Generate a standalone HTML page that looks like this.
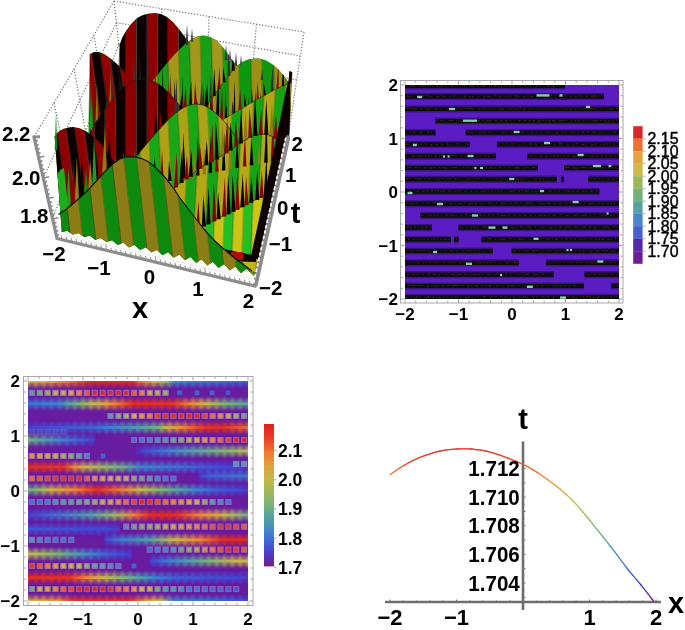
<!DOCTYPE html><html><head><meta charset="utf-8"><style>html,body{margin:0;padding:0;background:#fff;overflow:hidden}svg{display:block}</style></head><body>
<svg width="685" height="630" viewBox="0 0 685 630">
<rect width="685" height="630" fill="#fff"/>
<defs><filter id="gsoft" x="0" y="0" width="100%" height="100%" filterUnits="userSpaceOnUse"><feGaussianBlur stdDeviation="0.45"/></filter></defs>
<g filter="url(#gsoft)">
<defs><pattern id="prb" patternUnits="userSpaceOnUse" width="21.0" height="400" patternTransform="translate(0,0) skewX(0)"><rect width="10.5" height="400" fill="#8e0404"/><rect x="10.5" width="10.5" height="400" fill="#0a0302"/><rect x="10.0" width="0.8" height="400" fill="#555" opacity="0.6"/><rect x="20.5" width="0.8" height="400" fill="#555" opacity="0.6"/></pattern><pattern id="prb2" patternUnits="userSpaceOnUse" width="18" height="400" patternTransform="translate(3,0) skewX(8)"><rect width="9" height="400" fill="#8e0404"/><rect x="9" width="9" height="400" fill="#0a0302"/><rect x="8.5" width="0.8" height="400" fill="#555" opacity="0.6"/><rect x="17.5" width="0.8" height="400" fill="#555" opacity="0.6"/></pattern><pattern id="pgo" patternUnits="userSpaceOnUse" width="25.0" height="400" patternTransform="translate(6,0) skewX(6.5)"><rect width="12.5" height="400" fill="#0b8a0e"/><rect x="12.5" width="12.5" height="400" fill="#8c7c12"/><rect x="12.0" width="0.8" height="400" fill="#2c3a1a" opacity="0.6"/><rect x="24.5" width="0.8" height="400" fill="#2c3a1a" opacity="0.6"/></pattern><pattern id="pgo2" patternUnits="userSpaceOnUse" width="22" height="400" patternTransform="translate(5,0) skewX(4)"><rect width="11" height="400" fill="#0b8a0e"/><rect x="11" width="11" height="400" fill="#8c7c12"/><rect x="10.5" width="0.8" height="400" fill="#2c3a1a" opacity="0.6"/><rect x="21.5" width="0.8" height="400" fill="#2c3a1a" opacity="0.6"/></pattern><pattern id="pfg" patternUnits="userSpaceOnUse" width="22" height="400" patternTransform="translate(1,0) skewX(2)"><rect width="11" height="400" fill="#13a013"/><rect x="11" width="11" height="400" fill="#a2981a"/><rect x="10.5" width="0.8" height="400" fill="#3a3a1a" opacity="0.6"/><rect x="21.5" width="0.8" height="400" fill="#3a3a1a" opacity="0.6"/></pattern><pattern id="pgo3" patternUnits="userSpaceOnUse" width="23" height="400" patternTransform="translate(8,0) skewX(1)"><rect width="12" height="400" fill="#10980f"/><rect x="12" width="11" height="400" fill="#9c9018"/><rect x="11.5" width="0.8" height="400" fill="#3a3a1a" opacity="0.6"/><rect x="22.5" width="0.8" height="400" fill="#3a3a1a" opacity="0.6"/></pattern><pattern id="pgy" patternUnits="userSpaceOnUse" width="20" height="400" patternTransform="translate(2,0) skewX(3)"><rect width="10" height="400" fill="#16a816"/><rect x="10" width="10" height="400" fill="#aca218"/><rect x="9.5" width="0.8" height="400" fill="#4a4a1a" opacity="0.6"/><rect x="19.5" width="0.8" height="400" fill="#4a4a1a" opacity="0.6"/></pattern><pattern id="pgy2" patternUnits="userSpaceOnUse" width="21" height="400" patternTransform="translate(7,0) skewX(-3)"><rect width="10" height="400" fill="#12a412"/><rect x="10" width="11" height="400" fill="#b4a816"/><rect x="9.5" width="0.8" height="400" fill="#4a4a1a" opacity="0.6"/><rect x="20.5" width="0.8" height="400" fill="#4a4a1a" opacity="0.6"/></pattern><pattern id="pgy3" patternUnits="userSpaceOnUse" width="19" height="400" patternTransform="translate(4,0) skewX(-2)"><rect width="9" height="400" fill="#22c020"/><rect x="9" width="10" height="400" fill="#cfc418"/><rect x="8.5" width="0.8" height="400" fill="#4a4a1a" opacity="0.6"/><rect x="18.5" width="0.8" height="400" fill="#4a4a1a" opacity="0.6"/></pattern></defs>
<path d="M114.0,1.0L34.0,137.0M114.0,1.0L304.0,32.0M116.4,22.6L43.3,178.0M116.4,22.6L300.5,56.0M118.8,44.2L52.5,219.0M118.8,44.2L297.0,80.0M94.0,35.0L104.2,100.9M161.5,8.8L163.8,64.2M74.0,69.0L88.5,146.8M209.0,16.5L207.5,73.5M54.0,103.0L72.8,192.6M256.5,24.2L251.2,82.8M114.0,1.0L120.0,55.0M304.0,32.0L288.0,137.0" stroke="#7a7a7a" stroke-width="1.2" stroke-dasharray="1.3 1.7" fill="none"/>
<defs><clipPath id="surf"><path d="M54.5,135.0 L54.5,136.4 L55.5,135.1 L56.5,133.9 L57.5,132.6 L58.5,131.7 L59.5,131.1 L60.5,130.5 L61.5,129.9 L62.5,129.3 L63.5,128.8 L64.5,128.6 L65.5,128.2 L66.5,128.0 L67.5,127.7 L68.5,127.5 L69.5,127.3 L70.5,127.2 L71.5,127.2 L72.5,127.0 L73.5,127.1 L74.5,127.2 L75.5,127.4 L76.5,127.6 L77.5,127.8 L78.5,127.9 L79.5,128.2 L80.5,128.6 L81.5,129.0 L82.5,129.5 L83.5,129.9 L84.5,130.3 L85.5,130.9 L86.5,131.6 L87.5,132.4 L88.5,133.1 L89.5,54.0 L90.5,53.8 L91.5,53.2 L92.5,52.8 L93.5,52.2 L94.5,52.0 L95.5,52.0 L96.5,52.0 L97.5,52.0 L98.5,52.0 L99.5,52.2 L100.5,52.6 L101.5,53.0 L102.5,53.4 L103.5,53.8 L104.5,54.3 L105.5,55.0 L106.5,55.7 L107.5,56.3 L108.5,57.0 L109.5,57.7 L110.5,58.4 L111.5,59.2 L112.5,60.1 L113.5,60.9 L114.5,61.8 L115.5,62.6 L116.5,63.5 L117.5,64.5 L118.5,65.5 L119.5,44.0 L120.5,42.5 L121.5,39.5 L122.5,37.1 L123.5,35.4 L124.5,33.6 L125.5,31.9 L126.5,30.3 L127.5,28.9 L128.5,27.5 L129.5,26.1 L130.5,24.7 L131.5,23.5 L132.5,22.5 L133.5,21.5 L134.5,20.5 L135.5,19.5 L136.5,18.5 L137.5,17.8 L138.5,17.2 L139.5,16.8 L140.5,16.2 L141.5,15.8 L142.5,15.2 L143.5,14.9 L144.5,14.6 L145.5,14.4 L146.5,14.1 L147.5,13.9 L148.5,13.6 L149.5,13.5 L150.5,13.4 L151.5,13.3 L152.5,13.2 L153.5,13.1 L154.5,13.0 L155.5,13.1 L156.5,13.2 L157.5,13.4 L158.5,13.6 L159.5,13.8 L160.5,13.9 L161.5,14.2 L162.5,14.8 L163.5,15.2 L164.5,15.8 L165.5,16.2 L166.5,16.8 L167.5,17.4 L168.5,18.2 L169.5,19.1 L170.5,19.9 L171.5,20.8 L172.5,21.6 L173.5,22.6 L174.5,23.8 L175.5,24.9 L176.5,26.1 L177.5,27.2 L178.5,28.4 L179.5,29.7 L180.5,31.0 L181.5,32.3 L182.5,33.7 L183.5,35.0 L184.5,36.3 L185.5,37.8 L186.5,39.4 L187.5,41.0 L188.5,41.3 L189.5,40.7 L190.5,40.0 L191.5,39.3 L192.5,38.8 L193.5,38.2 L194.5,37.8 L195.5,37.2 L196.5,36.8 L197.5,36.2 L198.5,36.0 L199.5,35.9 L200.5,35.8 L201.5,35.7 L202.5,35.6 L203.5,35.5 L204.5,35.6 L205.5,35.9 L206.5,36.1 L207.5,36.4 L208.5,36.6 L209.5,36.9 L210.5,37.2 L211.5,37.8 L212.5,38.2 L213.5,38.8 L214.5,39.2 L215.5,39.8 L216.5,40.5 L217.5,41.5 L218.5,42.5 L219.5,43.5 L220.5,44.5 L221.5,45.5 L222.5,46.7 L223.5,48.0 L224.5,49.3 L225.5,50.7 L226.5,52.0 L227.5,53.3 L228.5,54.7 L229.5,56.1 L230.5,57.5 L231.5,58.9 L232.5,60.3 L233.5,61.6 L234.5,62.9 L235.5,64.1 L236.5,65.4 L237.5,65.5 L238.5,64.7 L239.5,64.0 L240.5,63.2 L241.5,62.4 L242.5,61.8 L243.5,61.4 L244.5,61.0 L245.5,60.5 L246.5,60.1 L247.5,59.7 L248.5,59.4 L249.5,59.2 L250.5,59.1 L251.5,58.9 L252.5,58.8 L253.5,58.6 L254.5,58.5 L255.5,58.5 L256.5,58.5 L257.5,58.5 L258.5,58.5 L259.5,58.5 L260.5,58.7 L261.5,59.0 L262.5,59.3 L263.5,59.7 L264.5,60.0 L265.5,60.3 L266.5,60.8 L267.5,61.4 L268.5,62.0 L269.5,62.5 L270.5,63.1 L271.5,63.7 L272.5,64.4 L273.5,65.2 L274.5,66.1 L275.5,66.9 L276.5,67.8 L277.5,68.6 L278.5,69.6 L279.5,70.7 L280.5,71.8 L281.5,72.9 L282.5,74.0 L283.5,75.1 L284.5,76.4 L285.5,77.9 L286.5,79.3 L287.5,80.8 L288.5,82.3 L289.3,71.0 L292.5,72.0 L289.0,137.0 L256.5,280.0 L254.0,276.0 L246.5,269.0 L240.9,273.2 L235.3,266.7 L229.7,270.6 L224.1,264.3 L218.5,268.0 L212.9,261.9 L207.3,265.5 L201.7,259.5 L196.1,262.9 L190.5,257.1 L184.9,260.3 L179.3,254.7 L173.7,257.7 L168.1,252.3 L162.5,255.2 L156.9,249.9 L151.3,252.6 L145.7,247.5 L140.1,250.0 L134.5,245.1 L128.9,247.4 L123.3,242.7 L117.7,244.9 L112.1,240.3 L106.5,242.3 L100.9,237.9 L95.3,239.7 L89.7,235.5 L84.1,237.1 L78.5,233.1 L72.9,234.6 L67.3,230.7 L61.7,232.0 L61.7,230.0Z"/></clipPath></defs>
<g clip-path="url(#surf)">
<rect x="50" y="0" width="250" height="290" fill="url(#pgo2)"/>
<path d="M120.0,44.0 L122.0,38.0 L126.0,31.0 L131.0,24.0 L137.0,18.0 L143.0,15.0 L149.0,13.5 L155.0,13.0 L161.0,14.0 L167.0,17.0 L173.0,22.0 L179.0,29.0 L185.0,37.0 L190.0,45.0 L196.0,54.0 L202.0,64.0 L202.0,160.0 L120.0,160.0Z" fill="url(#prb)"/>
<path d="M90.0,54.0 L94.0,52.0 L99.0,52.0 L104.0,54.0 L110.0,58.0 L116.0,63.0 L122.0,69.0 L128.0,76.0 L134.0,84.0 L134.0,160.0 L90.0,160.0Z" fill="url(#prb2)"/>
<path d="M90.4,132.0L92.1,100.1L93.6,132.0ZM103.8,132.0L106.4,100.3L107.0,132.0ZM119.7,132.0L121.8,85.8L122.9,132.0Z" fill="#0b8a0e" opacity="1"/>
<path d="M95.1,132.0L97.0,81.8L98.3,132.0ZM108.7,132.0L110.3,70.2L111.9,132.0ZM125.1,132.0L127.2,108.8L128.3,132.0Z" fill="#8c7c12" opacity="1"/>
<path d="M99.3,132.0L101.5,111.3L102.5,132.0ZM114.0,132.0L115.9,104.5L117.2,132.0ZM130.3,132.0L130.9,96.9L133.5,132.0Z" fill="#1c9a1c" opacity="1"/>
<path d="M150.0,84.0 L156.0,77.0 L162.0,69.0 L168.0,62.0 L174.0,55.0 L180.0,49.0 L186.0,43.0 L192.0,39.0 L198.0,36.0 L204.0,35.5 L210.0,37.0 L216.0,40.0 L222.0,46.0 L228.0,54.0 L233.0,61.0 L237.0,66.0 L237.0,170.0 L150.0,170.0Z" fill="url(#pfg)"/>
<path d="M196.0,122.0 L200.0,116.0 L207.5,105.0 L215.0,94.0 L222.0,84.0 L229.0,75.0 L235.6,67.0 L242.0,62.0 L248.0,59.5 L254.0,58.5 L260.0,58.5 L266.0,60.5 L272.0,64.0 L278.0,69.0 L284.0,75.7 L289.0,83.0 L291.0,71.0 L291.0,180.0 L196.0,180.0Z" fill="url(#pgo3)"/>
<path d="M196.0,122.0 L200.0,116.0 L207.5,105.0 L215.0,94.0 L222.0,84.0 L229.0,75.0 L235.6,67.0" fill="none" stroke="#1a1a10" stroke-width="0.8" opacity="0.6"/>
<path d="M289,71 L292,72 L288,140 L284,140Z" fill="#0a0302"/>
<path d="M158.2,129.3L160.4,87.8L161.8,129.3ZM173.0,131.3L174.7,78.3L176.6,131.3ZM187.2,133.2L189.9,100.6L190.8,133.2ZM201.0,135.0L202.5,96.5L204.6,135.0ZM215.8,137.0L218.3,79.5L219.4,137.0ZM232.1,139.2L234.8,80.4L235.7,139.2ZM247.3,141.8L248.6,96.7L250.9,141.8ZM258.9,144.1L260.5,91.1L262.5,144.1ZM273.0,147.0L275.0,120.4L276.6,147.0Z" fill="#0a0302" opacity="1"/>
<path d="M166.3,130.4L168.9,80.4L169.9,130.4ZM194.0,134.1L195.4,87.2L197.6,134.1ZM224.1,138.1L225.3,89.6L227.7,138.1ZM253.0,143.0L255.8,88.1L256.6,143.0ZM278.7,148.1L280.1,98.0L282.3,148.1Z" fill="#8e0404" opacity="1"/>
<path d="M181.2,132.4L182.2,76.6L184.8,132.4ZM208.2,136.0L210.9,90.6L211.8,136.0ZM239.3,140.2L240.6,90.2L242.9,140.2ZM264.9,145.3L267.2,110.1L268.5,145.3Z" fill="#222" opacity="1"/>
<path d="M111.3,101.7L112.0,67.1L112.7,101.7ZM133.7,82.7L133.7,55.5L135.1,82.7ZM154.6,84.2L155.6,58.8L156.0,84.2Z" fill="#3a3a3a" opacity="1"/>
<path d="M119.7,91.7L119.5,70.5L121.1,91.7ZM139.4,81.3L139.8,49.0L140.8,81.3ZM161.9,89.0L162.8,62.8L163.3,89.0Z" fill="#222" opacity="1"/>
<path d="M127.0,86.0L127.1,70.4L128.4,86.0ZM147.7,81.7L148.2,48.8L149.1,81.7ZM170.1,97.0L170.7,71.9L171.5,97.0Z" fill="#5a1a1a" opacity="1"/>
<path d="M196.5,120.0L197.6,100.2L199.5,120.0ZM205.5,106.8L207.1,83.5L208.5,106.8ZM212.8,96.0L214.3,68.4L215.8,96.0ZM222.6,82.3L223.2,66.9L225.6,82.3ZM231.8,70.8L233.0,43.9L234.8,70.8Z" fill="#0a0302" opacity="1"/>
<path d="M201.9,112.1L203.5,86.6L204.9,112.1ZM217.6,89.1L219.6,67.0L220.6,89.1Z" fill="#8e0404" opacity="1"/>
<path d="M209.1,101.4L210.9,74.1L212.1,101.4ZM227.4,76.1L228.4,41.9L230.4,76.1Z" fill="#333" opacity="1"/>
<path d="M91.0,130.0 L96.0,122.0 L102.0,113.0 L108.0,105.0 L114.0,97.0 L120.0,90.0 L126.0,85.0 L132.0,81.5 L138.0,79.5 L144.0,79.0 L150.0,80.0 L156.0,82.5 L162.0,86.5 L168.0,92.0 L174.0,98.5 L180.0,106.0 L186.0,114.0 L192.0,123.0 L198.0,133.0 L204.0,143.0 L204.0,200.0 L91.0,200.0Z" fill="url(#prb)"/>
<path d="M90.3,175.1L91.7,157.3L93.7,175.1ZM116.5,178.7L117.6,162.8L119.9,178.7ZM139.4,181.9L141.8,155.6L142.8,181.9Z" fill="#0b8a0e" opacity="1"/>
<path d="M96.5,176.0L98.0,158.5L99.9,176.0ZM122.3,179.5L123.2,152.1L125.7,179.5ZM145.2,182.7L146.2,167.1L148.6,182.7Z" fill="#8c7c12" opacity="1"/>
<path d="M103.2,176.9L105.0,166.2L106.6,176.9ZM127.9,180.3L130.3,162.0L131.3,180.3Z" fill="#8e0404" opacity="1"/>
<path d="M109.7,177.8L110.9,160.1L113.1,177.8ZM133.7,181.1L134.8,149.7L137.1,181.1Z" fill="#19a019" opacity="1"/>
<path d="M205.0,130.0 L215.0,124.5 L224.0,119.0 L235.0,112.5 L245.0,106.5 L255.0,100.5 L265.0,95.0 L275.0,89.5 L283.0,86.0 L291.0,83.0 L291.0,200.0 L205.0,200.0Z" fill="url(#pgy2)"/>
<path d="M205.0,130.0 L215.0,124.5 L224.0,119.0 L235.0,112.5 L245.0,106.5 L255.0,100.5 L265.0,95.0 L275.0,89.5 L283.0,86.0 L291.0,83.0" fill="none" stroke="#1a1a10" stroke-width="0.8" opacity="0.6"/>
<path d="M224.8,117.8L226.6,104.4L227.2,117.8ZM244.0,106.4L244.8,94.1L246.4,106.4ZM263.5,95.2L263.7,82.4L265.9,95.2ZM281.7,86.0L283.6,62.6L284.1,86.0Z" fill="#0a0302" opacity="1"/>
<path d="M231.6,113.8L232.4,100.5L234.0,113.8ZM250.7,102.4L251.6,87.5L253.1,102.4ZM270.6,91.3L272.7,65.4L273.0,91.3Z" fill="#2a2a2a" opacity="1"/>
<path d="M238.3,109.8L240.2,88.2L240.7,109.8ZM256.5,99.0L257.5,81.5L258.9,99.0ZM276.4,88.4L278.5,61.3L278.8,88.4Z" fill="#8e0404" opacity="1"/>
<path d="M154.4,134.0L155.6,107.1L157.6,134.0ZM164.3,123.3L166.5,101.7L167.5,123.3ZM179.4,110.2L181.4,94.9L182.6,110.2ZM188.7,105.8L191.2,81.3L191.9,105.8ZM204.4,107.5L206.1,88.0L207.6,107.5ZM215.9,115.8L218.1,82.2L219.1,115.8Z" fill="#0a0302" opacity="1"/>
<path d="M159.1,128.9L159.8,108.7L162.3,128.9ZM168.3,119.2L170.3,83.4L171.5,119.2ZM183.7,107.9L185.6,86.0L186.9,107.9ZM194.0,105.1L195.1,82.2L197.2,105.1ZM210.0,111.0L212.2,92.0L213.2,111.0ZM219.9,119.6L222.2,90.1L223.1,119.6Z" fill="#8e0404" opacity="1"/>
<path d="M174.2,113.9L176.6,78.3L177.4,113.9ZM199.7,105.8L201.9,79.8L202.9,105.8Z" fill="#333" opacity="1"/>
<path d="M134.0,160.0 L140.0,152.0 L145.0,146.0 L150.0,140.0 L156.0,133.0 L162.0,126.5 L168.0,120.0 L175.0,113.5 L182.0,108.5 L189.0,105.0 L196.0,104.0 L203.0,105.0 L209.0,108.0 L215.0,112.5 L221.0,118.0 L227.0,125.0 L233.0,133.0 L239.0,142.0 L239.0,200.0 L134.0,200.0Z" fill="url(#pgy)"/>
<path d="M171.0,191.0 L180.0,183.0 L190.0,176.0 L200.0,168.0 L210.0,162.0 L220.0,157.0 L230.0,150.0 L240.0,143.0 L250.0,137.0 L258.0,134.0 L266.0,134.0 L274.0,137.0 L282.0,142.0 L288.0,148.0 L288.0,148.0 L289.0,160.0 L262.0,240.0 L171.0,240.0Z" fill="url(#pgy2)"/>
<path d="M153.2,184.0L154.5,155.9L156.8,184.0ZM168.1,181.0L169.0,161.0L171.7,181.0ZM182.3,178.2L183.3,132.5L185.9,178.2ZM195.9,175.5L197.9,136.0L199.5,175.5ZM208.5,173.1L210.7,136.4L212.1,173.1ZM221.8,170.6L224.2,132.4L225.4,170.6ZM235.3,168.1L237.1,136.9L238.9,168.1ZM249.7,165.3L251.6,138.0L253.3,165.3ZM264.1,162.7L266.7,116.3L267.7,162.7ZM277.0,160.2L278.1,126.3L280.6,160.2Z" fill="#0a0302" opacity="1"/>
<path d="M160.3,182.6L162.0,149.9L163.9,182.6ZM189.3,176.8L190.8,147.3L192.9,176.8ZM215.1,171.8L216.3,149.4L218.7,171.8ZM242.8,166.6L245.0,134.0L246.4,166.6ZM270.7,161.4L273.1,114.5L274.3,161.4Z" fill="#8e0404" opacity="1"/>
<path d="M174.0,179.8L174.9,156.1L177.6,179.8ZM202.5,174.2L204.0,148.5L206.1,174.2ZM228.5,169.3L230.5,125.3L232.1,169.3ZM257.3,163.9L258.9,141.8L260.9,163.9Z" fill="#8c7c12" opacity="1"/>
<path d="M173.9,187.6L176.8,152.3L178.1,187.6ZM184.6,179.3L186.9,155.2L188.8,179.3ZM198.5,168.7L199.6,143.1L202.7,168.7ZM209.5,162.2L212.5,123.5L213.7,162.2ZM224.4,153.4L227.4,116.5L228.6,153.4ZM234.2,146.6L235.6,119.8L238.4,146.6ZM248.2,137.9L249.4,107.5L252.4,137.9ZM258.7,135.0L261.2,109.8L262.9,135.0ZM273.4,139.0L276.0,115.1L277.6,139.0Z" fill="#8e0404" opacity="1"/>
<path d="M179.5,182.9L182.1,147.5L183.7,182.9ZM188.6,176.4L191.3,151.6L192.8,176.4ZM204.2,165.2L206.9,140.8L208.4,165.2ZM214.7,159.6L215.8,121.6L218.9,159.6ZM228.5,150.6L230.8,122.1L232.7,150.6ZM238.7,143.5L241.3,109.2L242.9,143.5ZM253.2,136.0L255.1,94.6L257.4,136.0ZM264.2,135.1L266.3,99.6L268.4,135.1Z" fill="#0a0302" opacity="1"/>
<path d="M192.7,173.2L194.0,149.3L196.9,173.2ZM220.2,156.4L222.7,124.2L224.4,156.4ZM243.5,140.7L245.4,111.3L247.7,140.7ZM269.2,137.0L272.0,102.1L273.4,137.0Z" fill="#8c7c12" opacity="1"/>
<path d="M91.0,130.0 L96.0,122.0 L102.0,113.0 L108.0,105.0 L114.0,97.0 L120.0,90.0 L126.0,85.0 L132.0,81.5 L138.0,79.5 L144.0,79.0 L150.0,80.0 L156.0,82.5 L162.0,86.5 L168.0,92.0 L174.0,98.5 L180.0,106.0" fill="none" stroke="#1a1a10" stroke-width="0.9" opacity="0.7"/>
<path d="M134.0,160.0 L140.0,152.0 L145.0,146.0 L150.0,140.0 L156.0,133.0 L162.0,126.5 L168.0,120.0 L175.0,113.5 L182.0,108.5 L189.0,105.0 L196.0,104.0 L203.0,105.0 L209.0,108.0 L215.0,112.5 L221.0,118.0 L227.0,125.0 L233.0,133.0 L239.0,142.0" fill="none" stroke="#1a1a10" stroke-width="0.9" opacity="0.7"/>
<path d="M171.0,191.0 L180.0,183.0 L190.0,176.0 L200.0,168.0 L210.0,162.0 L220.0,157.0 L230.0,150.0 L240.0,143.0 L250.0,137.0 L258.0,134.0 L266.0,134.0 L274.0,137.0 L282.0,142.0 L288.0,148.0" fill="none" stroke="#1a1a10" stroke-width="0.9" opacity="0.7"/>
<path d="M54.0,137.0 L58.0,132.0 L63.0,129.0 L68.0,127.5 L73.0,127.0 L79.0,128.0 L85.0,130.5 L91.0,135.0 L97.0,140.0 L103.0,147.0 L109.0,155.0 L115.0,163.0 L115.0,240.0 L54.0,240.0Z" fill="url(#prb2)"/>
<path d="M57.6,216.5L59.9,176.0L62.4,216.5ZM83.7,194.9L86.1,169.2L88.5,194.9Z" fill="#0b8a0e" opacity="1"/>
<path d="M62.5,213.2L64.4,182.6L67.3,213.2ZM74.6,203.2L76.8,157.0L79.4,203.2ZM88.0,190.5L90.1,160.4L92.8,190.5ZM102.0,175.1L105.1,125.0L106.8,175.1Z" fill="#8c7c12" opacity="1"/>
<path d="M66.5,210.2L68.5,167.6L71.3,210.2ZM92.2,186.0L93.9,137.8L97.0,186.0Z" fill="#1ca01c" opacity="1"/>
<path d="M70.5,206.8L73.8,161.0L75.3,206.8ZM97.6,180.0L100.2,140.6L102.4,180.0Z" fill="#8e0404" opacity="1"/>
<path d="M79.7,198.7L81.7,156.1L84.5,198.7ZM106.6,170.4L109.5,131.0L111.4,170.4Z" fill="#0a0302" opacity="1"/>
<path d="M56.5,176 L60,170 L64,168 L68,206 L58,214 Z" fill="#1fae1c"/>
<path d="M196.0,232.0 L200.0,227.6 L215.0,220.0 L230.0,212.5 L245.0,205.0 L258.0,198.5 L266.0,195.0 L272.0,192.0 L272.0,192.0 L262.0,262.0 L196.0,262.0Z" fill="url(#pgy3)"/>
<path d="M195.9,230.8L198.5,200.8L200.1,230.8ZM212.2,221.4L213.8,182.3L216.4,221.4ZM222.0,216.5L224.9,177.3L226.2,216.5ZM235.5,209.7L237.2,171.0L239.7,209.7ZM244.3,205.3L246.2,176.6L248.5,205.3ZM259.4,198.0L261.8,170.5L263.6,198.0Z" fill="#8e0404" opacity="1"/>
<path d="M201.8,226.6L203.4,195.3L206.0,226.6ZM206.3,224.3L208.7,188.0L210.5,224.3ZM216.6,219.2L218.1,192.0L220.8,219.2ZM226.5,214.2L228.2,174.9L230.7,214.2ZM231.4,211.8L232.6,175.2L235.6,211.8ZM240.3,207.3L242.7,173.7L244.5,207.3ZM249.2,202.8L251.5,176.6L253.4,202.8ZM255.1,199.9L257.3,170.1L259.3,199.9ZM263.6,196.1L266.5,156.4L267.8,196.1Z" fill="#0a0302" opacity="1"/>
<path d="M196.0,232.0 L200.0,227.6 L215.0,220.0 L230.0,212.5 L245.0,205.0 L258.0,198.5 L266.0,195.0 L272.0,192.0" fill="none" stroke="#1a1a10" stroke-width="0.9" opacity="0.7"/>
<path d="M219,248 L257,256 L256,262 L232,261 L222,254Z" fill="#0a0302"/>
<rect x="231" y="252" width="12" height="8" fill="#b00808"/>
<path d="M243,262 L256,262 L255,272 L246,270Z" fill="#c2b416"/>
<path d="M284,100 L290,72 L291,140 L263,262 L251,256 L275,145 Z" fill="#0a0302"/>
<path d="M58.5,214.5 L66.7,209.0 L72.0,204.5 L78.4,199.0 L84.0,194.0 L90.0,188.0 L96.0,181.5 L101.7,175.0 L107.6,168.7 L113.4,163.4 L119.2,159.3 L125.0,157.2 L130.0,156.7 L135.0,157.0 L141.0,158.3 L148.0,161.5 L155.0,167.0 L162.0,174.0 L168.0,181.0 L174.0,189.0 L180.0,198.0 L186.0,206.0 L192.0,214.0 L198.0,221.5 L204.0,229.0 L210.0,236.0 L216.0,242.0 L222.0,247.5 L228.0,252.5 L234.0,257.5 L240.0,262.0 L246.0,266.5 L252.0,271.0 L256.0,276.0 L256.0,300.0 L50.0,300.0 L50.0,214.0Z" fill="url(#pgo)"/>
</g>
<path d="M58.5,214.5 L66.7,209.0 L72.0,204.5 L78.4,199.0 L84.0,194.0 L90.0,188.0 L96.0,181.5 L101.7,175.0 L107.6,168.7 L113.4,163.4 L119.2,159.3 L125.0,157.2 L130.0,156.7 L135.0,157.0 L141.0,158.3 L148.0,161.5 L155.0,167.0 L162.0,174.0 L168.0,181.0 L174.0,189.0 L180.0,198.0 L186.0,206.0 L192.0,214.0 L198.0,221.5 L204.0,229.0 L210.0,236.0 L216.0,242.0 L222.0,247.5 L228.0,252.5 L234.0,257.5 L240.0,262.0 L246.0,266.5 L252.0,271.0" fill="none" stroke="#111" stroke-width="1.2"/>
<path d="M54.7,150 L56,112 L57.3,150Z" fill="#0b8a0e"/>
<path d="M89.7,130 L91,83 L92.3,130Z" fill="#1a9a1a"/>
<path d="M185.7,45 L187,24 L188.3,45Z" fill="#333"/>
<path d="M190.7,42 L192,28 L193.3,42Z" fill="#444"/>
<path d="M224.7,60 L226,44 L227.3,60Z" fill="#333"/>
<path d="M228.7,62 L230,48 L231.3,62Z" fill="#555"/>
<path d="M234.7,66 L236,52 L237.3,66Z" fill="#444"/>
<path d="M239.7,66 L241,55 L242.3,66Z" fill="#555"/>
<path d="M260.7,80 L262,70 L263.3,80Z" fill="#333"/>
<path d="M34,137 L57,238.5 L255,286 L288,137" stroke="#8c8c8c" fill="none" stroke-linecap="square" stroke-linejoin="miter" stroke-width="3.2"/>
<path d="M34.0,137.0L39.9,135.7M34.9,141.1L37.9,140.4M35.9,145.2L38.8,144.5M36.8,149.3L39.7,148.6M37.7,153.4L40.6,152.7M38.6,157.5L44.5,156.2M39.6,161.6L42.5,160.9M40.5,165.7L43.4,165.0M41.4,169.8L44.4,169.1M42.4,173.9L45.3,173.2M43.3,178.0L49.1,176.7M44.2,182.1L47.1,181.4M45.1,186.2L48.1,185.5M46.1,190.3L49.0,189.6M47.0,194.4L49.9,193.7M47.9,198.5L53.8,197.2M48.9,202.6L51.8,201.9M49.8,206.7L52.7,206.0M50.7,210.8L53.6,210.1M51.7,214.9L54.6,214.2M52.6,219.0L58.4,217.7M53.5,223.1L56.4,222.4M54.4,227.2L57.4,226.5M55.4,231.3L58.3,230.6M56.3,235.4L59.2,234.7" stroke="#8c8c8c" stroke-width="1.6" fill="none"/>
<path d="M62.0,238.7L61.2,235.7M66.9,239.9L66.1,236.9M71.8,241.1L71.0,238.1M76.8,242.2L76.0,239.2M81.8,243.4L81.0,240.4M86.7,244.6L85.9,241.6M91.7,245.8L90.9,242.8M96.6,247.0L95.8,244.0M101.5,248.2L100.8,245.2M106.5,249.4L105.7,244.4M111.5,250.6L110.7,247.6M116.4,251.8L115.6,248.8M121.3,252.9L120.5,249.9M126.3,254.1L125.5,251.1M131.2,255.3L130.4,252.3M136.2,256.5L135.4,253.5M141.2,257.7L140.3,254.7M146.1,258.9L145.3,255.9M151.1,260.1L150.2,257.1M156.0,261.2L155.2,256.2M160.9,262.4L160.1,259.4M165.9,263.6L165.1,260.6M170.8,264.8L170.0,261.8M175.8,266.0L175.0,263.0M180.8,267.2L179.9,264.2M185.7,268.4L184.9,265.4M190.7,269.6L189.8,266.6M195.6,270.8L194.8,267.8M200.6,271.9L199.8,268.9M205.5,273.1L204.7,268.1M210.4,274.3L209.6,271.3M215.4,275.5L214.6,272.5M220.3,276.7L219.5,273.7M225.3,277.9L224.5,274.9M230.2,279.1L229.4,276.1M235.2,280.2L234.4,277.2M240.2,281.4L239.3,278.4M245.1,282.6L244.3,279.6M250.1,283.8L249.2,280.8" stroke="#9a9a9a" stroke-width="1.1" fill="none"/>
<path d="M62,234.5 L252,279" stroke="#c8c8c8" stroke-width="1" stroke-dasharray="1 2" fill="none"/>
<path d="M255,286 L288,137" stroke="#8c8c8c" stroke-width="5" fill="none"/>
<path d="M253.6,283 L285.8,138" stroke="#fff" stroke-width="1.7" stroke-dasharray="3.6 2" fill="none"/>
<path d="M34,137 h6" stroke="#8c8c8c" stroke-width="2.5"/>
<text x="2" y="141" font-family="Liberation Sans, sans-serif" font-weight="bold" font-size="20.5">2.2</text>
<text x="12" y="185.3" font-family="Liberation Sans, sans-serif" font-weight="bold" font-size="20.5">2.0</text>
<text x="20" y="223" font-family="Liberation Sans, sans-serif" font-weight="bold" font-size="20.5">1.8</text>
<text x="54" y="261" font-family="Liberation Sans, sans-serif" font-weight="bold" font-size="20.5" text-anchor="middle">−2</text>
<text x="99" y="274.5" font-family="Liberation Sans, sans-serif" font-weight="bold" font-size="20.5" text-anchor="middle">−1</text>
<text x="149.5" y="284" font-family="Liberation Sans, sans-serif" font-weight="bold" font-size="20.5" text-anchor="middle">0</text>
<text x="198" y="296" font-family="Liberation Sans, sans-serif" font-weight="bold" font-size="20.5" text-anchor="middle">1</text>
<text x="248.5" y="308" font-family="Liberation Sans, sans-serif" font-weight="bold" font-size="20.5" text-anchor="middle">2</text>
<text x="259" y="294.6" font-family="Liberation Sans, sans-serif" font-weight="bold" font-size="20.5">−2</text>
<text x="268.7" y="251.4" font-family="Liberation Sans, sans-serif" font-weight="bold" font-size="20.5">−1</text>
<text x="277" y="215" font-family="Liberation Sans, sans-serif" font-weight="bold" font-size="20.5">0</text>
<text x="285" y="181.5" font-family="Liberation Sans, sans-serif" font-weight="bold" font-size="20.5">1</text>
<text x="291.5" y="150.5" font-family="Liberation Sans, sans-serif" font-weight="bold" font-size="20.5">2</text>
<text x="140" y="317.5" font-family="Liberation Sans, sans-serif" font-weight="bold" font-size="29" text-anchor="middle">x</text>
<text x="295.5" y="223" font-family="Liberation Sans, sans-serif" font-weight="bold" font-size="29" text-anchor="middle">t</text>
<rect x="400.5" y="80.5" width="222.5" height="222.5" fill="none" stroke="#a8a8a8" stroke-width="1"/>
<path d="M405.0,303V299M405.0,80.5V84.5M400.5,299.0H404.5M623,299.0H619M415.7,303V300.5M415.7,80.5V83.0M400.5,288.3H403.0M623,288.3H620.5M426.4,303V300.5M426.4,80.5V83.0M400.5,277.6H403.0M623,277.6H620.5M437.1,303V300.5M437.1,80.5V83.0M400.5,266.9H403.0M623,266.9H620.5M447.8,303V300.5M447.8,80.5V83.0M400.5,256.2H403.0M623,256.2H620.5M458.5,303V299M458.5,80.5V84.5M400.5,245.5H404.5M623,245.5H619M469.2,303V300.5M469.2,80.5V83.0M400.5,234.8H403.0M623,234.8H620.5M479.9,303V300.5M479.9,80.5V83.0M400.5,224.1H403.0M623,224.1H620.5M490.6,303V300.5M490.6,80.5V83.0M400.5,213.4H403.0M623,213.4H620.5M501.3,303V300.5M501.3,80.5V83.0M400.5,202.7H403.0M623,202.7H620.5M512.0,303V299M512.0,80.5V84.5M400.5,192.0H404.5M623,192.0H619M522.7,303V300.5M522.7,80.5V83.0M400.5,181.3H403.0M623,181.3H620.5M533.4,303V300.5M533.4,80.5V83.0M400.5,170.6H403.0M623,170.6H620.5M544.1,303V300.5M544.1,80.5V83.0M400.5,159.9H403.0M623,159.9H620.5M554.8,303V300.5M554.8,80.5V83.0M400.5,149.2H403.0M623,149.2H620.5M565.5,303V299M565.5,80.5V84.5M400.5,138.5H404.5M623,138.5H619M576.2,303V300.5M576.2,80.5V83.0M400.5,127.8H403.0M623,127.8H620.5M586.9,303V300.5M586.9,80.5V83.0M400.5,117.1H403.0M623,117.1H620.5M597.6,303V300.5M597.6,80.5V83.0M400.5,106.4H403.0M623,106.4H620.5M608.3,303V300.5M608.3,80.5V83.0M400.5,95.7H403.0M623,95.7H620.5M619.0,303V299M619.0,80.5V84.5M400.5,85.0H404.5M623,85.0H619" stroke="#a8a8a8" stroke-width="1" fill="none"/>
<rect x="405" y="85" width="214" height="214" fill="#5b1fc4"/>
<defs><filter id="bl2" x="-5%" y="-50%" width="110%" height="200%"><feGaussianBlur stdDeviation="0.45"/></filter></defs>
<g filter="url(#bl2)">
<rect x="405.0" y="85.0" width="160.0" height="4.6" fill="#2c1070" opacity="0.8"/>
<rect x="405.0" y="85.0" width="160.0" height="3.0" fill="#080708"/>
<rect x="405.0" y="92.8" width="199.0" height="7.2" fill="#2c1070" opacity="0.8"/>
<rect x="405.0" y="94.4" width="199.0" height="4.1" fill="#080708"/>
<rect x="405.0" y="105.3" width="214.0" height="7.2" fill="#2c1070" opacity="0.8"/>
<rect x="405.0" y="106.9" width="214.0" height="4.1" fill="#080708"/>
<rect x="435.5" y="117.4" width="183.5" height="7.2" fill="#2c1070" opacity="0.8"/>
<rect x="435.5" y="119.0" width="183.5" height="4.1" fill="#080708"/>
<rect x="405.0" y="129.0" width="30.5" height="7.2" fill="#2c1070" opacity="0.8"/>
<rect x="405.0" y="130.5" width="30.5" height="4.1" fill="#080708"/>
<rect x="465.7" y="129.0" width="153.3" height="7.2" fill="#2c1070" opacity="0.8"/>
<rect x="465.7" y="130.5" width="153.3" height="4.1" fill="#080708"/>
<rect x="405.0" y="140.8" width="64.6" height="7.2" fill="#2c1070" opacity="0.8"/>
<rect x="405.0" y="142.3" width="64.6" height="4.1" fill="#080708"/>
<rect x="497.0" y="140.8" width="122.0" height="7.2" fill="#2c1070" opacity="0.8"/>
<rect x="497.0" y="142.3" width="122.0" height="4.1" fill="#080708"/>
<rect x="405.0" y="152.6" width="91.0" height="7.2" fill="#2c1070" opacity="0.8"/>
<rect x="405.0" y="154.1" width="91.0" height="4.1" fill="#080708"/>
<rect x="527.5" y="152.6" width="91.5" height="7.2" fill="#2c1070" opacity="0.8"/>
<rect x="527.5" y="154.1" width="91.5" height="4.1" fill="#080708"/>
<rect x="405.0" y="164.4" width="133.0" height="7.2" fill="#2c1070" opacity="0.8"/>
<rect x="405.0" y="165.9" width="133.0" height="4.1" fill="#080708"/>
<rect x="564.0" y="164.4" width="55.0" height="7.2" fill="#2c1070" opacity="0.8"/>
<rect x="564.0" y="165.9" width="55.0" height="4.1" fill="#080708"/>
<rect x="405.0" y="175.6" width="152.0" height="7.2" fill="#2c1070" opacity="0.8"/>
<rect x="405.0" y="177.1" width="152.0" height="4.1" fill="#080708"/>
<rect x="561.0" y="175.6" width="3.0" height="7.2" fill="#2c1070" opacity="0.8"/>
<rect x="561.0" y="177.1" width="3.0" height="4.1" fill="#080708"/>
<rect x="588.0" y="175.6" width="31.0" height="7.2" fill="#2c1070" opacity="0.8"/>
<rect x="588.0" y="177.1" width="31.0" height="4.1" fill="#080708"/>
<rect x="405.0" y="187.9" width="194.4" height="7.2" fill="#2c1070" opacity="0.8"/>
<rect x="405.0" y="189.4" width="194.4" height="4.1" fill="#080708"/>
<rect x="405.0" y="200.1" width="214.0" height="7.2" fill="#2c1070" opacity="0.8"/>
<rect x="405.0" y="201.6" width="214.0" height="4.1" fill="#080708"/>
<rect x="420.4" y="211.9" width="198.6" height="7.2" fill="#2c1070" opacity="0.8"/>
<rect x="420.4" y="213.4" width="198.6" height="4.1" fill="#080708"/>
<rect x="405.0" y="224.0" width="27.0" height="7.2" fill="#2c1070" opacity="0.8"/>
<rect x="405.0" y="225.5" width="27.0" height="4.1" fill="#080708"/>
<rect x="458.5" y="224.0" width="160.5" height="7.2" fill="#2c1070" opacity="0.8"/>
<rect x="458.5" y="225.5" width="160.5" height="4.1" fill="#080708"/>
<rect x="405.0" y="235.9" width="46.0" height="7.2" fill="#2c1070" opacity="0.8"/>
<rect x="405.0" y="237.4" width="46.0" height="4.1" fill="#080708"/>
<rect x="454.0" y="235.9" width="4.5" height="7.2" fill="#2c1070" opacity="0.8"/>
<rect x="454.0" y="237.4" width="4.5" height="4.1" fill="#080708"/>
<rect x="481.5" y="235.9" width="137.5" height="7.2" fill="#2c1070" opacity="0.8"/>
<rect x="481.5" y="237.4" width="137.5" height="4.1" fill="#080708"/>
<rect x="405.0" y="247.4" width="88.0" height="7.2" fill="#2c1070" opacity="0.8"/>
<rect x="405.0" y="248.9" width="88.0" height="4.1" fill="#080708"/>
<rect x="511.7" y="247.4" width="107.3" height="7.2" fill="#2c1070" opacity="0.8"/>
<rect x="511.7" y="248.9" width="107.3" height="4.1" fill="#080708"/>
<rect x="405.0" y="259.2" width="114.0" height="7.2" fill="#2c1070" opacity="0.8"/>
<rect x="405.0" y="260.8" width="114.0" height="4.1" fill="#080708"/>
<rect x="546.0" y="259.2" width="73.0" height="7.2" fill="#2c1070" opacity="0.8"/>
<rect x="546.0" y="260.8" width="73.0" height="4.1" fill="#080708"/>
<rect x="405.0" y="271.0" width="148.7" height="7.2" fill="#2c1070" opacity="0.8"/>
<rect x="405.0" y="272.6" width="148.7" height="4.1" fill="#080708"/>
<rect x="584.6" y="271.0" width="34.4" height="7.2" fill="#2c1070" opacity="0.8"/>
<rect x="584.6" y="272.6" width="34.4" height="4.1" fill="#080708"/>
<rect x="405.0" y="282.4" width="179.0" height="7.2" fill="#2c1070" opacity="0.8"/>
<rect x="405.0" y="283.9" width="179.0" height="4.1" fill="#080708"/>
<rect x="611.0" y="282.4" width="8.0" height="7.2" fill="#2c1070" opacity="0.8"/>
<rect x="611.0" y="283.9" width="8.0" height="4.1" fill="#080708"/>
<rect x="405.0" y="293.8" width="214.0" height="5.2" fill="#2c1070" opacity="0.8"/>
<rect x="405.0" y="295.3" width="214.0" height="3.7" fill="#080708"/>
<path d="M406.4,85.3h2.1v1.4h-2.1ZM410.2,85.1h2.0v1.4h-2.0ZM413.0,85.1h2.0v1.4h-2.0ZM418.1,84.8h1.2v1.4h-1.2ZM420.5,85.2h2.6v1.4h-2.6ZM422.7,85.4h3.0v1.4h-3.0ZM427.3,84.7h2.2v1.4h-2.2ZM429.3,84.6h2.1v1.4h-2.1ZM432.1,84.6h1.5v1.4h-1.5ZM436.0,85.3h1.9v1.4h-1.9ZM440.0,85.0h2.3v1.4h-2.3ZM444.7,84.8h1.9v1.4h-1.9ZM450.7,85.3h3.0v1.4h-3.0ZM455.5,84.8h1.6v1.4h-1.6ZM458.7,85.2h1.1v1.4h-1.1ZM462.3,84.9h2.7v1.4h-2.7ZM468.1,84.6h2.7v1.4h-2.7ZM470.9,85.0h2.8v1.4h-2.8ZM476.9,84.7h1.8v1.4h-1.8ZM481.4,84.8h2.6v1.4h-2.6ZM483.7,85.4h1.7v1.4h-1.7ZM488.7,84.8h1.2v1.4h-1.2ZM491.2,85.2h1.1v1.4h-1.1ZM493.9,85.0h2.1v1.4h-2.1ZM496.6,84.7h2.5v1.4h-2.5ZM501.2,84.9h1.2v1.4h-1.2ZM504.1,85.4h1.5v1.4h-1.5ZM509.3,85.3h1.6v1.4h-1.6ZM512.1,85.3h1.8v1.4h-1.8ZM516.7,85.4h1.2v1.4h-1.2ZM519.5,85.2h1.5v1.4h-1.5ZM522.8,84.7h1.6v1.4h-1.6ZM525.2,84.8h2.2v1.4h-2.2ZM529.6,85.0h1.7v1.4h-1.7ZM535.4,85.1h2.0v1.4h-2.0ZM540.9,84.7h1.4v1.4h-1.4ZM546.5,84.8h2.6v1.4h-2.6ZM549.3,85.4h2.5v1.4h-2.5ZM552.1,85.3h2.9v1.4h-2.9ZM556.5,84.7h1.8v1.4h-1.8ZM558.7,84.8h2.9v1.4h-2.9ZM405.8,95.5h2.6v1.4h-2.6ZM408.9,95.6h1.4v1.4h-1.4ZM411.2,95.4h1.5v1.4h-1.5ZM416.6,95.2h2.2v1.4h-2.2ZM422.3,95.0h1.4v1.4h-1.4ZM425.4,95.0h1.9v1.4h-1.9ZM428.1,95.5h1.7v1.4h-1.7ZM430.6,95.7h1.7v1.4h-1.7ZM436.5,95.6h2.3v1.4h-2.3ZM440.9,95.0h1.3v1.4h-1.3ZM442.9,95.6h2.8v1.4h-2.8ZM448.8,95.5h1.0v1.4h-1.0ZM452.7,95.3h2.5v1.4h-2.5ZM458.7,95.4h1.2v1.4h-1.2ZM463.7,95.6h2.8v1.4h-2.8ZM468.5,95.7h2.6v1.4h-2.6ZM471.9,95.7h2.4v1.4h-2.4ZM477.4,95.6h1.8v1.4h-1.8ZM482.8,95.5h2.1v1.4h-2.1ZM486.4,95.5h2.2v1.4h-2.2ZM488.7,95.8h2.3v1.4h-2.3ZM494.2,95.3h2.5v1.4h-2.5ZM499.1,95.4h2.2v1.4h-2.2ZM504.5,95.6h1.2v1.4h-1.2ZM506.6,95.4h2.2v1.4h-2.2ZM509.5,95.4h2.4v1.4h-2.4ZM514.0,95.2h2.8v1.4h-2.8ZM516.0,95.5h1.6v1.4h-1.6ZM518.8,95.7h1.3v1.4h-1.3ZM523.5,95.7h1.9v1.4h-1.9ZM526.8,95.2h2.3v1.4h-2.3ZM530.5,95.7h2.6v1.4h-2.6ZM536.0,95.5h1.8v1.4h-1.8ZM539.3,95.4h1.3v1.4h-1.3ZM544.6,95.6h2.7v1.4h-2.7ZM550.4,95.1h1.6v1.4h-1.6ZM554.3,95.2h1.6v1.4h-1.6ZM557.9,95.4h2.3v1.4h-2.3ZM561.2,95.8h2.7v1.4h-2.7ZM565.0,95.0h1.1v1.4h-1.1ZM570.5,95.6h1.1v1.4h-1.1ZM574.8,95.6h1.6v1.4h-1.6ZM576.8,95.4h1.3v1.4h-1.3ZM578.9,95.2h2.7v1.4h-2.7ZM581.5,95.5h1.1v1.4h-1.1ZM585.3,95.5h2.3v1.4h-2.3ZM590.5,95.5h2.9v1.4h-2.9ZM593.3,95.1h2.0v1.4h-2.0ZM595.3,95.6h1.9v1.4h-1.9ZM598.1,95.3h1.5v1.4h-1.5ZM406.6,108.1h2.2v1.4h-2.2ZM410.1,108.2h2.6v1.4h-2.6ZM412.5,108.1h2.9v1.4h-2.9ZM415.0,108.0h1.9v1.4h-1.9ZM420.6,108.0h1.8v1.4h-1.8ZM426.2,108.3h2.6v1.4h-2.6ZM430.0,107.7h2.3v1.4h-2.3ZM434.9,108.0h2.6v1.4h-2.6ZM439.8,108.2h1.4v1.4h-1.4ZM445.7,107.9h3.0v1.4h-3.0ZM450.9,108.2h1.6v1.4h-1.6ZM456.3,107.6h1.7v1.4h-1.7ZM460.0,108.1h2.1v1.4h-2.1ZM464.0,108.1h1.1v1.4h-1.1ZM466.3,107.6h2.6v1.4h-2.6ZM469.6,107.6h2.6v1.4h-2.6ZM472.2,108.1h2.0v1.4h-2.0ZM477.5,108.3h2.4v1.4h-2.4ZM481.5,107.6h2.9v1.4h-2.9ZM484.4,107.7h2.1v1.4h-2.1ZM489.3,107.9h2.3v1.4h-2.3ZM494.7,107.7h2.1v1.4h-2.1ZM498.2,108.2h2.7v1.4h-2.7ZM501.1,108.3h2.7v1.4h-2.7ZM505.1,107.7h2.1v1.4h-2.1ZM509.3,108.0h2.0v1.4h-2.0ZM511.4,107.9h2.9v1.4h-2.9ZM515.0,108.0h2.6v1.4h-2.6ZM519.0,107.6h2.4v1.4h-2.4ZM523.1,108.3h1.8v1.4h-1.8ZM528.8,107.9h1.5v1.4h-1.5ZM531.3,108.2h1.9v1.4h-1.9ZM536.9,107.8h2.0v1.4h-2.0ZM539.7,108.2h2.2v1.4h-2.2ZM542.2,107.5h2.6v1.4h-2.6ZM545.0,108.0h1.5v1.4h-1.5ZM548.3,108.0h1.7v1.4h-1.7ZM550.7,107.6h2.5v1.4h-2.5ZM554.7,107.7h1.5v1.4h-1.5ZM558.9,107.8h1.9v1.4h-1.9ZM562.5,107.6h2.1v1.4h-2.1ZM565.3,108.0h2.3v1.4h-2.3ZM569.4,108.0h2.7v1.4h-2.7ZM574.9,108.1h1.5v1.4h-1.5ZM580.1,107.8h2.8v1.4h-2.8ZM583.4,107.7h2.8v1.4h-2.8ZM589.4,107.6h2.8v1.4h-2.8ZM592.3,107.7h2.5v1.4h-2.5ZM594.7,107.8h2.7v1.4h-2.7ZM599.9,107.8h1.3v1.4h-1.3ZM604.6,107.7h1.0v1.4h-1.0ZM609.3,108.3h2.8v1.4h-2.8ZM611.8,108.1h2.0v1.4h-2.0ZM615.8,107.7h2.4v1.4h-2.4ZM435.8,120.0h1.1v1.4h-1.1ZM439.9,119.7h2.1v1.4h-2.1ZM442.6,120.3h1.4v1.4h-1.4ZM448.6,119.7h2.9v1.4h-2.9ZM450.8,120.0h2.9v1.4h-2.9ZM455.9,120.0h1.7v1.4h-1.7ZM459.9,120.1h1.9v1.4h-1.9ZM462.0,120.3h2.4v1.4h-2.4ZM464.7,120.2h1.9v1.4h-1.9ZM468.3,119.7h1.4v1.4h-1.4ZM472.4,120.3h1.0v1.4h-1.0ZM477.6,120.3h2.4v1.4h-2.4ZM482.1,120.1h1.8v1.4h-1.8ZM486.1,120.2h3.0v1.4h-3.0ZM489.2,120.2h2.8v1.4h-2.8ZM494.3,119.9h2.6v1.4h-2.6ZM499.9,120.2h2.8v1.4h-2.8ZM504.9,119.9h2.5v1.4h-2.5ZM509.8,119.9h1.1v1.4h-1.1ZM513.7,119.9h1.0v1.4h-1.0ZM518.3,119.8h2.2v1.4h-2.2ZM524.0,119.9h2.3v1.4h-2.3ZM528.7,120.0h2.1v1.4h-2.1ZM532.2,120.1h3.0v1.4h-3.0ZM537.0,120.4h2.5v1.4h-2.5ZM539.1,120.2h2.2v1.4h-2.2ZM542.2,119.6h1.8v1.4h-1.8ZM544.9,119.7h1.8v1.4h-1.8ZM547.9,120.0h2.8v1.4h-2.8ZM552.0,120.1h2.9v1.4h-2.9ZM558.0,120.2h2.3v1.4h-2.3ZM560.3,120.2h2.2v1.4h-2.2ZM562.4,119.7h2.9v1.4h-2.9ZM566.3,120.0h1.3v1.4h-1.3ZM570.8,120.4h1.1v1.4h-1.1ZM574.5,120.1h2.1v1.4h-2.1ZM577.9,120.1h1.6v1.4h-1.6ZM582.2,120.2h1.6v1.4h-1.6ZM585.3,119.8h1.0v1.4h-1.0ZM587.5,120.2h1.3v1.4h-1.3ZM591.1,120.2h2.8v1.4h-2.8ZM593.3,120.4h3.0v1.4h-3.0ZM595.6,119.9h2.8v1.4h-2.8ZM599.5,119.8h2.9v1.4h-2.9ZM603.6,120.2h2.9v1.4h-2.9ZM607.4,120.3h3.0v1.4h-3.0ZM611.9,120.1h1.2v1.4h-1.2ZM615.7,119.6h1.4v1.4h-1.4ZM405.4,131.7h1.9v1.4h-1.9ZM409.2,131.7h1.5v1.4h-1.5ZM412.9,131.6h2.6v1.4h-2.6ZM418.9,131.8h2.9v1.4h-2.9ZM421.8,131.9h1.2v1.4h-1.2ZM427.0,131.5h2.2v1.4h-2.2ZM430.0,131.7h2.4v1.4h-2.4ZM467.6,131.4h2.5v1.4h-2.5ZM470.6,131.9h3.0v1.4h-3.0ZM476.1,131.2h1.1v1.4h-1.1ZM479.2,131.7h1.9v1.4h-1.9ZM481.6,131.3h2.1v1.4h-2.1ZM483.9,131.6h2.4v1.4h-2.4ZM488.5,131.6h1.7v1.4h-1.7ZM491.3,131.8h1.7v1.4h-1.7ZM496.7,131.3h1.1v1.4h-1.1ZM501.9,131.8h2.2v1.4h-2.2ZM504.8,131.4h1.8v1.4h-1.8ZM510.0,131.7h1.7v1.4h-1.7ZM516.0,131.6h1.7v1.4h-1.7ZM520.9,131.5h2.8v1.4h-2.8ZM524.4,131.9h1.2v1.4h-1.2ZM526.7,131.7h1.2v1.4h-1.2ZM530.7,131.4h2.4v1.4h-2.4ZM535.8,131.4h1.2v1.4h-1.2ZM540.4,131.4h1.2v1.4h-1.2ZM545.3,131.4h2.4v1.4h-2.4ZM547.9,131.8h1.7v1.4h-1.7ZM551.4,131.8h1.2v1.4h-1.2ZM555.6,132.0h2.8v1.4h-2.8ZM561.3,131.8h1.9v1.4h-1.9ZM564.5,131.5h1.6v1.4h-1.6ZM570.2,131.4h2.8v1.4h-2.8ZM573.7,131.5h1.7v1.4h-1.7ZM577.3,131.4h1.8v1.4h-1.8ZM581.5,131.6h2.6v1.4h-2.6ZM586.9,131.3h2.1v1.4h-2.1ZM591.9,131.4h2.8v1.4h-2.8ZM594.0,131.6h2.0v1.4h-2.0ZM598.3,131.7h2.9v1.4h-2.9ZM603.5,131.6h1.1v1.4h-1.1ZM608.6,131.3h1.2v1.4h-1.2ZM613.6,131.3h2.8v1.4h-2.8ZM405.4,143.5h2.5v1.4h-2.5ZM408.4,143.6h1.4v1.4h-1.4ZM412.5,143.3h2.5v1.4h-2.5ZM415.9,143.5h2.9v1.4h-2.9ZM419.8,143.6h2.1v1.4h-2.1ZM424.7,143.3h2.8v1.4h-2.8ZM430.0,143.7h2.3v1.4h-2.3ZM435.2,143.7h2.7v1.4h-2.7ZM441.0,143.4h2.3v1.4h-2.3ZM445.9,143.3h2.6v1.4h-2.6ZM449.5,143.6h1.3v1.4h-1.3ZM455.5,143.1h1.8v1.4h-1.8ZM458.3,143.2h1.8v1.4h-1.8ZM464.2,143.2h1.1v1.4h-1.1ZM466.7,143.6h2.3v1.4h-2.3ZM497.2,143.5h1.9v1.4h-1.9ZM502.8,143.1h1.1v1.4h-1.1ZM505.6,143.2h1.4v1.4h-1.4ZM510.4,143.2h2.2v1.4h-2.2ZM513.2,143.1h1.6v1.4h-1.6ZM518.2,143.4h1.6v1.4h-1.6ZM523.5,143.2h2.0v1.4h-2.0ZM529.0,143.3h2.8v1.4h-2.8ZM533.2,143.4h2.9v1.4h-2.9ZM536.1,143.8h1.1v1.4h-1.1ZM541.3,143.4h1.8v1.4h-1.8ZM545.4,143.8h1.5v1.4h-1.5ZM550.0,143.0h1.5v1.4h-1.5ZM553.9,143.6h1.7v1.4h-1.7ZM558.7,143.1h2.2v1.4h-2.2ZM561.4,143.2h1.6v1.4h-1.6ZM566.8,143.5h2.0v1.4h-2.0ZM572.8,143.4h1.5v1.4h-1.5ZM575.4,143.0h2.5v1.4h-2.5ZM580.7,143.7h2.7v1.4h-2.7ZM583.0,143.6h1.5v1.4h-1.5ZM585.4,143.4h2.0v1.4h-2.0ZM591.2,143.7h2.2v1.4h-2.2ZM594.5,143.3h2.6v1.4h-2.6ZM600.1,143.7h1.2v1.4h-1.2ZM603.0,143.4h2.1v1.4h-2.1ZM605.6,143.2h2.7v1.4h-2.7ZM608.8,143.2h1.2v1.4h-1.2ZM612.7,143.3h2.4v1.4h-2.4ZM405.3,155.2h1.8v1.4h-1.8ZM411.2,155.3h2.7v1.4h-2.7ZM413.2,155.4h1.8v1.4h-1.8ZM416.2,155.2h2.1v1.4h-2.1ZM418.2,155.4h3.0v1.4h-3.0ZM421.1,155.0h2.2v1.4h-2.2ZM424.6,155.0h2.1v1.4h-2.1ZM427.9,155.3h1.8v1.4h-1.8ZM430.9,155.4h1.4v1.4h-1.4ZM434.2,155.3h2.9v1.4h-2.9ZM439.1,155.5h1.7v1.4h-1.7ZM441.5,154.9h1.3v1.4h-1.3ZM446.2,154.9h2.4v1.4h-2.4ZM449.8,155.3h2.7v1.4h-2.7ZM452.2,154.9h1.5v1.4h-1.5ZM454.7,154.9h1.8v1.4h-1.8ZM460.4,155.2h1.9v1.4h-1.9ZM465.0,155.5h2.5v1.4h-2.5ZM468.5,155.1h1.7v1.4h-1.7ZM470.6,155.4h1.8v1.4h-1.8ZM476.5,155.3h2.6v1.4h-2.6ZM480.9,155.1h1.0v1.4h-1.0ZM484.3,154.9h2.3v1.4h-2.3ZM487.8,155.4h2.0v1.4h-2.0ZM493.1,154.9h2.2v1.4h-2.2ZM530.2,155.1h2.1v1.4h-2.1ZM534.2,155.4h1.3v1.4h-1.3ZM540.2,155.4h2.0v1.4h-2.0ZM545.5,155.6h1.4v1.4h-1.4ZM550.0,154.9h1.4v1.4h-1.4ZM553.0,155.4h2.2v1.4h-2.2ZM556.3,155.1h2.9v1.4h-2.9ZM560.2,155.6h1.2v1.4h-1.2ZM562.7,155.2h2.8v1.4h-2.8ZM566.9,155.0h2.1v1.4h-2.1ZM572.6,155.5h3.0v1.4h-3.0ZM577.0,155.5h1.2v1.4h-1.2ZM580.1,155.0h2.8v1.4h-2.8ZM584.4,154.9h2.7v1.4h-2.7ZM588.6,154.8h1.2v1.4h-1.2ZM591.3,155.6h3.0v1.4h-3.0ZM596.0,155.3h1.6v1.4h-1.6ZM600.9,155.3h1.8v1.4h-1.8ZM606.1,155.0h1.0v1.4h-1.0ZM610.0,155.1h1.3v1.4h-1.3ZM614.3,155.2h1.3v1.4h-1.3ZM406.7,167.1h1.7v1.4h-1.7ZM408.9,166.7h2.3v1.4h-2.3ZM414.7,167.0h2.2v1.4h-2.2ZM418.3,167.2h2.2v1.4h-2.2ZM423.4,167.0h2.5v1.4h-2.5ZM429.3,167.3h2.7v1.4h-2.7ZM433.0,167.1h1.9v1.4h-1.9ZM438.6,167.0h2.1v1.4h-2.1ZM442.3,166.9h2.8v1.4h-2.8ZM444.6,167.3h2.5v1.4h-2.5ZM449.5,167.2h2.2v1.4h-2.2ZM452.7,166.7h2.2v1.4h-2.2ZM455.2,167.0h1.9v1.4h-1.9ZM458.8,167.2h1.1v1.4h-1.1ZM462.9,166.8h1.5v1.4h-1.5ZM466.5,166.7h1.5v1.4h-1.5ZM472.1,167.1h2.9v1.4h-2.9ZM477.6,167.2h1.8v1.4h-1.8ZM480.5,167.1h2.5v1.4h-2.5ZM486.1,167.2h1.2v1.4h-1.2ZM488.6,167.4h2.1v1.4h-2.1ZM490.6,166.8h1.5v1.4h-1.5ZM493.9,167.3h1.1v1.4h-1.1ZM499.1,166.9h1.8v1.4h-1.8ZM503.5,166.6h1.1v1.4h-1.1ZM509.1,167.0h1.6v1.4h-1.6ZM514.8,167.0h3.0v1.4h-3.0ZM517.6,167.3h1.6v1.4h-1.6ZM523.2,167.3h1.4v1.4h-1.4ZM526.6,166.7h1.9v1.4h-1.9ZM532.2,166.8h3.0v1.4h-3.0ZM564.6,166.6h2.8v1.4h-2.8ZM567.0,166.9h2.5v1.4h-2.5ZM572.6,167.2h2.7v1.4h-2.7ZM575.1,167.4h2.4v1.4h-2.4ZM578.9,166.8h1.2v1.4h-1.2ZM582.1,166.8h2.4v1.4h-2.4ZM584.9,167.1h1.5v1.4h-1.5ZM590.0,167.1h1.7v1.4h-1.7ZM595.6,166.8h2.2v1.4h-2.2ZM598.8,167.1h2.9v1.4h-2.9ZM601.9,166.7h2.3v1.4h-2.3ZM607.8,167.0h1.9v1.4h-1.9ZM611.9,167.1h1.1v1.4h-1.1ZM615.1,167.2h1.5v1.4h-1.5ZM405.9,178.0h2.5v1.4h-2.5ZM409.0,177.9h2.1v1.4h-2.1ZM414.6,177.8h3.0v1.4h-3.0ZM418.4,178.1h2.5v1.4h-2.5ZM424.1,177.9h2.0v1.4h-2.0ZM428.3,178.1h2.3v1.4h-2.3ZM433.0,178.2h2.6v1.4h-2.6ZM437.0,178.3h2.7v1.4h-2.7ZM441.1,177.9h2.9v1.4h-2.9ZM446.2,178.3h1.3v1.4h-1.3ZM449.1,178.4h1.9v1.4h-1.9ZM454.3,178.0h2.6v1.4h-2.6ZM458.2,178.3h1.4v1.4h-1.4ZM462.2,178.3h1.1v1.4h-1.1ZM467.1,178.5h2.1v1.4h-2.1ZM469.8,177.8h1.3v1.4h-1.3ZM473.8,178.2h1.9v1.4h-1.9ZM476.9,177.9h2.6v1.4h-2.6ZM482.5,178.2h2.1v1.4h-2.1ZM487.7,177.9h1.5v1.4h-1.5ZM490.9,178.1h1.1v1.4h-1.1ZM495.4,178.0h2.1v1.4h-2.1ZM499.7,178.5h1.2v1.4h-1.2ZM502.4,177.9h1.5v1.4h-1.5ZM507.2,178.4h2.7v1.4h-2.7ZM509.4,178.1h1.8v1.4h-1.8ZM512.3,177.8h2.9v1.4h-2.9ZM516.3,178.6h2.5v1.4h-2.5ZM518.8,178.4h1.9v1.4h-1.9ZM521.0,178.5h1.5v1.4h-1.5ZM523.6,178.0h1.8v1.4h-1.8ZM527.3,177.8h1.2v1.4h-1.2ZM533.2,178.4h2.5v1.4h-2.5ZM536.2,178.2h1.5v1.4h-1.5ZM539.1,178.5h1.9v1.4h-1.9ZM542.6,178.6h1.7v1.4h-1.7ZM547.0,178.1h1.1v1.4h-1.1ZM551.6,178.1h1.1v1.4h-1.1ZM589.8,178.2h2.8v1.4h-2.8ZM593.3,178.1h2.7v1.4h-2.7ZM598.5,178.1h1.4v1.4h-1.4ZM601.2,177.9h2.1v1.4h-2.1ZM604.0,178.2h1.4v1.4h-1.4ZM607.3,178.6h1.9v1.4h-1.9ZM612.0,178.0h2.7v1.4h-2.7ZM615.5,178.4h1.1v1.4h-1.1ZM405.8,190.2h1.0v1.4h-1.0ZM408.9,190.8h1.8v1.4h-1.8ZM413.7,190.4h1.5v1.4h-1.5ZM416.3,190.4h2.9v1.4h-2.9ZM421.4,190.8h2.4v1.4h-2.4ZM423.5,190.4h1.6v1.4h-1.6ZM425.8,190.4h2.8v1.4h-2.8ZM430.9,190.1h2.0v1.4h-2.0ZM434.5,190.1h1.5v1.4h-1.5ZM437.1,190.1h2.2v1.4h-2.2ZM440.3,190.5h1.8v1.4h-1.8ZM442.9,190.3h2.4v1.4h-2.4ZM447.8,190.2h2.3v1.4h-2.3ZM450.6,190.7h1.6v1.4h-1.6ZM454.2,190.8h1.8v1.4h-1.8ZM457.1,190.4h1.6v1.4h-1.6ZM460.0,190.1h1.1v1.4h-1.1ZM464.5,190.7h2.1v1.4h-2.1ZM470.4,190.6h1.6v1.4h-1.6ZM476.1,190.7h1.4v1.4h-1.4ZM480.8,190.8h2.9v1.4h-2.9ZM483.7,190.2h2.3v1.4h-2.3ZM487.4,190.1h1.8v1.4h-1.8ZM490.9,190.5h1.7v1.4h-1.7ZM494.1,190.4h1.3v1.4h-1.3ZM498.0,190.6h1.3v1.4h-1.3ZM500.9,190.4h1.2v1.4h-1.2ZM504.6,190.6h1.3v1.4h-1.3ZM509.4,190.7h2.1v1.4h-2.1ZM511.5,190.4h1.8v1.4h-1.8ZM513.8,190.1h1.8v1.4h-1.8ZM517.7,190.5h2.2v1.4h-2.2ZM521.0,190.1h1.5v1.4h-1.5ZM524.4,190.6h2.8v1.4h-2.8ZM527.5,190.2h2.3v1.4h-2.3ZM531.4,190.9h2.2v1.4h-2.2ZM534.8,190.9h2.2v1.4h-2.2ZM539.9,190.6h2.3v1.4h-2.3ZM543.5,190.3h1.8v1.4h-1.8ZM548.9,190.4h2.8v1.4h-2.8ZM554.5,190.2h1.1v1.4h-1.1ZM558.5,190.4h1.6v1.4h-1.6ZM564.4,190.3h1.3v1.4h-1.3ZM567.3,190.3h2.4v1.4h-2.4ZM569.3,190.4h2.1v1.4h-2.1ZM572.3,190.6h2.0v1.4h-2.0ZM576.5,190.5h2.2v1.4h-2.2ZM581.8,190.4h2.9v1.4h-2.9ZM585.2,190.4h2.8v1.4h-2.8ZM590.1,190.6h2.4v1.4h-2.4ZM595.9,190.2h2.6v1.4h-2.6ZM406.5,202.6h2.1v1.4h-2.1ZM409.6,202.7h2.5v1.4h-2.5ZM412.6,202.6h1.5v1.4h-1.5ZM415.3,202.4h2.0v1.4h-2.0ZM417.5,202.4h1.1v1.4h-1.1ZM422.3,202.7h1.2v1.4h-1.2ZM427.4,202.4h2.0v1.4h-2.0ZM432.9,202.3h2.7v1.4h-2.7ZM435.9,202.9h2.0v1.4h-2.0ZM439.5,202.5h2.4v1.4h-2.4ZM444.3,202.6h1.7v1.4h-1.7ZM449.4,203.0h2.7v1.4h-2.7ZM453.7,202.9h1.8v1.4h-1.8ZM458.1,202.9h2.7v1.4h-2.7ZM460.6,202.8h1.8v1.4h-1.8ZM463.6,202.3h1.4v1.4h-1.4ZM467.9,203.1h2.9v1.4h-2.9ZM470.4,202.6h2.4v1.4h-2.4ZM475.0,203.0h1.8v1.4h-1.8ZM480.9,202.9h1.1v1.4h-1.1ZM483.4,202.5h1.1v1.4h-1.1ZM488.3,202.4h3.0v1.4h-3.0ZM491.6,202.7h1.1v1.4h-1.1ZM495.6,202.5h1.7v1.4h-1.7ZM500.8,202.5h2.7v1.4h-2.7ZM504.3,202.9h2.2v1.4h-2.2ZM510.3,202.9h1.8v1.4h-1.8ZM514.5,202.4h2.6v1.4h-2.6ZM517.2,203.0h1.2v1.4h-1.2ZM520.2,202.4h2.0v1.4h-2.0ZM523.5,202.8h1.0v1.4h-1.0ZM526.0,202.5h2.3v1.4h-2.3ZM528.9,202.6h2.0v1.4h-2.0ZM532.0,202.4h1.1v1.4h-1.1ZM537.6,202.4h1.6v1.4h-1.6ZM540.3,203.1h2.0v1.4h-2.0ZM543.1,202.7h2.7v1.4h-2.7ZM546.7,202.6h2.6v1.4h-2.6ZM549.0,202.8h2.1v1.4h-2.1ZM553.5,203.1h1.6v1.4h-1.6ZM558.9,202.7h3.0v1.4h-3.0ZM564.3,202.4h2.4v1.4h-2.4ZM566.4,202.4h1.3v1.4h-1.3ZM568.7,202.9h1.7v1.4h-1.7ZM571.9,202.3h2.0v1.4h-2.0ZM574.8,202.3h2.9v1.4h-2.9ZM578.9,202.9h2.6v1.4h-2.6ZM583.8,202.9h1.8v1.4h-1.8ZM589.1,203.1h2.5v1.4h-2.5ZM591.5,202.6h2.9v1.4h-2.9ZM596.3,203.0h1.5v1.4h-1.5ZM598.4,202.5h2.2v1.4h-2.2ZM602.0,202.8h1.7v1.4h-1.7ZM607.2,202.8h1.7v1.4h-1.7ZM610.6,203.0h1.6v1.4h-1.6ZM613.9,202.6h1.2v1.4h-1.2ZM421.0,214.5h2.5v1.4h-2.5ZM425.8,214.2h1.4v1.4h-1.4ZM428.3,214.4h1.7v1.4h-1.7ZM430.4,214.4h2.0v1.4h-2.0ZM433.7,214.9h2.1v1.4h-2.1ZM436.5,214.4h2.8v1.4h-2.8ZM441.5,214.9h1.2v1.4h-1.2ZM445.2,214.3h2.9v1.4h-2.9ZM448.8,214.2h2.4v1.4h-2.4ZM451.9,214.9h2.4v1.4h-2.4ZM455.2,214.4h1.4v1.4h-1.4ZM461.2,214.6h1.3v1.4h-1.3ZM464.7,214.3h2.3v1.4h-2.3ZM469.2,214.8h2.8v1.4h-2.8ZM473.7,214.6h2.0v1.4h-2.0ZM476.1,214.7h2.7v1.4h-2.7ZM479.9,214.4h2.3v1.4h-2.3ZM483.5,214.6h1.5v1.4h-1.5ZM487.8,214.1h2.0v1.4h-2.0ZM492.3,214.6h1.9v1.4h-1.9ZM496.7,214.2h2.9v1.4h-2.9ZM500.5,214.7h3.0v1.4h-3.0ZM503.8,214.9h2.5v1.4h-2.5ZM507.4,214.2h2.7v1.4h-2.7ZM513.4,214.3h2.0v1.4h-2.0ZM518.7,214.9h2.3v1.4h-2.3ZM524.0,214.5h2.6v1.4h-2.6ZM530.0,214.8h1.1v1.4h-1.1ZM534.9,214.7h1.5v1.4h-1.5ZM538.7,214.8h2.1v1.4h-2.1ZM541.5,214.6h1.6v1.4h-1.6ZM543.7,214.7h2.1v1.4h-2.1ZM547.7,214.7h1.5v1.4h-1.5ZM553.1,214.5h2.5v1.4h-2.5ZM558.8,214.2h2.6v1.4h-2.6ZM562.2,214.1h1.2v1.4h-1.2ZM565.6,214.8h2.7v1.4h-2.7ZM568.1,214.4h1.4v1.4h-1.4ZM573.5,214.8h2.2v1.4h-2.2ZM575.8,214.3h3.0v1.4h-3.0ZM580.3,214.7h2.8v1.4h-2.8ZM583.1,214.4h2.3v1.4h-2.3ZM585.1,214.4h1.7v1.4h-1.7ZM589.6,214.6h1.6v1.4h-1.6ZM594.4,214.2h1.4v1.4h-1.4ZM599.2,214.2h1.9v1.4h-1.9ZM601.7,214.6h2.9v1.4h-2.9ZM605.1,214.9h1.4v1.4h-1.4ZM609.9,214.4h2.5v1.4h-2.5ZM613.1,214.2h1.8v1.4h-1.8ZM406.3,226.5h2.6v1.4h-2.6ZM410.1,227.0h2.0v1.4h-2.0ZM413.5,226.4h2.4v1.4h-2.4ZM417.8,226.9h1.6v1.4h-1.6ZM420.9,226.7h2.7v1.4h-2.7ZM424.8,226.5h2.9v1.4h-2.9ZM429.7,226.6h2.2v1.4h-2.2ZM459.8,226.6h1.6v1.4h-1.6ZM465.6,226.8h1.6v1.4h-1.6ZM470.3,226.5h1.5v1.4h-1.5ZM472.8,226.4h2.8v1.4h-2.8ZM476.5,226.9h1.7v1.4h-1.7ZM481.9,226.6h2.2v1.4h-2.2ZM484.3,226.3h2.8v1.4h-2.8ZM487.7,226.8h1.7v1.4h-1.7ZM492.4,226.9h1.7v1.4h-1.7ZM498.2,226.7h1.0v1.4h-1.0ZM502.1,226.6h1.7v1.4h-1.7ZM505.3,226.7h2.3v1.4h-2.3ZM511.2,227.0h3.0v1.4h-3.0ZM514.8,226.7h2.7v1.4h-2.7ZM519.6,226.3h3.0v1.4h-3.0ZM523.5,226.7h1.8v1.4h-1.8ZM526.3,226.4h3.0v1.4h-3.0ZM529.8,226.5h1.3v1.4h-1.3ZM534.8,226.3h1.2v1.4h-1.2ZM539.4,226.8h2.2v1.4h-2.2ZM542.4,226.8h2.6v1.4h-2.6ZM547.5,226.6h1.2v1.4h-1.2ZM549.6,227.0h2.7v1.4h-2.7ZM555.1,226.5h1.0v1.4h-1.0ZM559.3,226.3h2.1v1.4h-2.1ZM564.4,226.6h1.6v1.4h-1.6ZM566.9,226.3h2.1v1.4h-2.1ZM569.3,226.4h2.0v1.4h-2.0ZM574.4,226.5h1.5v1.4h-1.5ZM576.6,226.6h1.4v1.4h-1.4ZM580.9,226.9h1.9v1.4h-1.9ZM583.3,226.3h2.7v1.4h-2.7ZM589.1,226.5h2.0v1.4h-2.0ZM593.6,227.0h2.7v1.4h-2.7ZM597.3,226.3h1.0v1.4h-1.0ZM602.5,226.8h2.5v1.4h-2.5ZM605.2,226.2h2.1v1.4h-2.1ZM607.6,227.0h1.6v1.4h-1.6ZM612.2,226.2h2.7v1.4h-2.7ZM615.8,226.4h1.2v1.4h-1.2ZM407.8,238.5h1.7v1.4h-1.7ZM412.4,238.9h2.8v1.4h-2.8ZM416.6,238.8h2.0v1.4h-2.0ZM420.2,238.7h1.6v1.4h-1.6ZM423.3,238.4h1.7v1.4h-1.7ZM427.2,238.4h1.7v1.4h-1.7ZM431.0,238.8h1.1v1.4h-1.1ZM433.2,238.5h2.1v1.4h-2.1ZM436.8,238.2h1.4v1.4h-1.4ZM440.3,238.5h1.6v1.4h-1.6ZM443.2,238.5h2.5v1.4h-2.5ZM445.3,238.9h1.8v1.4h-1.8ZM447.3,238.9h2.2v1.4h-2.2ZM455.8,238.3h1.7v1.4h-1.7ZM483.3,238.5h1.6v1.4h-1.6ZM487.3,238.1h2.5v1.4h-2.5ZM489.7,238.3h1.5v1.4h-1.5ZM494.9,238.8h1.9v1.4h-1.9ZM498.5,238.6h1.6v1.4h-1.6ZM500.8,238.8h3.0v1.4h-3.0ZM504.2,238.8h1.6v1.4h-1.6ZM509.3,238.1h2.3v1.4h-2.3ZM514.4,238.6h1.1v1.4h-1.1ZM518.6,238.6h2.9v1.4h-2.9ZM520.7,238.7h2.9v1.4h-2.9ZM525.0,238.7h1.0v1.4h-1.0ZM528.6,238.9h2.4v1.4h-2.4ZM534.3,238.7h1.1v1.4h-1.1ZM538.1,238.4h2.5v1.4h-2.5ZM541.9,238.2h1.9v1.4h-1.9ZM545.1,238.2h2.5v1.4h-2.5ZM547.6,238.6h2.7v1.4h-2.7ZM551.8,238.2h1.2v1.4h-1.2ZM555.0,238.5h2.9v1.4h-2.9ZM560.7,238.4h1.4v1.4h-1.4ZM564.9,238.2h2.7v1.4h-2.7ZM570.4,238.1h1.9v1.4h-1.9ZM574.1,238.6h1.8v1.4h-1.8ZM579.8,238.7h2.0v1.4h-2.0ZM583.4,238.2h2.6v1.4h-2.6ZM588.3,238.6h1.3v1.4h-1.3ZM591.1,238.2h1.7v1.4h-1.7ZM594.5,238.5h2.2v1.4h-2.2ZM598.1,238.8h2.1v1.4h-2.1ZM601.5,238.5h2.2v1.4h-2.2ZM607.5,238.7h1.7v1.4h-1.7ZM610.4,238.7h1.5v1.4h-1.5ZM614.7,238.2h1.5v1.4h-1.5ZM406.1,249.9h2.4v1.4h-2.4ZM410.6,250.4h2.1v1.4h-2.1ZM416.2,250.0h1.9v1.4h-1.9ZM419.2,249.7h2.5v1.4h-2.5ZM422.4,249.6h2.7v1.4h-2.7ZM427.2,250.0h2.1v1.4h-2.1ZM430.5,250.4h1.3v1.4h-1.3ZM435.6,249.7h2.6v1.4h-2.6ZM440.7,249.8h1.4v1.4h-1.4ZM444.9,249.7h2.2v1.4h-2.2ZM449.9,250.3h2.2v1.4h-2.2ZM455.6,249.9h2.4v1.4h-2.4ZM461.4,249.8h2.4v1.4h-2.4ZM466.8,249.8h2.5v1.4h-2.5ZM469.8,250.0h1.0v1.4h-1.0ZM472.9,249.8h1.6v1.4h-1.6ZM475.4,249.8h2.0v1.4h-2.0ZM478.5,250.0h1.6v1.4h-1.6ZM484.0,250.3h1.3v1.4h-1.3ZM489.4,250.0h2.2v1.4h-2.2ZM513.3,250.3h2.3v1.4h-2.3ZM518.4,249.6h1.5v1.4h-1.5ZM524.2,250.2h1.7v1.4h-1.7ZM527.1,249.9h1.9v1.4h-1.9ZM532.0,250.0h2.9v1.4h-2.9ZM536.3,249.8h1.7v1.4h-1.7ZM542.1,250.4h1.2v1.4h-1.2ZM546.7,250.3h1.1v1.4h-1.1ZM549.1,249.7h2.1v1.4h-2.1ZM555.1,250.3h1.6v1.4h-1.6ZM557.3,249.7h2.3v1.4h-2.3ZM559.4,250.4h2.1v1.4h-2.1ZM564.2,250.2h2.7v1.4h-2.7ZM568.2,250.0h1.2v1.4h-1.2ZM571.0,249.9h2.1v1.4h-2.1ZM575.0,250.2h1.4v1.4h-1.4ZM578.7,249.7h2.0v1.4h-2.0ZM582.6,250.4h2.1v1.4h-2.1ZM586.8,249.8h1.3v1.4h-1.3ZM590.2,250.4h2.4v1.4h-2.4ZM596.1,250.3h2.9v1.4h-2.9ZM601.5,249.6h2.9v1.4h-2.9ZM605.5,250.1h2.2v1.4h-2.2ZM609.9,250.3h2.2v1.4h-2.2ZM612.3,250.4h2.0v1.4h-2.0ZM614.4,250.3h1.2v1.4h-1.2ZM405.1,262.1h1.1v1.4h-1.1ZM409.8,261.9h2.0v1.4h-2.0ZM414.9,261.4h2.6v1.4h-2.6ZM417.1,262.2h2.6v1.4h-2.6ZM422.5,261.7h1.8v1.4h-1.8ZM425.8,262.0h1.0v1.4h-1.0ZM428.9,261.8h2.2v1.4h-2.2ZM432.2,261.8h2.3v1.4h-2.3ZM435.2,261.5h2.8v1.4h-2.8ZM437.8,261.8h1.5v1.4h-1.5ZM442.9,261.6h1.7v1.4h-1.7ZM447.5,261.8h1.5v1.4h-1.5ZM450.5,261.5h2.8v1.4h-2.8ZM453.5,261.7h1.6v1.4h-1.6ZM458.4,262.0h2.3v1.4h-2.3ZM462.5,262.0h1.2v1.4h-1.2ZM465.5,261.7h1.4v1.4h-1.4ZM471.5,261.7h1.7v1.4h-1.7ZM477.1,261.7h3.0v1.4h-3.0ZM479.7,262.0h2.6v1.4h-2.6ZM483.0,261.7h2.6v1.4h-2.6ZM486.2,262.0h2.2v1.4h-2.2ZM490.1,261.4h2.6v1.4h-2.6ZM494.1,261.5h1.8v1.4h-1.8ZM499.7,261.6h1.3v1.4h-1.3ZM505.2,262.1h2.9v1.4h-2.9ZM508.6,261.5h2.9v1.4h-2.9ZM513.5,261.6h2.9v1.4h-2.9ZM516.0,262.1h2.4v1.4h-2.4ZM548.8,261.7h1.9v1.4h-1.9ZM551.3,262.2h1.5v1.4h-1.5ZM553.6,261.7h1.4v1.4h-1.4ZM555.8,261.5h1.6v1.4h-1.6ZM558.3,261.8h2.1v1.4h-2.1ZM562.6,261.8h2.5v1.4h-2.5ZM568.4,261.6h1.2v1.4h-1.2ZM570.7,262.0h1.6v1.4h-1.6ZM576.4,261.5h2.0v1.4h-2.0ZM579.7,261.6h2.1v1.4h-2.1ZM584.9,261.8h2.9v1.4h-2.9ZM589.3,261.8h2.7v1.4h-2.7ZM592.0,262.2h2.9v1.4h-2.9ZM594.1,261.7h2.5v1.4h-2.5ZM596.3,261.5h1.3v1.4h-1.3ZM601.3,261.4h1.4v1.4h-1.4ZM604.2,261.8h2.6v1.4h-2.6ZM608.8,261.5h1.9v1.4h-1.9ZM610.8,261.4h1.6v1.4h-1.6ZM613.9,261.7h2.2v1.4h-2.2ZM406.9,273.5h1.6v1.4h-1.6ZM412.4,273.5h2.2v1.4h-2.2ZM416.6,273.5h1.9v1.4h-1.9ZM422.2,273.9h1.5v1.4h-1.5ZM427.6,273.3h2.8v1.4h-2.8ZM431.7,273.4h3.0v1.4h-3.0ZM434.4,273.4h2.4v1.4h-2.4ZM438.7,274.0h1.3v1.4h-1.3ZM441.8,273.7h1.2v1.4h-1.2ZM445.2,273.6h2.1v1.4h-2.1ZM450.9,273.5h2.0v1.4h-2.0ZM452.9,273.4h2.0v1.4h-2.0ZM457.2,273.6h2.3v1.4h-2.3ZM459.6,273.6h2.0v1.4h-2.0ZM464.1,273.4h2.9v1.4h-2.9ZM467.9,273.8h1.2v1.4h-1.2ZM470.8,273.8h2.7v1.4h-2.7ZM473.9,273.6h2.8v1.4h-2.8ZM477.6,274.0h2.1v1.4h-2.1ZM481.5,273.4h2.0v1.4h-2.0ZM486.9,273.5h2.0v1.4h-2.0ZM489.7,273.9h1.4v1.4h-1.4ZM494.9,273.9h3.0v1.4h-3.0ZM499.6,273.8h2.6v1.4h-2.6ZM504.9,273.3h2.6v1.4h-2.6ZM510.1,273.4h1.6v1.4h-1.6ZM515.8,273.6h1.0v1.4h-1.0ZM519.2,273.7h2.6v1.4h-2.6ZM524.8,273.7h2.9v1.4h-2.9ZM527.1,273.3h2.3v1.4h-2.3ZM533.0,273.4h2.7v1.4h-2.7ZM535.8,273.8h2.4v1.4h-2.4ZM541.7,273.3h2.2v1.4h-2.2ZM546.6,273.9h1.1v1.4h-1.1ZM551.7,273.9h2.6v1.4h-2.6ZM587.4,273.6h2.3v1.4h-2.3ZM591.0,273.2h1.7v1.4h-1.7ZM593.6,273.4h2.6v1.4h-2.6ZM598.2,273.8h2.6v1.4h-2.6ZM602.3,273.4h1.6v1.4h-1.6ZM605.0,273.7h2.3v1.4h-2.3ZM610.8,273.9h1.7v1.4h-1.7ZM616.5,274.0h1.6v1.4h-1.6ZM407.9,284.9h2.5v1.4h-2.5ZM411.0,285.0h2.0v1.4h-2.0ZM413.1,285.0h2.7v1.4h-2.7ZM417.0,284.8h2.5v1.4h-2.5ZM419.8,284.8h2.2v1.4h-2.2ZM423.1,284.6h1.1v1.4h-1.1ZM426.6,285.4h2.1v1.4h-2.1ZM431.1,284.9h1.8v1.4h-1.8ZM434.1,285.4h1.9v1.4h-1.9ZM436.6,285.1h1.9v1.4h-1.9ZM441.6,285.1h2.1v1.4h-2.1ZM447.4,284.8h2.8v1.4h-2.8ZM451.5,285.0h3.0v1.4h-3.0ZM454.3,284.6h2.5v1.4h-2.5ZM456.9,284.8h2.1v1.4h-2.1ZM461.8,284.9h2.5v1.4h-2.5ZM466.8,285.2h2.3v1.4h-2.3ZM470.7,284.7h1.9v1.4h-1.9ZM474.6,285.3h2.9v1.4h-2.9ZM476.8,284.8h1.1v1.4h-1.1ZM481.6,284.7h1.9v1.4h-1.9ZM485.3,285.2h2.1v1.4h-2.1ZM488.9,285.1h2.3v1.4h-2.3ZM493.3,285.2h1.1v1.4h-1.1ZM495.8,285.0h1.1v1.4h-1.1ZM497.9,284.9h1.1v1.4h-1.1ZM501.8,285.4h1.2v1.4h-1.2ZM507.2,285.1h2.0v1.4h-2.0ZM510.5,284.7h3.0v1.4h-3.0ZM513.7,285.3h1.4v1.4h-1.4ZM517.7,284.9h1.8v1.4h-1.8ZM523.3,285.2h1.5v1.4h-1.5ZM528.1,284.9h1.9v1.4h-1.9ZM531.8,284.9h1.9v1.4h-1.9ZM536.3,284.8h1.8v1.4h-1.8ZM541.4,285.0h1.9v1.4h-1.9ZM546.9,284.9h1.9v1.4h-1.9ZM552.5,285.2h3.0v1.4h-3.0ZM556.1,285.2h2.3v1.4h-2.3ZM559.3,285.4h2.4v1.4h-2.4ZM563.9,284.9h2.3v1.4h-2.3ZM568.6,285.2h1.5v1.4h-1.5ZM572.7,284.9h3.0v1.4h-3.0ZM577.6,284.9h1.0v1.4h-1.0ZM611.8,284.8h2.2v1.4h-2.2ZM615.4,284.8h3.0v1.4h-3.0ZM405.2,296.7h2.2v1.4h-2.2ZM410.5,296.5h1.8v1.4h-1.8ZM415.4,296.6h2.5v1.4h-2.5ZM419.7,296.6h1.5v1.4h-1.5ZM423.9,296.8h2.1v1.4h-2.1ZM426.5,296.3h2.6v1.4h-2.6ZM431.4,296.2h2.9v1.4h-2.9ZM435.7,296.4h2.1v1.4h-2.1ZM438.3,296.7h2.3v1.4h-2.3ZM443.0,296.6h1.6v1.4h-1.6ZM446.7,296.5h1.3v1.4h-1.3ZM450.5,296.8h2.1v1.4h-2.1ZM454.8,296.3h2.9v1.4h-2.9ZM459.8,296.2h1.2v1.4h-1.2ZM464.6,296.7h2.4v1.4h-2.4ZM468.1,296.3h1.5v1.4h-1.5ZM472.3,296.3h1.0v1.4h-1.0ZM476.9,296.2h1.3v1.4h-1.3ZM482.4,296.2h2.9v1.4h-2.9ZM485.1,296.1h1.2v1.4h-1.2ZM490.3,296.2h2.5v1.4h-2.5ZM494.2,296.0h2.4v1.4h-2.4ZM499.5,296.2h2.7v1.4h-2.7ZM504.3,296.3h2.4v1.4h-2.4ZM509.8,296.4h1.4v1.4h-1.4ZM513.1,296.6h1.9v1.4h-1.9ZM517.4,296.8h2.2v1.4h-2.2ZM520.2,296.5h1.4v1.4h-1.4ZM522.8,296.3h2.9v1.4h-2.9ZM526.6,296.7h1.9v1.4h-1.9ZM532.3,296.1h2.4v1.4h-2.4ZM535.7,296.2h2.4v1.4h-2.4ZM541.2,296.2h2.7v1.4h-2.7ZM544.7,296.6h1.5v1.4h-1.5ZM546.9,296.1h2.4v1.4h-2.4ZM552.2,296.5h2.1v1.4h-2.1ZM554.6,296.3h1.1v1.4h-1.1ZM560.6,296.7h2.2v1.4h-2.2ZM562.8,296.0h1.2v1.4h-1.2ZM567.6,296.2h1.4v1.4h-1.4ZM572.3,296.3h2.4v1.4h-2.4ZM576.1,296.4h1.6v1.4h-1.6ZM579.6,296.2h1.7v1.4h-1.7ZM582.7,296.0h1.5v1.4h-1.5ZM586.0,296.2h2.2v1.4h-2.2ZM588.4,296.4h2.7v1.4h-2.7ZM592.5,296.7h1.6v1.4h-1.6ZM597.5,296.5h2.2v1.4h-2.2ZM602.2,296.3h2.0v1.4h-2.0ZM605.8,296.4h2.0v1.4h-2.0ZM609.9,296.6h2.1v1.4h-2.1ZM615.5,296.0h1.4v1.4h-1.4Z" fill="#6a5020" opacity="0.4"/>
<rect x="417.2" y="95.8" width="5" height="2.4" fill="#86d0a8"/>
<rect x="536.5" y="94.2" width="13" height="2.4" fill="#86d0a8"/>
<rect x="559.5" y="94.2" width="3" height="2.4" fill="#86d0a8"/>
<rect x="449.0" y="107.8" width="6" height="2.4" fill="#86d0a8"/>
<rect x="586.0" y="105.8" width="4" height="2.4" fill="#86d0a8"/>
<rect x="463.0" y="119.5" width="14" height="2.4" fill="#86d0a8"/>
<rect x="513.6" y="130.8" width="6" height="2.4" fill="#86d0a8"/>
<rect x="544.0" y="141.8" width="6" height="2.4" fill="#86d0a8"/>
<rect x="412.8" y="143.8" width="4" height="2.4" fill="#86d0a8"/>
<rect x="577.7" y="153.8" width="6" height="2.4" fill="#86d0a8"/>
<rect x="443.0" y="155.3" width="2" height="2.4" fill="#86d0a8"/>
<rect x="447.6" y="155.3" width="2" height="2.4" fill="#86d0a8"/>
<rect x="467.6" y="154.8" width="6" height="2.4" fill="#86d0a8"/>
<rect x="474.5" y="166.8" width="2" height="2.4" fill="#86d0a8"/>
<rect x="480.0" y="166.8" width="3" height="2.4" fill="#86d0a8"/>
<rect x="509.2" y="177.8" width="5" height="2.4" fill="#86d0a8"/>
<rect x="593.0" y="164.8" width="8" height="2.4" fill="#86d0a8"/>
<rect x="608.5" y="164.8" width="3" height="2.4" fill="#86d0a8"/>
<rect x="407.5" y="191.8" width="5" height="2.4" fill="#86d0a8"/>
<rect x="540.0" y="189.8" width="4" height="2.4" fill="#86d0a8"/>
<rect x="437.0" y="202.8" width="6" height="2.4" fill="#86d0a8"/>
<rect x="572.7" y="200.8" width="6" height="2.4" fill="#86d0a8"/>
<rect x="472.0" y="214.3" width="6" height="2.4" fill="#86d0a8"/>
<rect x="606.6" y="212.3" width="2" height="2.4" fill="#86d0a8"/>
<rect x="488.5" y="226.4" width="7" height="2.4" fill="#86d0a8"/>
<rect x="502.5" y="226.4" width="5" height="2.4" fill="#86d0a8"/>
<rect x="533.5" y="237.6" width="5" height="2.4" fill="#86d0a8"/>
<rect x="433.0" y="250.8" width="4" height="2.4" fill="#86d0a8"/>
<rect x="566.5" y="248.8" width="2" height="2.4" fill="#86d0a8"/>
<rect x="570.0" y="248.8" width="2" height="2.4" fill="#86d0a8"/>
<rect x="466.0" y="262.6" width="6" height="2.4" fill="#86d0a8"/>
<rect x="597.4" y="260.3" width="6" height="2.4" fill="#86d0a8"/>
<rect x="500.0" y="273.8" width="2" height="2.4" fill="#86d0a8"/>
<rect x="526.8" y="285.6" width="6" height="2.4" fill="#86d0a8"/>
<rect x="560.0" y="296.4" width="6" height="2.4" fill="#86d0a8"/>
</g>
<text x="398" y="91.2" font-family="Liberation Sans, sans-serif" font-weight="bold" font-size="17" text-anchor="end">2</text>
<text x="398" y="144.7" font-family="Liberation Sans, sans-serif" font-weight="bold" font-size="17" text-anchor="end">1</text>
<text x="398" y="198.2" font-family="Liberation Sans, sans-serif" font-weight="bold" font-size="17" text-anchor="end">0</text>
<text x="398" y="251.7" font-family="Liberation Sans, sans-serif" font-weight="bold" font-size="17" text-anchor="end">−1</text>
<text x="398" y="305.2" font-family="Liberation Sans, sans-serif" font-weight="bold" font-size="17" text-anchor="end">−2</text>
<text x="405.0" y="320.3" font-family="Liberation Sans, sans-serif" font-weight="bold" font-size="17" text-anchor="middle">−2</text>
<text x="458.5" y="320.3" font-family="Liberation Sans, sans-serif" font-weight="bold" font-size="17" text-anchor="middle">−1</text>
<text x="512.0" y="320.3" font-family="Liberation Sans, sans-serif" font-weight="bold" font-size="17" text-anchor="middle">0</text>
<text x="565.5" y="320.3" font-family="Liberation Sans, sans-serif" font-weight="bold" font-size="17" text-anchor="middle">1</text>
<text x="619.0" y="320.3" font-family="Liberation Sans, sans-serif" font-weight="bold" font-size="17" text-anchor="middle">2</text>
<rect x="633.2" y="126.2" width="9.4" height="12.6" fill="#d9272a"/>
<rect x="633.2" y="138.7" width="9.4" height="12.6" fill="#e8722e"/>
<rect x="633.2" y="151.2" width="9.4" height="12.6" fill="#e4a33a"/>
<rect x="633.2" y="163.7" width="9.4" height="12.6" fill="#cdb84a"/>
<rect x="633.2" y="176.2" width="9.4" height="12.6" fill="#9ab85a"/>
<rect x="633.2" y="188.7" width="9.4" height="12.6" fill="#74b07a"/>
<rect x="633.2" y="201.2" width="9.4" height="12.6" fill="#5a9fa6"/>
<rect x="633.2" y="213.7" width="9.4" height="12.6" fill="#4a84cc"/>
<rect x="633.2" y="226.2" width="9.4" height="12.6" fill="#4460d0"/>
<rect x="633.2" y="238.7" width="9.4" height="12.6" fill="#5528b0"/>
<rect x="633.2" y="251.2" width="9.4" height="12.6" fill="#6e1f98"/>
<line x1="642.6" y1="138.7" x2="645.6" y2="138.7" stroke="#999" stroke-width="0.8"/>
<line x1="642.6" y1="151.2" x2="645.6" y2="151.2" stroke="#999" stroke-width="0.8"/>
<line x1="642.6" y1="163.7" x2="645.6" y2="163.7" stroke="#999" stroke-width="0.8"/>
<line x1="642.6" y1="176.2" x2="645.6" y2="176.2" stroke="#999" stroke-width="0.8"/>
<line x1="642.6" y1="188.7" x2="645.6" y2="188.7" stroke="#999" stroke-width="0.8"/>
<line x1="642.6" y1="201.2" x2="645.6" y2="201.2" stroke="#999" stroke-width="0.8"/>
<line x1="642.6" y1="213.7" x2="645.6" y2="213.7" stroke="#999" stroke-width="0.8"/>
<line x1="642.6" y1="226.2" x2="645.6" y2="226.2" stroke="#999" stroke-width="0.8"/>
<line x1="642.6" y1="238.7" x2="645.6" y2="238.7" stroke="#999" stroke-width="0.8"/>
<line x1="642.6" y1="251.2" x2="645.6" y2="251.2" stroke="#999" stroke-width="0.8"/>
<text x="647.5" y="144.2" font-family="Liberation Sans, sans-serif" font-size="16.5" textLength="31" lengthAdjust="spacingAndGlyphs" stroke="#000" stroke-width="0.45">2.15</text>
<text x="647.5" y="156.7" font-family="Liberation Sans, sans-serif" font-size="16.5" textLength="31" lengthAdjust="spacingAndGlyphs" stroke="#000" stroke-width="0.45">2.10</text>
<text x="647.5" y="169.2" font-family="Liberation Sans, sans-serif" font-size="16.5" textLength="31" lengthAdjust="spacingAndGlyphs" stroke="#000" stroke-width="0.45">2.05</text>
<text x="647.5" y="181.7" font-family="Liberation Sans, sans-serif" font-size="16.5" textLength="31" lengthAdjust="spacingAndGlyphs" stroke="#000" stroke-width="0.45">2.00</text>
<text x="647.5" y="194.2" font-family="Liberation Sans, sans-serif" font-size="16.5" textLength="31" lengthAdjust="spacingAndGlyphs" stroke="#000" stroke-width="0.45">1.95</text>
<text x="647.5" y="206.7" font-family="Liberation Sans, sans-serif" font-size="16.5" textLength="31" lengthAdjust="spacingAndGlyphs" stroke="#000" stroke-width="0.45">1.90</text>
<text x="647.5" y="219.2" font-family="Liberation Sans, sans-serif" font-size="16.5" textLength="31" lengthAdjust="spacingAndGlyphs" stroke="#000" stroke-width="0.45">1.85</text>
<text x="647.5" y="231.7" font-family="Liberation Sans, sans-serif" font-size="16.5" textLength="31" lengthAdjust="spacingAndGlyphs" stroke="#000" stroke-width="0.45">1.80</text>
<text x="647.5" y="244.2" font-family="Liberation Sans, sans-serif" font-size="16.5" textLength="31" lengthAdjust="spacingAndGlyphs" stroke="#000" stroke-width="0.45">1.75</text>
<text x="647.5" y="256.7" font-family="Liberation Sans, sans-serif" font-size="16.5" textLength="31" lengthAdjust="spacingAndGlyphs" stroke="#000" stroke-width="0.45">1.70</text>
<rect x="23.5" y="376.5" width="229.5" height="229" fill="none" stroke="#a8a8a8" stroke-width="1"/>
<path d="M28.0,605.5V601.5M28.0,376.5V380.5M23.5,601.0H27.5M253,601.0H249M39.0,605.5V603.0M39.0,376.5V379.0M23.5,590.0H26.0M253,590.0H250.5M50.0,605.5V603.0M50.0,376.5V379.0M23.5,579.0H26.0M253,579.0H250.5M61.0,605.5V603.0M61.0,376.5V379.0M23.5,568.0H26.0M253,568.0H250.5M72.0,605.5V603.0M72.0,376.5V379.0M23.5,557.0H26.0M253,557.0H250.5M83.0,605.5V601.5M83.0,376.5V380.5M23.5,546.0H27.5M253,546.0H249M94.0,605.5V603.0M94.0,376.5V379.0M23.5,535.0H26.0M253,535.0H250.5M105.0,605.5V603.0M105.0,376.5V379.0M23.5,524.0H26.0M253,524.0H250.5M116.0,605.5V603.0M116.0,376.5V379.0M23.5,513.0H26.0M253,513.0H250.5M127.0,605.5V603.0M127.0,376.5V379.0M23.5,502.0H26.0M253,502.0H250.5M138.0,605.5V601.5M138.0,376.5V380.5M23.5,491.0H27.5M253,491.0H249M149.0,605.5V603.0M149.0,376.5V379.0M23.5,480.0H26.0M253,480.0H250.5M160.0,605.5V603.0M160.0,376.5V379.0M23.5,469.0H26.0M253,469.0H250.5M171.0,605.5V603.0M171.0,376.5V379.0M23.5,458.0H26.0M253,458.0H250.5M182.0,605.5V603.0M182.0,376.5V379.0M23.5,447.0H26.0M253,447.0H250.5M193.0,605.5V601.5M193.0,376.5V380.5M23.5,436.0H27.5M253,436.0H249M204.0,605.5V603.0M204.0,376.5V379.0M23.5,425.0H26.0M253,425.0H250.5M215.0,605.5V603.0M215.0,376.5V379.0M23.5,414.0H26.0M253,414.0H250.5M226.0,605.5V603.0M226.0,376.5V379.0M23.5,403.0H26.0M253,403.0H250.5M237.0,605.5V603.0M237.0,376.5V379.0M23.5,392.0H26.0M253,392.0H250.5M248.0,605.5V601.5M248.0,376.5V380.5M23.5,381.0H27.5M253,381.0H249" stroke="#a8a8a8" stroke-width="1" fill="none"/>
<defs><clipPath id="c3"><rect x="28" y="381" width="220" height="220"/></clipPath><filter id="bl3" x="-10%" y="-200%" width="120%" height="500%"><feGaussianBlur stdDeviation="1.6"/></filter><filter id="bl3b" x="-10%" y="-200%" width="120%" height="500%"><feGaussianBlur stdDeviation="0.7"/></filter><filter id="bl3c" x="-10%" y="-200%" width="120%" height="500%"><feGaussianBlur stdDeviation="1.0"/></filter></defs>
<g clip-path="url(#c3)">
<rect x="28" y="381" width="220" height="220" fill="#671a9f"/>
<defs><linearGradient id="g1" gradientUnits="userSpaceOnUse" x1="28" y1="0" x2="248" y2="0"><stop offset="0.000" stop-color="#c7b648"/><stop offset="0.077" stop-color="#e0a43d"/><stop offset="0.191" stop-color="#ee6e31"/><stop offset="0.286" stop-color="#e02c24"/><stop offset="0.477" stop-color="#e02c24"/><stop offset="0.509" stop-color="#ee6e31"/><stop offset="0.577" stop-color="#d0b444"/><stop offset="0.627" stop-color="#98ba60"/><stop offset="0.668" stop-color="#3e83ce"/><stop offset="1.000" stop-color="#405dd5"/></linearGradient><linearGradient id="g2" gradientUnits="userSpaceOnUse" x1="30" y1="0" x2="166" y2="0"><stop offset="0.000" stop-color="#4f9fac"/><stop offset="0.088" stop-color="#78b474"/><stop offset="0.184" stop-color="#bcb94d"/><stop offset="0.301" stop-color="#d9b241"/><stop offset="0.368" stop-color="#f08435"/><stop offset="0.478" stop-color="#e02c24"/><stop offset="0.706" stop-color="#e02c24"/><stop offset="0.779" stop-color="#ee6e31"/><stop offset="0.882" stop-color="#d0b444"/><stop offset="1.000" stop-color="#98ba60"/></linearGradient><linearGradient id="g3" gradientUnits="userSpaceOnUse" x1="28" y1="0" x2="248" y2="0"><stop offset="0.000" stop-color="#3d72d4"/><stop offset="0.136" stop-color="#3b7fd3"/><stop offset="0.177" stop-color="#4f9fac"/><stop offset="0.236" stop-color="#78b474"/><stop offset="0.291" stop-color="#bcb94d"/><stop offset="0.350" stop-color="#e0a43d"/><stop offset="0.414" stop-color="#ee6e31"/><stop offset="0.482" stop-color="#e02c24"/><stop offset="0.655" stop-color="#e33326"/><stop offset="0.736" stop-color="#f08435"/><stop offset="0.805" stop-color="#d0b444"/><stop offset="0.895" stop-color="#78b474"/><stop offset="1.000" stop-color="#58a49f"/></linearGradient><linearGradient id="g4" gradientUnits="userSpaceOnUse" x1="108" y1="0" x2="250" y2="0"><stop offset="0.000" stop-color="#4f9fac"/><stop offset="0.070" stop-color="#78b474"/><stop offset="0.127" stop-color="#a5bc58"/><stop offset="0.183" stop-color="#d9b241"/><stop offset="0.296" stop-color="#f08435"/><stop offset="0.366" stop-color="#e33326"/><stop offset="0.648" stop-color="#e02c24"/><stop offset="0.754" stop-color="#f08435"/><stop offset="0.859" stop-color="#c7b648"/><stop offset="0.930" stop-color="#78b474"/><stop offset="1.000" stop-color="#4f9fac"/></linearGradient><linearGradient id="g5" gradientUnits="userSpaceOnUse" x1="28" y1="0" x2="250" y2="0"><stop offset="0.000" stop-color="#493ece"/><stop offset="0.311" stop-color="#3f66d5"/><stop offset="0.369" stop-color="#3b7fd3"/><stop offset="0.505" stop-color="#4f9fac"/><stop offset="0.595" stop-color="#78b474"/><stop offset="0.617" stop-color="#c7b648"/><stop offset="0.685" stop-color="#ec8e37"/><stop offset="0.797" stop-color="#e33326"/><stop offset="0.874" stop-color="#e02c24"/><stop offset="1.000" stop-color="#ee6e31"/></linearGradient><linearGradient id="g6" gradientUnits="userSpaceOnUse" x1="30" y1="0" x2="66" y2="0"><stop offset="0.000" stop-color="#3d72d4"/><stop offset="1.000" stop-color="#3d72d4"/></linearGradient><linearGradient id="g7" gradientUnits="userSpaceOnUse" x1="25" y1="0" x2="95" y2="0"><stop offset="0.000" stop-color="#78b474"/><stop offset="0.214" stop-color="#58a49f"/><stop offset="0.500" stop-color="#3e83ce"/><stop offset="0.800" stop-color="#405dd5"/><stop offset="1.000" stop-color="#493ece"/></linearGradient><linearGradient id="g8" gradientUnits="userSpaceOnUse" x1="133" y1="0" x2="250" y2="0"><stop offset="0.000" stop-color="#3d72d4"/><stop offset="0.145" stop-color="#3e83ce"/><stop offset="0.282" stop-color="#4f9fac"/><stop offset="0.402" stop-color="#78b474"/><stop offset="0.530" stop-color="#c7b648"/><stop offset="0.701" stop-color="#f08435"/><stop offset="0.872" stop-color="#e02c24"/><stop offset="1.000" stop-color="#e02c24"/></linearGradient><linearGradient id="g9" gradientUnits="userSpaceOnUse" x1="140" y1="0" x2="250" y2="0"><stop offset="0.000" stop-color="#493ece"/><stop offset="0.236" stop-color="#3c7bd4"/><stop offset="0.455" stop-color="#4f9fac"/><stop offset="0.727" stop-color="#78b474"/><stop offset="1.000" stop-color="#b7bb4f"/></linearGradient><linearGradient id="g10" gradientUnits="userSpaceOnUse" x1="30" y1="0" x2="89" y2="0"><stop offset="0.000" stop-color="#ec8e37"/><stop offset="0.254" stop-color="#d0b444"/><stop offset="0.508" stop-color="#bcb94d"/><stop offset="0.746" stop-color="#78b474"/><stop offset="0.847" stop-color="#58a49f"/><stop offset="1.000" stop-color="#3e83ce"/></linearGradient><linearGradient id="g11" gradientUnits="userSpaceOnUse" x1="25" y1="0" x2="248" y2="0"><stop offset="0.000" stop-color="#e02c24"/><stop offset="0.175" stop-color="#e33326"/><stop offset="0.220" stop-color="#f08435"/><stop offset="0.274" stop-color="#c7b648"/><stop offset="0.368" stop-color="#8bb867"/><stop offset="0.444" stop-color="#68ac8a"/><stop offset="0.516" stop-color="#3e83ce"/><stop offset="0.664" stop-color="#3d72d4"/><stop offset="0.883" stop-color="#4348d6"/><stop offset="1.000" stop-color="#493ece"/></linearGradient><linearGradient id="g12" gradientUnits="userSpaceOnUse" x1="234" y1="0" x2="250" y2="0"><stop offset="0.000" stop-color="#4f9fac"/><stop offset="1.000" stop-color="#58a49f"/></linearGradient><linearGradient id="g13" gradientUnits="userSpaceOnUse" x1="30" y1="0" x2="173" y2="0"><stop offset="0.000" stop-color="#ee6e31"/><stop offset="0.196" stop-color="#e33326"/><stop offset="0.357" stop-color="#e33326"/><stop offset="0.427" stop-color="#f08435"/><stop offset="0.538" stop-color="#d0b444"/><stop offset="0.657" stop-color="#c7b648"/><stop offset="0.734" stop-color="#78b474"/><stop offset="0.839" stop-color="#4f9fac"/><stop offset="0.909" stop-color="#3e83ce"/><stop offset="1.000" stop-color="#3d72d4"/></linearGradient><linearGradient id="g14" gradientUnits="userSpaceOnUse" x1="200" y1="0" x2="250" y2="0"><stop offset="0.000" stop-color="#493ece"/><stop offset="0.180" stop-color="#405dd5"/><stop offset="1.000" stop-color="#3c7bd4"/></linearGradient><linearGradient id="g15" gradientUnits="userSpaceOnUse" x1="25" y1="0" x2="248" y2="0"><stop offset="0.000" stop-color="#68ac8a"/><stop offset="0.045" stop-color="#78b474"/><stop offset="0.112" stop-color="#c7b648"/><stop offset="0.224" stop-color="#f08435"/><stop offset="0.327" stop-color="#e02c24"/><stop offset="0.413" stop-color="#ee6e31"/><stop offset="0.516" stop-color="#c7b648"/><stop offset="0.619" stop-color="#78b474"/><stop offset="0.691" stop-color="#4f9fac"/><stop offset="0.785" stop-color="#3c7bd4"/><stop offset="0.852" stop-color="#405dd5"/><stop offset="1.000" stop-color="#493ece"/></linearGradient><linearGradient id="g16" gradientUnits="userSpaceOnUse" x1="30" y1="0" x2="229" y2="0"><stop offset="0.000" stop-color="#3d72d4"/><stop offset="0.075" stop-color="#3c7bd4"/><stop offset="0.151" stop-color="#4f9fac"/><stop offset="0.221" stop-color="#58a49f"/><stop offset="0.302" stop-color="#78b474"/><stop offset="0.387" stop-color="#c7b648"/><stop offset="0.462" stop-color="#f08435"/><stop offset="0.553" stop-color="#e02c24"/><stop offset="0.603" stop-color="#e33326"/><stop offset="0.704" stop-color="#f08435"/><stop offset="0.844" stop-color="#c7b648"/><stop offset="0.915" stop-color="#58a49f"/><stop offset="1.000" stop-color="#3c7bd4"/></linearGradient><linearGradient id="g17" gradientUnits="userSpaceOnUse" x1="28" y1="0" x2="250" y2="0"><stop offset="0.000" stop-color="#493ece"/><stop offset="0.104" stop-color="#3f66d5"/><stop offset="0.284" stop-color="#4f9fac"/><stop offset="0.392" stop-color="#98ba60"/><stop offset="0.473" stop-color="#f08435"/><stop offset="0.550" stop-color="#e02c24"/><stop offset="0.667" stop-color="#e02c24"/><stop offset="0.775" stop-color="#f08435"/><stop offset="0.887" stop-color="#c7b648"/><stop offset="1.000" stop-color="#68ac8a"/></linearGradient><linearGradient id="g18" gradientUnits="userSpaceOnUse" x1="123" y1="0" x2="250" y2="0"><stop offset="0.000" stop-color="#458fbf"/><stop offset="0.134" stop-color="#78b474"/><stop offset="0.370" stop-color="#c7b648"/><stop offset="0.606" stop-color="#f08435"/><stop offset="0.803" stop-color="#e02c24"/><stop offset="1.000" stop-color="#ee6e31"/></linearGradient><linearGradient id="g19" gradientUnits="userSpaceOnUse" x1="28" y1="0" x2="120" y2="0"><stop offset="0.000" stop-color="#4155d5"/><stop offset="0.859" stop-color="#4348d6"/><stop offset="1.000" stop-color="#5138c2"/></linearGradient><linearGradient id="g20" gradientUnits="userSpaceOnUse" x1="30" y1="0" x2="74" y2="0"><stop offset="0.000" stop-color="#4f9fac"/><stop offset="0.341" stop-color="#3c7bd4"/><stop offset="1.000" stop-color="#3d72d4"/></linearGradient><linearGradient id="g21" gradientUnits="userSpaceOnUse" x1="105" y1="0" x2="250" y2="0"><stop offset="0.000" stop-color="#493ece"/><stop offset="0.083" stop-color="#3d72d4"/><stop offset="0.310" stop-color="#4f9fac"/><stop offset="0.469" stop-color="#c7b648"/><stop offset="0.655" stop-color="#f08435"/><stop offset="0.807" stop-color="#e02c24"/><stop offset="1.000" stop-color="#e02c24"/></linearGradient><linearGradient id="g22" gradientUnits="userSpaceOnUse" x1="150" y1="0" x2="250" y2="0"><stop offset="0.000" stop-color="#3d72d4"/><stop offset="0.130" stop-color="#3e83ce"/><stop offset="0.250" stop-color="#4f9fac"/><stop offset="0.420" stop-color="#98ba60"/><stop offset="0.620" stop-color="#f08435"/><stop offset="0.790" stop-color="#e02c24"/><stop offset="1.000" stop-color="#ee6e31"/></linearGradient><linearGradient id="g23" gradientUnits="userSpaceOnUse" x1="25" y1="0" x2="130" y2="0"><stop offset="0.000" stop-color="#c7b648"/><stop offset="0.190" stop-color="#98ba60"/><stop offset="0.314" stop-color="#78b474"/><stop offset="0.476" stop-color="#4f9fac"/><stop offset="0.667" stop-color="#3c7bd4"/><stop offset="0.781" stop-color="#405dd5"/><stop offset="1.000" stop-color="#493ece"/></linearGradient><linearGradient id="g24" gradientUnits="userSpaceOnUse" x1="150" y1="0" x2="250" y2="0"><stop offset="0.000" stop-color="#493ece"/><stop offset="0.150" stop-color="#3d72d4"/><stop offset="0.390" stop-color="#4f9fac"/><stop offset="0.590" stop-color="#78b474"/><stop offset="0.850" stop-color="#c7b648"/><stop offset="1.000" stop-color="#d0b444"/></linearGradient><linearGradient id="g25" gradientUnits="userSpaceOnUse" x1="30" y1="0" x2="120" y2="0"><stop offset="0.000" stop-color="#e33326"/><stop offset="0.167" stop-color="#ee6e31"/><stop offset="0.233" stop-color="#ec8e37"/><stop offset="0.333" stop-color="#d0b444"/><stop offset="0.567" stop-color="#bcb94d"/><stop offset="0.678" stop-color="#68ac8a"/><stop offset="0.833" stop-color="#4f9fac"/><stop offset="1.000" stop-color="#3c7bd4"/></linearGradient><linearGradient id="g26" gradientUnits="userSpaceOnUse" x1="25" y1="0" x2="250" y2="0"><stop offset="0.000" stop-color="#e02c24"/><stop offset="0.200" stop-color="#e33326"/><stop offset="0.271" stop-color="#f08435"/><stop offset="0.351" stop-color="#c7b648"/><stop offset="0.440" stop-color="#78b474"/><stop offset="0.511" stop-color="#4f9fac"/><stop offset="0.587" stop-color="#3c7bd4"/><stop offset="0.667" stop-color="#405dd5"/><stop offset="1.000" stop-color="#493ece"/></linearGradient><linearGradient id="g27" gradientUnits="userSpaceOnUse" x1="30" y1="0" x2="240" y2="0"><stop offset="0.000" stop-color="#58a49f"/><stop offset="0.038" stop-color="#c7b648"/><stop offset="0.100" stop-color="#e0a43d"/><stop offset="0.148" stop-color="#ee6e31"/><stop offset="0.195" stop-color="#eb492a"/><stop offset="0.233" stop-color="#e02c24"/><stop offset="0.381" stop-color="#e02c24"/><stop offset="0.414" stop-color="#ee6e31"/><stop offset="0.490" stop-color="#f08435"/><stop offset="0.524" stop-color="#c7b648"/><stop offset="0.571" stop-color="#c7b648"/><stop offset="0.600" stop-color="#78b474"/><stop offset="0.648" stop-color="#4f9fac"/><stop offset="0.710" stop-color="#4f9fac"/><stop offset="0.743" stop-color="#3c7bd4"/><stop offset="0.852" stop-color="#3d72d4"/><stop offset="1.000" stop-color="#4155d5"/></linearGradient><linearGradient id="g28" gradientUnits="userSpaceOnUse" x1="28" y1="0" x2="248" y2="0"><stop offset="0.000" stop-color="#d9b241"/><stop offset="0.136" stop-color="#ec8e37"/><stop offset="0.209" stop-color="#e33326"/><stop offset="0.464" stop-color="#e33326"/><stop offset="0.509" stop-color="#ee6e31"/><stop offset="0.555" stop-color="#e0a43d"/><stop offset="0.600" stop-color="#c7b648"/><stop offset="0.659" stop-color="#3e83ce"/><stop offset="0.882" stop-color="#3f66d5"/><stop offset="1.000" stop-color="#4348d6"/></linearGradient></defs>
<rect x="28" y="376.5" width="220" height="10" fill="url(#g1)" opacity="0.45" filter="url(#bl3)"/>
<path d="M28.0,374.5L31.0,381.5L28.0,388.5L25.0,381.5ZM35.9,374.5L38.9,381.5L35.9,388.5L32.9,381.5ZM43.7,374.5L46.7,381.5L43.7,388.5L40.7,381.5ZM51.6,374.5L54.6,381.5L51.6,388.5L48.6,381.5ZM59.4,374.5L62.4,381.5L59.4,388.5L56.4,381.5ZM67.3,374.5L70.3,381.5L67.3,388.5L64.3,381.5ZM75.1,374.5L78.1,381.5L75.1,388.5L72.1,381.5ZM83.0,374.5L86.0,381.5L83.0,388.5L80.0,381.5ZM90.9,374.5L93.9,381.5L90.9,388.5L87.9,381.5ZM98.7,374.5L101.7,381.5L98.7,388.5L95.7,381.5ZM106.6,374.5L109.6,381.5L106.6,388.5L103.6,381.5ZM114.4,374.5L117.4,381.5L114.4,388.5L111.4,381.5ZM122.3,374.5L125.3,381.5L122.3,388.5L119.3,381.5ZM130.1,374.5L133.1,381.5L130.1,388.5L127.1,381.5ZM138.0,374.5L141.0,381.5L138.0,388.5L135.0,381.5ZM145.9,374.5L148.9,381.5L145.9,388.5L142.9,381.5ZM153.7,374.5L156.7,381.5L153.7,388.5L150.7,381.5ZM161.6,374.5L164.6,381.5L161.6,388.5L158.6,381.5ZM169.4,374.5L172.4,381.5L169.4,388.5L166.4,381.5ZM177.3,374.5L180.3,381.5L177.3,388.5L174.3,381.5ZM185.1,374.5L188.1,381.5L185.1,388.5L182.1,381.5ZM193.0,374.5L196.0,381.5L193.0,388.5L190.0,381.5ZM200.9,374.5L203.9,381.5L200.9,388.5L197.9,381.5ZM208.7,374.5L211.7,381.5L208.7,388.5L205.7,381.5ZM216.6,374.5L219.6,381.5L216.6,388.5L213.6,381.5ZM224.4,374.5L227.4,381.5L224.4,388.5L221.4,381.5ZM232.3,374.5L235.3,381.5L232.3,388.5L229.3,381.5ZM240.1,374.5L243.1,381.5L240.1,388.5L237.1,381.5ZM248.0,374.5L251.0,381.5L248.0,388.5L245.0,381.5Z" fill="url(#g1)" opacity="0.6" filter="url(#bl3c)"/>
<rect x="28" y="380.1" width="220" height="2.8" fill="url(#g1)" filter="url(#bl3b)"/>
<g opacity="1"><path d="M28.8,389.7h6.2v6.2h-6.2ZM36.7,389.7h6.2v6.2h-6.2ZM44.5,389.7h6.2v6.2h-6.2ZM52.4,389.7h6.2v6.2h-6.2ZM60.3,389.7h6.2v6.2h-6.2ZM68.1,389.7h6.2v6.2h-6.2ZM76.0,389.7h6.2v6.2h-6.2ZM83.8,389.7h6.2v6.2h-6.2ZM91.7,389.7h6.2v6.2h-6.2ZM99.5,389.7h6.2v6.2h-6.2ZM107.4,389.7h6.2v6.2h-6.2ZM115.3,389.7h6.2v6.2h-6.2ZM123.1,389.7h6.2v6.2h-6.2ZM131.0,389.7h6.2v6.2h-6.2ZM138.8,389.7h6.2v6.2h-6.2ZM146.7,389.7h6.2v6.2h-6.2ZM154.5,389.7h6.2v6.2h-6.2ZM162.4,389.7h6.2v6.2h-6.2Z" fill="url(#g2)" opacity="0.35" filter="url(#bl3b)"/><path d="M28.8,389.7h6.2v6.2h-6.2ZM36.7,389.7h6.2v6.2h-6.2ZM44.5,389.7h6.2v6.2h-6.2ZM52.4,389.7h6.2v6.2h-6.2ZM60.3,389.7h6.2v6.2h-6.2ZM68.1,389.7h6.2v6.2h-6.2ZM76.0,389.7h6.2v6.2h-6.2ZM83.8,389.7h6.2v6.2h-6.2ZM91.7,389.7h6.2v6.2h-6.2ZM99.5,389.7h6.2v6.2h-6.2ZM107.4,389.7h6.2v6.2h-6.2ZM115.3,389.7h6.2v6.2h-6.2ZM123.1,389.7h6.2v6.2h-6.2ZM131.0,389.7h6.2v6.2h-6.2ZM138.8,389.7h6.2v6.2h-6.2ZM146.7,389.7h6.2v6.2h-6.2ZM154.5,389.7h6.2v6.2h-6.2ZM162.4,389.7h6.2v6.2h-6.2Z" fill="#d0a8d8" opacity="0.38" filter="url(#bl3b)"/><path d="M30.0,390.9h3.8v3.8h-3.8ZM37.9,390.9h3.8v3.8h-3.8ZM45.7,390.9h3.8v3.8h-3.8ZM53.6,390.9h3.8v3.8h-3.8ZM61.5,390.9h3.8v3.8h-3.8ZM69.3,390.9h3.8v3.8h-3.8ZM77.2,390.9h3.8v3.8h-3.8ZM85.0,390.9h3.8v3.8h-3.8ZM92.9,390.9h3.8v3.8h-3.8ZM100.7,390.9h3.8v3.8h-3.8ZM108.6,390.9h3.8v3.8h-3.8ZM116.5,390.9h3.8v3.8h-3.8ZM124.3,390.9h3.8v3.8h-3.8ZM132.2,390.9h3.8v3.8h-3.8ZM140.0,390.9h3.8v3.8h-3.8ZM147.9,390.9h3.8v3.8h-3.8ZM155.7,390.9h3.8v3.8h-3.8ZM163.6,390.9h3.8v3.8h-3.8Z" fill="url(#g2)" opacity="0.95" filter="url(#bl3b)"/></g>
<rect x="177.3" y="390.4" width="4.6" height="4.8" fill="#3d72d4" opacity="0.85" filter="url(#bl3b)"/>
<rect x="194.7" y="390.4" width="4.6" height="4.8" fill="#3d72d4" opacity="0.85" filter="url(#bl3b)"/>
<rect x="209.7" y="390.4" width="4.6" height="4.8" fill="#3d72d4" opacity="0.85" filter="url(#bl3b)"/>
<rect x="225.7" y="390.4" width="4.6" height="4.8" fill="#3f66d5" opacity="0.85" filter="url(#bl3b)"/>
<rect x="28" y="398.8" width="220" height="10" fill="url(#g3)" opacity="0.45" filter="url(#bl3)"/>
<path d="M28.0,396.8L31.0,403.8L28.0,410.8L25.0,403.8ZM35.9,396.8L38.9,403.8L35.9,410.8L32.9,403.8ZM43.7,396.8L46.7,403.8L43.7,410.8L40.7,403.8ZM51.6,396.8L54.6,403.8L51.6,410.8L48.6,403.8ZM59.4,396.8L62.4,403.8L59.4,410.8L56.4,403.8ZM67.3,396.8L70.3,403.8L67.3,410.8L64.3,403.8ZM75.1,396.8L78.1,403.8L75.1,410.8L72.1,403.8ZM83.0,396.8L86.0,403.8L83.0,410.8L80.0,403.8ZM90.9,396.8L93.9,403.8L90.9,410.8L87.9,403.8ZM98.7,396.8L101.7,403.8L98.7,410.8L95.7,403.8ZM106.6,396.8L109.6,403.8L106.6,410.8L103.6,403.8ZM114.4,396.8L117.4,403.8L114.4,410.8L111.4,403.8ZM122.3,396.8L125.3,403.8L122.3,410.8L119.3,403.8ZM130.1,396.8L133.1,403.8L130.1,410.8L127.1,403.8ZM138.0,396.8L141.0,403.8L138.0,410.8L135.0,403.8ZM145.9,396.8L148.9,403.8L145.9,410.8L142.9,403.8ZM153.7,396.8L156.7,403.8L153.7,410.8L150.7,403.8ZM161.6,396.8L164.6,403.8L161.6,410.8L158.6,403.8ZM169.4,396.8L172.4,403.8L169.4,410.8L166.4,403.8ZM177.3,396.8L180.3,403.8L177.3,410.8L174.3,403.8ZM185.1,396.8L188.1,403.8L185.1,410.8L182.1,403.8ZM193.0,396.8L196.0,403.8L193.0,410.8L190.0,403.8ZM200.9,396.8L203.9,403.8L200.9,410.8L197.9,403.8ZM208.7,396.8L211.7,403.8L208.7,410.8L205.7,403.8ZM216.6,396.8L219.6,403.8L216.6,410.8L213.6,403.8ZM224.4,396.8L227.4,403.8L224.4,410.8L221.4,403.8ZM232.3,396.8L235.3,403.8L232.3,410.8L229.3,403.8ZM240.1,396.8L243.1,403.8L240.1,410.8L237.1,403.8ZM248.0,396.8L251.0,403.8L248.0,410.8L245.0,403.8Z" fill="url(#g3)" opacity="0.6" filter="url(#bl3c)"/>
<rect x="28" y="402.40000000000003" width="220" height="2.8" fill="url(#g3)" filter="url(#bl3b)"/>
<g opacity="1"><path d="M107.4,412.9h6.2v6.2h-6.2ZM115.3,412.9h6.2v6.2h-6.2ZM123.1,412.9h6.2v6.2h-6.2ZM131.0,412.9h6.2v6.2h-6.2ZM138.8,412.9h6.2v6.2h-6.2ZM146.7,412.9h6.2v6.2h-6.2ZM154.5,412.9h6.2v6.2h-6.2ZM162.4,412.9h6.2v6.2h-6.2ZM170.3,412.9h6.2v6.2h-6.2ZM178.1,412.9h6.2v6.2h-6.2ZM186.0,412.9h6.2v6.2h-6.2ZM193.8,412.9h6.2v6.2h-6.2ZM201.7,412.9h6.2v6.2h-6.2ZM209.5,412.9h6.2v6.2h-6.2ZM217.4,412.9h6.2v6.2h-6.2ZM225.3,412.9h6.2v6.2h-6.2ZM233.1,412.9h6.2v6.2h-6.2ZM241.0,412.9h6.2v6.2h-6.2ZM248.8,412.9h6.2v6.2h-6.2Z" fill="url(#g4)" opacity="0.35" filter="url(#bl3b)"/><path d="M107.4,412.9h6.2v6.2h-6.2ZM115.3,412.9h6.2v6.2h-6.2ZM123.1,412.9h6.2v6.2h-6.2ZM131.0,412.9h6.2v6.2h-6.2ZM138.8,412.9h6.2v6.2h-6.2ZM146.7,412.9h6.2v6.2h-6.2ZM154.5,412.9h6.2v6.2h-6.2ZM162.4,412.9h6.2v6.2h-6.2ZM170.3,412.9h6.2v6.2h-6.2ZM178.1,412.9h6.2v6.2h-6.2ZM186.0,412.9h6.2v6.2h-6.2ZM193.8,412.9h6.2v6.2h-6.2ZM201.7,412.9h6.2v6.2h-6.2ZM209.5,412.9h6.2v6.2h-6.2ZM217.4,412.9h6.2v6.2h-6.2ZM225.3,412.9h6.2v6.2h-6.2ZM233.1,412.9h6.2v6.2h-6.2ZM241.0,412.9h6.2v6.2h-6.2ZM248.8,412.9h6.2v6.2h-6.2Z" fill="#d0a8d8" opacity="0.38" filter="url(#bl3b)"/><path d="M108.6,414.1h3.8v3.8h-3.8ZM116.5,414.1h3.8v3.8h-3.8ZM124.3,414.1h3.8v3.8h-3.8ZM132.2,414.1h3.8v3.8h-3.8ZM140.0,414.1h3.8v3.8h-3.8ZM147.9,414.1h3.8v3.8h-3.8ZM155.7,414.1h3.8v3.8h-3.8ZM163.6,414.1h3.8v3.8h-3.8ZM171.5,414.1h3.8v3.8h-3.8ZM179.3,414.1h3.8v3.8h-3.8ZM187.2,414.1h3.8v3.8h-3.8ZM195.0,414.1h3.8v3.8h-3.8ZM202.9,414.1h3.8v3.8h-3.8ZM210.7,414.1h3.8v3.8h-3.8ZM218.6,414.1h3.8v3.8h-3.8ZM226.5,414.1h3.8v3.8h-3.8ZM234.3,414.1h3.8v3.8h-3.8ZM242.2,414.1h3.8v3.8h-3.8ZM250.0,414.1h3.8v3.8h-3.8Z" fill="url(#g4)" opacity="0.95" filter="url(#bl3b)"/></g>
<rect x="28" y="422.5" width="222" height="10" fill="url(#g5)" opacity="0.45" filter="url(#bl3)"/>
<path d="M28.0,420.5L31.0,427.5L28.0,434.5L25.0,427.5ZM35.9,420.5L38.9,427.5L35.9,434.5L32.9,427.5ZM43.7,420.5L46.7,427.5L43.7,434.5L40.7,427.5ZM51.6,420.5L54.6,427.5L51.6,434.5L48.6,427.5ZM59.4,420.5L62.4,427.5L59.4,434.5L56.4,427.5ZM67.3,420.5L70.3,427.5L67.3,434.5L64.3,427.5ZM75.1,420.5L78.1,427.5L75.1,434.5L72.1,427.5ZM83.0,420.5L86.0,427.5L83.0,434.5L80.0,427.5ZM90.9,420.5L93.9,427.5L90.9,434.5L87.9,427.5ZM98.7,420.5L101.7,427.5L98.7,434.5L95.7,427.5ZM106.6,420.5L109.6,427.5L106.6,434.5L103.6,427.5ZM114.4,420.5L117.4,427.5L114.4,434.5L111.4,427.5ZM122.3,420.5L125.3,427.5L122.3,434.5L119.3,427.5ZM130.1,420.5L133.1,427.5L130.1,434.5L127.1,427.5ZM138.0,420.5L141.0,427.5L138.0,434.5L135.0,427.5ZM145.9,420.5L148.9,427.5L145.9,434.5L142.9,427.5ZM153.7,420.5L156.7,427.5L153.7,434.5L150.7,427.5ZM161.6,420.5L164.6,427.5L161.6,434.5L158.6,427.5ZM169.4,420.5L172.4,427.5L169.4,434.5L166.4,427.5ZM177.3,420.5L180.3,427.5L177.3,434.5L174.3,427.5ZM185.1,420.5L188.1,427.5L185.1,434.5L182.1,427.5ZM193.0,420.5L196.0,427.5L193.0,434.5L190.0,427.5ZM200.9,420.5L203.9,427.5L200.9,434.5L197.9,427.5ZM208.7,420.5L211.7,427.5L208.7,434.5L205.7,427.5ZM216.6,420.5L219.6,427.5L216.6,434.5L213.6,427.5ZM224.4,420.5L227.4,427.5L224.4,434.5L221.4,427.5ZM232.3,420.5L235.3,427.5L232.3,434.5L229.3,427.5ZM240.1,420.5L243.1,427.5L240.1,434.5L237.1,427.5ZM248.0,420.5L251.0,427.5L248.0,434.5L245.0,427.5Z" fill="url(#g5)" opacity="0.6" filter="url(#bl3c)"/>
<rect x="28" y="426.1" width="222" height="2.8" fill="url(#g5)" filter="url(#bl3b)"/>
<g opacity="0.5"><path d="M28.8,428.9h6.2v6.2h-6.2ZM36.7,428.9h6.2v6.2h-6.2ZM44.5,428.9h6.2v6.2h-6.2ZM52.4,428.9h6.2v6.2h-6.2ZM60.3,428.9h6.2v6.2h-6.2Z" fill="url(#g6)" opacity="0.35" filter="url(#bl3b)"/><path d="M28.8,428.9h6.2v6.2h-6.2ZM36.7,428.9h6.2v6.2h-6.2ZM44.5,428.9h6.2v6.2h-6.2ZM52.4,428.9h6.2v6.2h-6.2ZM60.3,428.9h6.2v6.2h-6.2Z" fill="#d0a8d8" opacity="0.38" filter="url(#bl3b)"/><path d="M30.0,430.1h3.8v3.8h-3.8ZM37.9,430.1h3.8v3.8h-3.8ZM45.7,430.1h3.8v3.8h-3.8ZM53.6,430.1h3.8v3.8h-3.8ZM61.5,430.1h3.8v3.8h-3.8Z" fill="url(#g6)" opacity="0.95" filter="url(#bl3b)"/></g>
<rect x="25" y="435.0" width="70" height="10" fill="url(#g7)" opacity="0.45" filter="url(#bl3)"/>
<path d="M28.0,433.0L31.0,440.0L28.0,447.0L25.0,440.0ZM35.9,433.0L38.9,440.0L35.9,447.0L32.9,440.0ZM43.7,433.0L46.7,440.0L43.7,447.0L40.7,440.0ZM51.6,433.0L54.6,440.0L51.6,447.0L48.6,440.0ZM59.4,433.0L62.4,440.0L59.4,447.0L56.4,440.0ZM67.3,433.0L70.3,440.0L67.3,447.0L64.3,440.0ZM75.1,433.0L78.1,440.0L75.1,447.0L72.1,440.0ZM83.0,433.0L86.0,440.0L83.0,447.0L80.0,440.0ZM90.9,433.0L93.9,440.0L90.9,447.0L87.9,440.0Z" fill="url(#g7)" opacity="0.6" filter="url(#bl3c)"/>
<rect x="25" y="438.6" width="70" height="2.8" fill="url(#g7)" filter="url(#bl3b)"/>
<g opacity="1"><path d="M131.0,436.9h6.2v6.2h-6.2ZM138.8,436.9h6.2v6.2h-6.2ZM146.7,436.9h6.2v6.2h-6.2ZM154.5,436.9h6.2v6.2h-6.2ZM162.4,436.9h6.2v6.2h-6.2ZM170.3,436.9h6.2v6.2h-6.2ZM178.1,436.9h6.2v6.2h-6.2ZM186.0,436.9h6.2v6.2h-6.2ZM193.8,436.9h6.2v6.2h-6.2ZM201.7,436.9h6.2v6.2h-6.2ZM209.5,436.9h6.2v6.2h-6.2ZM217.4,436.9h6.2v6.2h-6.2ZM225.3,436.9h6.2v6.2h-6.2ZM233.1,436.9h6.2v6.2h-6.2ZM241.0,436.9h6.2v6.2h-6.2ZM248.8,436.9h6.2v6.2h-6.2Z" fill="url(#g8)" opacity="0.35" filter="url(#bl3b)"/><path d="M131.0,436.9h6.2v6.2h-6.2ZM138.8,436.9h6.2v6.2h-6.2ZM146.7,436.9h6.2v6.2h-6.2ZM154.5,436.9h6.2v6.2h-6.2ZM162.4,436.9h6.2v6.2h-6.2ZM170.3,436.9h6.2v6.2h-6.2ZM178.1,436.9h6.2v6.2h-6.2ZM186.0,436.9h6.2v6.2h-6.2ZM193.8,436.9h6.2v6.2h-6.2ZM201.7,436.9h6.2v6.2h-6.2ZM209.5,436.9h6.2v6.2h-6.2ZM217.4,436.9h6.2v6.2h-6.2ZM225.3,436.9h6.2v6.2h-6.2ZM233.1,436.9h6.2v6.2h-6.2ZM241.0,436.9h6.2v6.2h-6.2ZM248.8,436.9h6.2v6.2h-6.2Z" fill="#d0a8d8" opacity="0.38" filter="url(#bl3b)"/><path d="M132.2,438.1h3.8v3.8h-3.8ZM140.0,438.1h3.8v3.8h-3.8ZM147.9,438.1h3.8v3.8h-3.8ZM155.7,438.1h3.8v3.8h-3.8ZM163.6,438.1h3.8v3.8h-3.8ZM171.5,438.1h3.8v3.8h-3.8ZM179.3,438.1h3.8v3.8h-3.8ZM187.2,438.1h3.8v3.8h-3.8ZM195.0,438.1h3.8v3.8h-3.8ZM202.9,438.1h3.8v3.8h-3.8ZM210.7,438.1h3.8v3.8h-3.8ZM218.6,438.1h3.8v3.8h-3.8ZM226.5,438.1h3.8v3.8h-3.8ZM234.3,438.1h3.8v3.8h-3.8ZM242.2,438.1h3.8v3.8h-3.8ZM250.0,438.1h3.8v3.8h-3.8Z" fill="url(#g8)" opacity="0.95" filter="url(#bl3b)"/></g>
<rect x="140" y="446.0" width="110" height="10" fill="url(#g9)" opacity="0.45" filter="url(#bl3)"/>
<path d="M138.0,444.0L141.0,451.0L138.0,458.0L135.0,451.0ZM145.9,444.0L148.9,451.0L145.9,458.0L142.9,451.0ZM153.7,444.0L156.7,451.0L153.7,458.0L150.7,451.0ZM161.6,444.0L164.6,451.0L161.6,458.0L158.6,451.0ZM169.4,444.0L172.4,451.0L169.4,458.0L166.4,451.0ZM177.3,444.0L180.3,451.0L177.3,458.0L174.3,451.0ZM185.1,444.0L188.1,451.0L185.1,458.0L182.1,451.0ZM193.0,444.0L196.0,451.0L193.0,458.0L190.0,451.0ZM200.9,444.0L203.9,451.0L200.9,458.0L197.9,451.0ZM208.7,444.0L211.7,451.0L208.7,458.0L205.7,451.0ZM216.6,444.0L219.6,451.0L216.6,458.0L213.6,451.0ZM224.4,444.0L227.4,451.0L224.4,458.0L221.4,451.0ZM232.3,444.0L235.3,451.0L232.3,458.0L229.3,451.0ZM240.1,444.0L243.1,451.0L240.1,458.0L237.1,451.0ZM248.0,444.0L251.0,451.0L248.0,458.0L245.0,451.0Z" fill="url(#g9)" opacity="0.6" filter="url(#bl3c)"/>
<rect x="140" y="449.6" width="110" height="2.8" fill="url(#g9)" filter="url(#bl3b)"/>
<g opacity="1"><path d="M28.8,452.9h6.2v6.2h-6.2ZM36.7,452.9h6.2v6.2h-6.2ZM44.5,452.9h6.2v6.2h-6.2ZM52.4,452.9h6.2v6.2h-6.2ZM60.3,452.9h6.2v6.2h-6.2ZM68.1,452.9h6.2v6.2h-6.2ZM76.0,452.9h6.2v6.2h-6.2ZM83.8,452.9h6.2v6.2h-6.2Z" fill="url(#g10)" opacity="0.35" filter="url(#bl3b)"/><path d="M28.8,452.9h6.2v6.2h-6.2ZM36.7,452.9h6.2v6.2h-6.2ZM44.5,452.9h6.2v6.2h-6.2ZM52.4,452.9h6.2v6.2h-6.2ZM60.3,452.9h6.2v6.2h-6.2ZM68.1,452.9h6.2v6.2h-6.2ZM76.0,452.9h6.2v6.2h-6.2ZM83.8,452.9h6.2v6.2h-6.2Z" fill="#d0a8d8" opacity="0.38" filter="url(#bl3b)"/><path d="M30.0,454.1h3.8v3.8h-3.8ZM37.9,454.1h3.8v3.8h-3.8ZM45.7,454.1h3.8v3.8h-3.8ZM53.6,454.1h3.8v3.8h-3.8ZM61.5,454.1h3.8v3.8h-3.8ZM69.3,454.1h3.8v3.8h-3.8ZM77.2,454.1h3.8v3.8h-3.8ZM85.0,454.1h3.8v3.8h-3.8Z" fill="url(#g10)" opacity="0.95" filter="url(#bl3b)"/></g>
<rect x="100.7" y="453.6" width="4.6" height="4.8" fill="#3d72d4" opacity="0.85" filter="url(#bl3b)"/>
<rect x="25" y="462.0" width="223" height="10" fill="url(#g11)" opacity="0.45" filter="url(#bl3)"/>
<path d="M28.0,460.0L31.0,467.0L28.0,474.0L25.0,467.0ZM35.9,460.0L38.9,467.0L35.9,474.0L32.9,467.0ZM43.7,460.0L46.7,467.0L43.7,474.0L40.7,467.0ZM51.6,460.0L54.6,467.0L51.6,474.0L48.6,467.0ZM59.4,460.0L62.4,467.0L59.4,474.0L56.4,467.0ZM67.3,460.0L70.3,467.0L67.3,474.0L64.3,467.0ZM75.1,460.0L78.1,467.0L75.1,474.0L72.1,467.0ZM83.0,460.0L86.0,467.0L83.0,474.0L80.0,467.0ZM90.9,460.0L93.9,467.0L90.9,474.0L87.9,467.0ZM98.7,460.0L101.7,467.0L98.7,474.0L95.7,467.0ZM106.6,460.0L109.6,467.0L106.6,474.0L103.6,467.0ZM114.4,460.0L117.4,467.0L114.4,474.0L111.4,467.0ZM122.3,460.0L125.3,467.0L122.3,474.0L119.3,467.0ZM130.1,460.0L133.1,467.0L130.1,474.0L127.1,467.0ZM138.0,460.0L141.0,467.0L138.0,474.0L135.0,467.0ZM145.9,460.0L148.9,467.0L145.9,474.0L142.9,467.0ZM153.7,460.0L156.7,467.0L153.7,474.0L150.7,467.0ZM161.6,460.0L164.6,467.0L161.6,474.0L158.6,467.0ZM169.4,460.0L172.4,467.0L169.4,474.0L166.4,467.0ZM177.3,460.0L180.3,467.0L177.3,474.0L174.3,467.0ZM185.1,460.0L188.1,467.0L185.1,474.0L182.1,467.0ZM193.0,460.0L196.0,467.0L193.0,474.0L190.0,467.0ZM200.9,460.0L203.9,467.0L200.9,474.0L197.9,467.0ZM208.7,460.0L211.7,467.0L208.7,474.0L205.7,467.0ZM216.6,460.0L219.6,467.0L216.6,474.0L213.6,467.0ZM224.4,460.0L227.4,467.0L224.4,474.0L221.4,467.0ZM232.3,460.0L235.3,467.0L232.3,474.0L229.3,467.0ZM240.1,460.0L243.1,467.0L240.1,474.0L237.1,467.0ZM248.0,460.0L251.0,467.0L248.0,474.0L245.0,467.0Z" fill="url(#g11)" opacity="0.6" filter="url(#bl3c)"/>
<rect x="25" y="465.6" width="223" height="2.8" fill="url(#g11)" filter="url(#bl3b)"/>
<g opacity="1"><path d="M233.1,460.7h6.2v6.2h-6.2ZM241.0,460.7h6.2v6.2h-6.2ZM248.8,460.7h6.2v6.2h-6.2Z" fill="url(#g12)" opacity="0.35" filter="url(#bl3b)"/><path d="M233.1,460.7h6.2v6.2h-6.2ZM241.0,460.7h6.2v6.2h-6.2ZM248.8,460.7h6.2v6.2h-6.2Z" fill="#d0a8d8" opacity="0.38" filter="url(#bl3b)"/><path d="M234.3,461.9h3.8v3.8h-3.8ZM242.2,461.9h3.8v3.8h-3.8ZM250.0,461.9h3.8v3.8h-3.8Z" fill="url(#g12)" opacity="0.95" filter="url(#bl3b)"/></g>
<g opacity="1"><path d="M28.8,475.4h6.2v6.2h-6.2ZM36.7,475.4h6.2v6.2h-6.2ZM44.5,475.4h6.2v6.2h-6.2ZM52.4,475.4h6.2v6.2h-6.2ZM60.3,475.4h6.2v6.2h-6.2ZM68.1,475.4h6.2v6.2h-6.2ZM76.0,475.4h6.2v6.2h-6.2ZM83.8,475.4h6.2v6.2h-6.2ZM91.7,475.4h6.2v6.2h-6.2ZM99.5,475.4h6.2v6.2h-6.2ZM107.4,475.4h6.2v6.2h-6.2ZM115.3,475.4h6.2v6.2h-6.2ZM123.1,475.4h6.2v6.2h-6.2ZM131.0,475.4h6.2v6.2h-6.2ZM138.8,475.4h6.2v6.2h-6.2ZM146.7,475.4h6.2v6.2h-6.2ZM154.5,475.4h6.2v6.2h-6.2ZM162.4,475.4h6.2v6.2h-6.2ZM170.3,475.4h6.2v6.2h-6.2Z" fill="url(#g13)" opacity="0.35" filter="url(#bl3b)"/><path d="M28.8,475.4h6.2v6.2h-6.2ZM36.7,475.4h6.2v6.2h-6.2ZM44.5,475.4h6.2v6.2h-6.2ZM52.4,475.4h6.2v6.2h-6.2ZM60.3,475.4h6.2v6.2h-6.2ZM68.1,475.4h6.2v6.2h-6.2ZM76.0,475.4h6.2v6.2h-6.2ZM83.8,475.4h6.2v6.2h-6.2ZM91.7,475.4h6.2v6.2h-6.2ZM99.5,475.4h6.2v6.2h-6.2ZM107.4,475.4h6.2v6.2h-6.2ZM115.3,475.4h6.2v6.2h-6.2ZM123.1,475.4h6.2v6.2h-6.2ZM131.0,475.4h6.2v6.2h-6.2ZM138.8,475.4h6.2v6.2h-6.2ZM146.7,475.4h6.2v6.2h-6.2ZM154.5,475.4h6.2v6.2h-6.2ZM162.4,475.4h6.2v6.2h-6.2ZM170.3,475.4h6.2v6.2h-6.2Z" fill="#d0a8d8" opacity="0.38" filter="url(#bl3b)"/><path d="M30.0,476.6h3.8v3.8h-3.8ZM37.9,476.6h3.8v3.8h-3.8ZM45.7,476.6h3.8v3.8h-3.8ZM53.6,476.6h3.8v3.8h-3.8ZM61.5,476.6h3.8v3.8h-3.8ZM69.3,476.6h3.8v3.8h-3.8ZM77.2,476.6h3.8v3.8h-3.8ZM85.0,476.6h3.8v3.8h-3.8ZM92.9,476.6h3.8v3.8h-3.8ZM100.7,476.6h3.8v3.8h-3.8ZM108.6,476.6h3.8v3.8h-3.8ZM116.5,476.6h3.8v3.8h-3.8ZM124.3,476.6h3.8v3.8h-3.8ZM132.2,476.6h3.8v3.8h-3.8ZM140.0,476.6h3.8v3.8h-3.8ZM147.9,476.6h3.8v3.8h-3.8ZM155.7,476.6h3.8v3.8h-3.8ZM163.6,476.6h3.8v3.8h-3.8ZM171.5,476.6h3.8v3.8h-3.8Z" fill="url(#g13)" opacity="0.95" filter="url(#bl3b)"/></g>
<rect x="200" y="471.0" width="50" height="10" fill="url(#g14)" opacity="0.45" filter="url(#bl3)"/>
<path d="M200.9,469.0L203.9,476.0L200.9,483.0L197.9,476.0ZM208.7,469.0L211.7,476.0L208.7,483.0L205.7,476.0ZM216.6,469.0L219.6,476.0L216.6,483.0L213.6,476.0ZM224.4,469.0L227.4,476.0L224.4,483.0L221.4,476.0ZM232.3,469.0L235.3,476.0L232.3,483.0L229.3,476.0ZM240.1,469.0L243.1,476.0L240.1,483.0L237.1,476.0ZM248.0,469.0L251.0,476.0L248.0,483.0L245.0,476.0Z" fill="url(#g14)" opacity="0.6" filter="url(#bl3c)"/>
<rect x="200" y="474.6" width="50" height="2.8" fill="url(#g14)" filter="url(#bl3b)"/>
<rect x="25" y="484.8" width="223" height="10" fill="url(#g15)" opacity="0.45" filter="url(#bl3)"/>
<path d="M28.0,482.8L31.0,489.8L28.0,496.8L25.0,489.8ZM35.9,482.8L38.9,489.8L35.9,496.8L32.9,489.8ZM43.7,482.8L46.7,489.8L43.7,496.8L40.7,489.8ZM51.6,482.8L54.6,489.8L51.6,496.8L48.6,489.8ZM59.4,482.8L62.4,489.8L59.4,496.8L56.4,489.8ZM67.3,482.8L70.3,489.8L67.3,496.8L64.3,489.8ZM75.1,482.8L78.1,489.8L75.1,496.8L72.1,489.8ZM83.0,482.8L86.0,489.8L83.0,496.8L80.0,489.8ZM90.9,482.8L93.9,489.8L90.9,496.8L87.9,489.8ZM98.7,482.8L101.7,489.8L98.7,496.8L95.7,489.8ZM106.6,482.8L109.6,489.8L106.6,496.8L103.6,489.8ZM114.4,482.8L117.4,489.8L114.4,496.8L111.4,489.8ZM122.3,482.8L125.3,489.8L122.3,496.8L119.3,489.8ZM130.1,482.8L133.1,489.8L130.1,496.8L127.1,489.8ZM138.0,482.8L141.0,489.8L138.0,496.8L135.0,489.8ZM145.9,482.8L148.9,489.8L145.9,496.8L142.9,489.8ZM153.7,482.8L156.7,489.8L153.7,496.8L150.7,489.8ZM161.6,482.8L164.6,489.8L161.6,496.8L158.6,489.8ZM169.4,482.8L172.4,489.8L169.4,496.8L166.4,489.8ZM177.3,482.8L180.3,489.8L177.3,496.8L174.3,489.8ZM185.1,482.8L188.1,489.8L185.1,496.8L182.1,489.8ZM193.0,482.8L196.0,489.8L193.0,496.8L190.0,489.8ZM200.9,482.8L203.9,489.8L200.9,496.8L197.9,489.8ZM208.7,482.8L211.7,489.8L208.7,496.8L205.7,489.8ZM216.6,482.8L219.6,489.8L216.6,496.8L213.6,489.8ZM224.4,482.8L227.4,489.8L224.4,496.8L221.4,489.8ZM232.3,482.8L235.3,489.8L232.3,496.8L229.3,489.8ZM240.1,482.8L243.1,489.8L240.1,496.8L237.1,489.8ZM248.0,482.8L251.0,489.8L248.0,496.8L245.0,489.8Z" fill="url(#g15)" opacity="0.6" filter="url(#bl3c)"/>
<rect x="25" y="488.40000000000003" width="223" height="2.8" fill="url(#g15)" filter="url(#bl3b)"/>
<g opacity="1"><path d="M28.8,498.9h6.2v6.2h-6.2ZM36.7,498.9h6.2v6.2h-6.2ZM44.5,498.9h6.2v6.2h-6.2ZM52.4,498.9h6.2v6.2h-6.2ZM60.3,498.9h6.2v6.2h-6.2ZM68.1,498.9h6.2v6.2h-6.2ZM76.0,498.9h6.2v6.2h-6.2ZM83.8,498.9h6.2v6.2h-6.2ZM91.7,498.9h6.2v6.2h-6.2ZM99.5,498.9h6.2v6.2h-6.2ZM107.4,498.9h6.2v6.2h-6.2ZM115.3,498.9h6.2v6.2h-6.2ZM123.1,498.9h6.2v6.2h-6.2ZM131.0,498.9h6.2v6.2h-6.2ZM138.8,498.9h6.2v6.2h-6.2ZM146.7,498.9h6.2v6.2h-6.2ZM154.5,498.9h6.2v6.2h-6.2ZM162.4,498.9h6.2v6.2h-6.2ZM170.3,498.9h6.2v6.2h-6.2ZM178.1,498.9h6.2v6.2h-6.2ZM186.0,498.9h6.2v6.2h-6.2ZM193.8,498.9h6.2v6.2h-6.2ZM201.7,498.9h6.2v6.2h-6.2ZM209.5,498.9h6.2v6.2h-6.2ZM217.4,498.9h6.2v6.2h-6.2ZM225.3,498.9h6.2v6.2h-6.2Z" fill="url(#g16)" opacity="0.35" filter="url(#bl3b)"/><path d="M28.8,498.9h6.2v6.2h-6.2ZM36.7,498.9h6.2v6.2h-6.2ZM44.5,498.9h6.2v6.2h-6.2ZM52.4,498.9h6.2v6.2h-6.2ZM60.3,498.9h6.2v6.2h-6.2ZM68.1,498.9h6.2v6.2h-6.2ZM76.0,498.9h6.2v6.2h-6.2ZM83.8,498.9h6.2v6.2h-6.2ZM91.7,498.9h6.2v6.2h-6.2ZM99.5,498.9h6.2v6.2h-6.2ZM107.4,498.9h6.2v6.2h-6.2ZM115.3,498.9h6.2v6.2h-6.2ZM123.1,498.9h6.2v6.2h-6.2ZM131.0,498.9h6.2v6.2h-6.2ZM138.8,498.9h6.2v6.2h-6.2ZM146.7,498.9h6.2v6.2h-6.2ZM154.5,498.9h6.2v6.2h-6.2ZM162.4,498.9h6.2v6.2h-6.2ZM170.3,498.9h6.2v6.2h-6.2ZM178.1,498.9h6.2v6.2h-6.2ZM186.0,498.9h6.2v6.2h-6.2ZM193.8,498.9h6.2v6.2h-6.2ZM201.7,498.9h6.2v6.2h-6.2ZM209.5,498.9h6.2v6.2h-6.2ZM217.4,498.9h6.2v6.2h-6.2ZM225.3,498.9h6.2v6.2h-6.2Z" fill="#d0a8d8" opacity="0.38" filter="url(#bl3b)"/><path d="M30.0,500.1h3.8v3.8h-3.8ZM37.9,500.1h3.8v3.8h-3.8ZM45.7,500.1h3.8v3.8h-3.8ZM53.6,500.1h3.8v3.8h-3.8ZM61.5,500.1h3.8v3.8h-3.8ZM69.3,500.1h3.8v3.8h-3.8ZM77.2,500.1h3.8v3.8h-3.8ZM85.0,500.1h3.8v3.8h-3.8ZM92.9,500.1h3.8v3.8h-3.8ZM100.7,500.1h3.8v3.8h-3.8ZM108.6,500.1h3.8v3.8h-3.8ZM116.5,500.1h3.8v3.8h-3.8ZM124.3,500.1h3.8v3.8h-3.8ZM132.2,500.1h3.8v3.8h-3.8ZM140.0,500.1h3.8v3.8h-3.8ZM147.9,500.1h3.8v3.8h-3.8ZM155.7,500.1h3.8v3.8h-3.8ZM163.6,500.1h3.8v3.8h-3.8ZM171.5,500.1h3.8v3.8h-3.8ZM179.3,500.1h3.8v3.8h-3.8ZM187.2,500.1h3.8v3.8h-3.8ZM195.0,500.1h3.8v3.8h-3.8ZM202.9,500.1h3.8v3.8h-3.8ZM210.7,500.1h3.8v3.8h-3.8ZM218.6,500.1h3.8v3.8h-3.8ZM226.5,500.1h3.8v3.8h-3.8Z" fill="url(#g16)" opacity="0.95" filter="url(#bl3b)"/></g>
<rect x="28" y="510.0" width="222" height="10" fill="url(#g17)" opacity="0.45" filter="url(#bl3)"/>
<path d="M28.0,508.0L31.0,515.0L28.0,522.0L25.0,515.0ZM35.9,508.0L38.9,515.0L35.9,522.0L32.9,515.0ZM43.7,508.0L46.7,515.0L43.7,522.0L40.7,515.0ZM51.6,508.0L54.6,515.0L51.6,522.0L48.6,515.0ZM59.4,508.0L62.4,515.0L59.4,522.0L56.4,515.0ZM67.3,508.0L70.3,515.0L67.3,522.0L64.3,515.0ZM75.1,508.0L78.1,515.0L75.1,522.0L72.1,515.0ZM83.0,508.0L86.0,515.0L83.0,522.0L80.0,515.0ZM90.9,508.0L93.9,515.0L90.9,522.0L87.9,515.0ZM98.7,508.0L101.7,515.0L98.7,522.0L95.7,515.0ZM106.6,508.0L109.6,515.0L106.6,522.0L103.6,515.0ZM114.4,508.0L117.4,515.0L114.4,522.0L111.4,515.0ZM122.3,508.0L125.3,515.0L122.3,522.0L119.3,515.0ZM130.1,508.0L133.1,515.0L130.1,522.0L127.1,515.0ZM138.0,508.0L141.0,515.0L138.0,522.0L135.0,515.0ZM145.9,508.0L148.9,515.0L145.9,522.0L142.9,515.0ZM153.7,508.0L156.7,515.0L153.7,522.0L150.7,515.0ZM161.6,508.0L164.6,515.0L161.6,522.0L158.6,515.0ZM169.4,508.0L172.4,515.0L169.4,522.0L166.4,515.0ZM177.3,508.0L180.3,515.0L177.3,522.0L174.3,515.0ZM185.1,508.0L188.1,515.0L185.1,522.0L182.1,515.0ZM193.0,508.0L196.0,515.0L193.0,522.0L190.0,515.0ZM200.9,508.0L203.9,515.0L200.9,522.0L197.9,515.0ZM208.7,508.0L211.7,515.0L208.7,522.0L205.7,515.0ZM216.6,508.0L219.6,515.0L216.6,522.0L213.6,515.0ZM224.4,508.0L227.4,515.0L224.4,522.0L221.4,515.0ZM232.3,508.0L235.3,515.0L232.3,522.0L229.3,515.0ZM240.1,508.0L243.1,515.0L240.1,522.0L237.1,515.0ZM248.0,508.0L251.0,515.0L248.0,522.0L245.0,515.0Z" fill="url(#g17)" opacity="0.6" filter="url(#bl3c)"/>
<rect x="28" y="513.6" width="222" height="2.8" fill="url(#g17)" filter="url(#bl3b)"/>
<g opacity="1"><path d="M123.1,523.5h6.2v6.2h-6.2ZM131.0,523.5h6.2v6.2h-6.2ZM138.8,523.5h6.2v6.2h-6.2ZM146.7,523.5h6.2v6.2h-6.2ZM154.5,523.5h6.2v6.2h-6.2ZM162.4,523.5h6.2v6.2h-6.2ZM170.3,523.5h6.2v6.2h-6.2ZM178.1,523.5h6.2v6.2h-6.2ZM186.0,523.5h6.2v6.2h-6.2ZM193.8,523.5h6.2v6.2h-6.2ZM201.7,523.5h6.2v6.2h-6.2ZM209.5,523.5h6.2v6.2h-6.2ZM217.4,523.5h6.2v6.2h-6.2ZM225.3,523.5h6.2v6.2h-6.2ZM233.1,523.5h6.2v6.2h-6.2ZM241.0,523.5h6.2v6.2h-6.2ZM248.8,523.5h6.2v6.2h-6.2Z" fill="url(#g18)" opacity="0.35" filter="url(#bl3b)"/><path d="M123.1,523.5h6.2v6.2h-6.2ZM131.0,523.5h6.2v6.2h-6.2ZM138.8,523.5h6.2v6.2h-6.2ZM146.7,523.5h6.2v6.2h-6.2ZM154.5,523.5h6.2v6.2h-6.2ZM162.4,523.5h6.2v6.2h-6.2ZM170.3,523.5h6.2v6.2h-6.2ZM178.1,523.5h6.2v6.2h-6.2ZM186.0,523.5h6.2v6.2h-6.2ZM193.8,523.5h6.2v6.2h-6.2ZM201.7,523.5h6.2v6.2h-6.2ZM209.5,523.5h6.2v6.2h-6.2ZM217.4,523.5h6.2v6.2h-6.2ZM225.3,523.5h6.2v6.2h-6.2ZM233.1,523.5h6.2v6.2h-6.2ZM241.0,523.5h6.2v6.2h-6.2ZM248.8,523.5h6.2v6.2h-6.2Z" fill="#d0a8d8" opacity="0.38" filter="url(#bl3b)"/><path d="M124.3,524.7h3.8v3.8h-3.8ZM132.2,524.7h3.8v3.8h-3.8ZM140.0,524.7h3.8v3.8h-3.8ZM147.9,524.7h3.8v3.8h-3.8ZM155.7,524.7h3.8v3.8h-3.8ZM163.6,524.7h3.8v3.8h-3.8ZM171.5,524.7h3.8v3.8h-3.8ZM179.3,524.7h3.8v3.8h-3.8ZM187.2,524.7h3.8v3.8h-3.8ZM195.0,524.7h3.8v3.8h-3.8ZM202.9,524.7h3.8v3.8h-3.8ZM210.7,524.7h3.8v3.8h-3.8ZM218.6,524.7h3.8v3.8h-3.8ZM226.5,524.7h3.8v3.8h-3.8ZM234.3,524.7h3.8v3.8h-3.8ZM242.2,524.7h3.8v3.8h-3.8ZM250.0,524.7h3.8v3.8h-3.8Z" fill="url(#g18)" opacity="0.95" filter="url(#bl3b)"/></g>
<rect x="28" y="524.0" width="92" height="10" fill="url(#g19)" opacity="0.45" filter="url(#bl3)"/>
<path d="M28.0,522.0L31.0,529.0L28.0,536.0L25.0,529.0ZM35.9,522.0L38.9,529.0L35.9,536.0L32.9,529.0ZM43.7,522.0L46.7,529.0L43.7,536.0L40.7,529.0ZM51.6,522.0L54.6,529.0L51.6,536.0L48.6,529.0ZM59.4,522.0L62.4,529.0L59.4,536.0L56.4,529.0ZM67.3,522.0L70.3,529.0L67.3,536.0L64.3,529.0ZM75.1,522.0L78.1,529.0L75.1,536.0L72.1,529.0ZM83.0,522.0L86.0,529.0L83.0,536.0L80.0,529.0ZM90.9,522.0L93.9,529.0L90.9,536.0L87.9,529.0ZM98.7,522.0L101.7,529.0L98.7,536.0L95.7,529.0ZM106.6,522.0L109.6,529.0L106.6,536.0L103.6,529.0ZM114.4,522.0L117.4,529.0L114.4,536.0L111.4,529.0Z" fill="url(#g19)" opacity="0.6" filter="url(#bl3c)"/>
<rect x="28" y="527.6" width="92" height="2.8" fill="url(#g19)" filter="url(#bl3b)"/>
<g opacity="1"><path d="M28.8,536.7h6.2v6.2h-6.2ZM36.7,536.7h6.2v6.2h-6.2ZM44.5,536.7h6.2v6.2h-6.2ZM52.4,536.7h6.2v6.2h-6.2ZM60.3,536.7h6.2v6.2h-6.2ZM68.1,536.7h6.2v6.2h-6.2Z" fill="url(#g20)" opacity="0.35" filter="url(#bl3b)"/><path d="M28.8,536.7h6.2v6.2h-6.2ZM36.7,536.7h6.2v6.2h-6.2ZM44.5,536.7h6.2v6.2h-6.2ZM52.4,536.7h6.2v6.2h-6.2ZM60.3,536.7h6.2v6.2h-6.2ZM68.1,536.7h6.2v6.2h-6.2Z" fill="#d0a8d8" opacity="0.38" filter="url(#bl3b)"/><path d="M30.0,537.9h3.8v3.8h-3.8ZM37.9,537.9h3.8v3.8h-3.8ZM45.7,537.9h3.8v3.8h-3.8ZM53.6,537.9h3.8v3.8h-3.8ZM61.5,537.9h3.8v3.8h-3.8ZM69.3,537.9h3.8v3.8h-3.8Z" fill="url(#g20)" opacity="0.95" filter="url(#bl3b)"/></g>
<rect x="105" y="534.8" width="145" height="10" fill="url(#g21)" opacity="0.45" filter="url(#bl3)"/>
<path d="M106.6,532.8L109.6,539.8L106.6,546.8L103.6,539.8ZM114.4,532.8L117.4,539.8L114.4,546.8L111.4,539.8ZM122.3,532.8L125.3,539.8L122.3,546.8L119.3,539.8ZM130.1,532.8L133.1,539.8L130.1,546.8L127.1,539.8ZM138.0,532.8L141.0,539.8L138.0,546.8L135.0,539.8ZM145.9,532.8L148.9,539.8L145.9,546.8L142.9,539.8ZM153.7,532.8L156.7,539.8L153.7,546.8L150.7,539.8ZM161.6,532.8L164.6,539.8L161.6,546.8L158.6,539.8ZM169.4,532.8L172.4,539.8L169.4,546.8L166.4,539.8ZM177.3,532.8L180.3,539.8L177.3,546.8L174.3,539.8ZM185.1,532.8L188.1,539.8L185.1,546.8L182.1,539.8ZM193.0,532.8L196.0,539.8L193.0,546.8L190.0,539.8ZM200.9,532.8L203.9,539.8L200.9,546.8L197.9,539.8ZM208.7,532.8L211.7,539.8L208.7,546.8L205.7,539.8ZM216.6,532.8L219.6,539.8L216.6,546.8L213.6,539.8ZM224.4,532.8L227.4,539.8L224.4,546.8L221.4,539.8ZM232.3,532.8L235.3,539.8L232.3,546.8L229.3,539.8ZM240.1,532.8L243.1,539.8L240.1,546.8L237.1,539.8ZM248.0,532.8L251.0,539.8L248.0,546.8L245.0,539.8Z" fill="url(#g21)" opacity="0.6" filter="url(#bl3c)"/>
<rect x="105" y="538.4" width="145" height="2.8" fill="url(#g21)" filter="url(#bl3b)"/>
<g opacity="1"><path d="M146.7,546.5h6.2v6.2h-6.2ZM154.5,546.5h6.2v6.2h-6.2ZM162.4,546.5h6.2v6.2h-6.2ZM170.3,546.5h6.2v6.2h-6.2ZM178.1,546.5h6.2v6.2h-6.2ZM186.0,546.5h6.2v6.2h-6.2ZM193.8,546.5h6.2v6.2h-6.2ZM201.7,546.5h6.2v6.2h-6.2ZM209.5,546.5h6.2v6.2h-6.2ZM217.4,546.5h6.2v6.2h-6.2ZM225.3,546.5h6.2v6.2h-6.2ZM233.1,546.5h6.2v6.2h-6.2ZM241.0,546.5h6.2v6.2h-6.2ZM248.8,546.5h6.2v6.2h-6.2Z" fill="url(#g22)" opacity="0.35" filter="url(#bl3b)"/><path d="M146.7,546.5h6.2v6.2h-6.2ZM154.5,546.5h6.2v6.2h-6.2ZM162.4,546.5h6.2v6.2h-6.2ZM170.3,546.5h6.2v6.2h-6.2ZM178.1,546.5h6.2v6.2h-6.2ZM186.0,546.5h6.2v6.2h-6.2ZM193.8,546.5h6.2v6.2h-6.2ZM201.7,546.5h6.2v6.2h-6.2ZM209.5,546.5h6.2v6.2h-6.2ZM217.4,546.5h6.2v6.2h-6.2ZM225.3,546.5h6.2v6.2h-6.2ZM233.1,546.5h6.2v6.2h-6.2ZM241.0,546.5h6.2v6.2h-6.2ZM248.8,546.5h6.2v6.2h-6.2Z" fill="#d0a8d8" opacity="0.38" filter="url(#bl3b)"/><path d="M147.9,547.7h3.8v3.8h-3.8ZM155.7,547.7h3.8v3.8h-3.8ZM163.6,547.7h3.8v3.8h-3.8ZM171.5,547.7h3.8v3.8h-3.8ZM179.3,547.7h3.8v3.8h-3.8ZM187.2,547.7h3.8v3.8h-3.8ZM195.0,547.7h3.8v3.8h-3.8ZM202.9,547.7h3.8v3.8h-3.8ZM210.7,547.7h3.8v3.8h-3.8ZM218.6,547.7h3.8v3.8h-3.8ZM226.5,547.7h3.8v3.8h-3.8ZM234.3,547.7h3.8v3.8h-3.8ZM242.2,547.7h3.8v3.8h-3.8ZM250.0,547.7h3.8v3.8h-3.8Z" fill="url(#g22)" opacity="0.95" filter="url(#bl3b)"/></g>
<rect x="25" y="549.0" width="105" height="10" fill="url(#g23)" opacity="0.45" filter="url(#bl3)"/>
<path d="M28.0,547.0L31.0,554.0L28.0,561.0L25.0,554.0ZM35.9,547.0L38.9,554.0L35.9,561.0L32.9,554.0ZM43.7,547.0L46.7,554.0L43.7,561.0L40.7,554.0ZM51.6,547.0L54.6,554.0L51.6,561.0L48.6,554.0ZM59.4,547.0L62.4,554.0L59.4,561.0L56.4,554.0ZM67.3,547.0L70.3,554.0L67.3,561.0L64.3,554.0ZM75.1,547.0L78.1,554.0L75.1,561.0L72.1,554.0ZM83.0,547.0L86.0,554.0L83.0,561.0L80.0,554.0ZM90.9,547.0L93.9,554.0L90.9,561.0L87.9,554.0ZM98.7,547.0L101.7,554.0L98.7,561.0L95.7,554.0ZM106.6,547.0L109.6,554.0L106.6,561.0L103.6,554.0ZM114.4,547.0L117.4,554.0L114.4,561.0L111.4,554.0ZM122.3,547.0L125.3,554.0L122.3,561.0L119.3,554.0ZM130.1,547.0L133.1,554.0L130.1,561.0L127.1,554.0Z" fill="url(#g23)" opacity="0.6" filter="url(#bl3c)"/>
<rect x="25" y="552.6" width="105" height="2.8" fill="url(#g23)" filter="url(#bl3b)"/>
<rect x="150" y="556.0" width="100" height="10" fill="url(#g24)" opacity="0.45" filter="url(#bl3)"/>
<path d="M153.7,554.0L156.7,561.0L153.7,568.0L150.7,561.0ZM161.6,554.0L164.6,561.0L161.6,568.0L158.6,561.0ZM169.4,554.0L172.4,561.0L169.4,568.0L166.4,561.0ZM177.3,554.0L180.3,561.0L177.3,568.0L174.3,561.0ZM185.1,554.0L188.1,561.0L185.1,568.0L182.1,561.0ZM193.0,554.0L196.0,561.0L193.0,568.0L190.0,561.0ZM200.9,554.0L203.9,561.0L200.9,568.0L197.9,561.0ZM208.7,554.0L211.7,561.0L208.7,568.0L205.7,561.0ZM216.6,554.0L219.6,561.0L216.6,568.0L213.6,561.0ZM224.4,554.0L227.4,561.0L224.4,568.0L221.4,561.0ZM232.3,554.0L235.3,561.0L232.3,568.0L229.3,561.0ZM240.1,554.0L243.1,561.0L240.1,568.0L237.1,561.0ZM248.0,554.0L251.0,561.0L248.0,568.0L245.0,561.0Z" fill="url(#g24)" opacity="0.6" filter="url(#bl3c)"/>
<rect x="150" y="559.6" width="100" height="2.8" fill="url(#g24)" filter="url(#bl3b)"/>
<g opacity="1"><path d="M28.8,562.9h6.2v6.2h-6.2ZM36.7,562.9h6.2v6.2h-6.2ZM44.5,562.9h6.2v6.2h-6.2ZM52.4,562.9h6.2v6.2h-6.2ZM60.3,562.9h6.2v6.2h-6.2ZM68.1,562.9h6.2v6.2h-6.2ZM76.0,562.9h6.2v6.2h-6.2ZM83.8,562.9h6.2v6.2h-6.2ZM91.7,562.9h6.2v6.2h-6.2ZM99.5,562.9h6.2v6.2h-6.2ZM107.4,562.9h6.2v6.2h-6.2ZM115.3,562.9h6.2v6.2h-6.2Z" fill="url(#g25)" opacity="0.35" filter="url(#bl3b)"/><path d="M28.8,562.9h6.2v6.2h-6.2ZM36.7,562.9h6.2v6.2h-6.2ZM44.5,562.9h6.2v6.2h-6.2ZM52.4,562.9h6.2v6.2h-6.2ZM60.3,562.9h6.2v6.2h-6.2ZM68.1,562.9h6.2v6.2h-6.2ZM76.0,562.9h6.2v6.2h-6.2ZM83.8,562.9h6.2v6.2h-6.2ZM91.7,562.9h6.2v6.2h-6.2ZM99.5,562.9h6.2v6.2h-6.2ZM107.4,562.9h6.2v6.2h-6.2ZM115.3,562.9h6.2v6.2h-6.2Z" fill="#d0a8d8" opacity="0.38" filter="url(#bl3b)"/><path d="M30.0,564.1h3.8v3.8h-3.8ZM37.9,564.1h3.8v3.8h-3.8ZM45.7,564.1h3.8v3.8h-3.8ZM53.6,564.1h3.8v3.8h-3.8ZM61.5,564.1h3.8v3.8h-3.8ZM69.3,564.1h3.8v3.8h-3.8ZM77.2,564.1h3.8v3.8h-3.8ZM85.0,564.1h3.8v3.8h-3.8ZM92.9,564.1h3.8v3.8h-3.8ZM100.7,564.1h3.8v3.8h-3.8ZM108.6,564.1h3.8v3.8h-3.8ZM116.5,564.1h3.8v3.8h-3.8Z" fill="url(#g25)" opacity="0.95" filter="url(#bl3b)"/></g>
<rect x="131.7" y="563.6" width="4.6" height="4.8" fill="#3d72d4" opacity="0.85" filter="url(#bl3b)"/>
<rect x="25" y="572.6" width="225" height="10" fill="url(#g26)" opacity="0.45" filter="url(#bl3)"/>
<path d="M28.0,570.6L31.0,577.6L28.0,584.6L25.0,577.6ZM35.9,570.6L38.9,577.6L35.9,584.6L32.9,577.6ZM43.7,570.6L46.7,577.6L43.7,584.6L40.7,577.6ZM51.6,570.6L54.6,577.6L51.6,584.6L48.6,577.6ZM59.4,570.6L62.4,577.6L59.4,584.6L56.4,577.6ZM67.3,570.6L70.3,577.6L67.3,584.6L64.3,577.6ZM75.1,570.6L78.1,577.6L75.1,584.6L72.1,577.6ZM83.0,570.6L86.0,577.6L83.0,584.6L80.0,577.6ZM90.9,570.6L93.9,577.6L90.9,584.6L87.9,577.6ZM98.7,570.6L101.7,577.6L98.7,584.6L95.7,577.6ZM106.6,570.6L109.6,577.6L106.6,584.6L103.6,577.6ZM114.4,570.6L117.4,577.6L114.4,584.6L111.4,577.6ZM122.3,570.6L125.3,577.6L122.3,584.6L119.3,577.6ZM130.1,570.6L133.1,577.6L130.1,584.6L127.1,577.6ZM138.0,570.6L141.0,577.6L138.0,584.6L135.0,577.6ZM145.9,570.6L148.9,577.6L145.9,584.6L142.9,577.6ZM153.7,570.6L156.7,577.6L153.7,584.6L150.7,577.6ZM161.6,570.6L164.6,577.6L161.6,584.6L158.6,577.6ZM169.4,570.6L172.4,577.6L169.4,584.6L166.4,577.6ZM177.3,570.6L180.3,577.6L177.3,584.6L174.3,577.6ZM185.1,570.6L188.1,577.6L185.1,584.6L182.1,577.6ZM193.0,570.6L196.0,577.6L193.0,584.6L190.0,577.6ZM200.9,570.6L203.9,577.6L200.9,584.6L197.9,577.6ZM208.7,570.6L211.7,577.6L208.7,584.6L205.7,577.6ZM216.6,570.6L219.6,577.6L216.6,584.6L213.6,577.6ZM224.4,570.6L227.4,577.6L224.4,584.6L221.4,577.6ZM232.3,570.6L235.3,577.6L232.3,584.6L229.3,577.6ZM240.1,570.6L243.1,577.6L240.1,584.6L237.1,577.6ZM248.0,570.6L251.0,577.6L248.0,584.6L245.0,577.6Z" fill="url(#g26)" opacity="0.6" filter="url(#bl3c)"/>
<rect x="25" y="576.2" width="225" height="2.8" fill="url(#g26)" filter="url(#bl3b)"/>
<g opacity="1"><path d="M28.8,585.9h6.2v6.2h-6.2ZM36.7,585.9h6.2v6.2h-6.2ZM44.5,585.9h6.2v6.2h-6.2ZM52.4,585.9h6.2v6.2h-6.2ZM60.3,585.9h6.2v6.2h-6.2ZM68.1,585.9h6.2v6.2h-6.2ZM76.0,585.9h6.2v6.2h-6.2ZM83.8,585.9h6.2v6.2h-6.2ZM91.7,585.9h6.2v6.2h-6.2ZM99.5,585.9h6.2v6.2h-6.2ZM107.4,585.9h6.2v6.2h-6.2ZM115.3,585.9h6.2v6.2h-6.2ZM123.1,585.9h6.2v6.2h-6.2ZM131.0,585.9h6.2v6.2h-6.2ZM138.8,585.9h6.2v6.2h-6.2ZM146.7,585.9h6.2v6.2h-6.2ZM154.5,585.9h6.2v6.2h-6.2ZM162.4,585.9h6.2v6.2h-6.2ZM170.3,585.9h6.2v6.2h-6.2ZM178.1,585.9h6.2v6.2h-6.2ZM186.0,585.9h6.2v6.2h-6.2ZM193.8,585.9h6.2v6.2h-6.2ZM201.7,585.9h6.2v6.2h-6.2ZM209.5,585.9h6.2v6.2h-6.2ZM217.4,585.9h6.2v6.2h-6.2ZM225.3,585.9h6.2v6.2h-6.2ZM233.1,585.9h6.2v6.2h-6.2Z" fill="url(#g27)" opacity="0.35" filter="url(#bl3b)"/><path d="M28.8,585.9h6.2v6.2h-6.2ZM36.7,585.9h6.2v6.2h-6.2ZM44.5,585.9h6.2v6.2h-6.2ZM52.4,585.9h6.2v6.2h-6.2ZM60.3,585.9h6.2v6.2h-6.2ZM68.1,585.9h6.2v6.2h-6.2ZM76.0,585.9h6.2v6.2h-6.2ZM83.8,585.9h6.2v6.2h-6.2ZM91.7,585.9h6.2v6.2h-6.2ZM99.5,585.9h6.2v6.2h-6.2ZM107.4,585.9h6.2v6.2h-6.2ZM115.3,585.9h6.2v6.2h-6.2ZM123.1,585.9h6.2v6.2h-6.2ZM131.0,585.9h6.2v6.2h-6.2ZM138.8,585.9h6.2v6.2h-6.2ZM146.7,585.9h6.2v6.2h-6.2ZM154.5,585.9h6.2v6.2h-6.2ZM162.4,585.9h6.2v6.2h-6.2ZM170.3,585.9h6.2v6.2h-6.2ZM178.1,585.9h6.2v6.2h-6.2ZM186.0,585.9h6.2v6.2h-6.2ZM193.8,585.9h6.2v6.2h-6.2ZM201.7,585.9h6.2v6.2h-6.2ZM209.5,585.9h6.2v6.2h-6.2ZM217.4,585.9h6.2v6.2h-6.2ZM225.3,585.9h6.2v6.2h-6.2ZM233.1,585.9h6.2v6.2h-6.2Z" fill="#d0a8d8" opacity="0.38" filter="url(#bl3b)"/><path d="M30.0,587.1h3.8v3.8h-3.8ZM37.9,587.1h3.8v3.8h-3.8ZM45.7,587.1h3.8v3.8h-3.8ZM53.6,587.1h3.8v3.8h-3.8ZM61.5,587.1h3.8v3.8h-3.8ZM69.3,587.1h3.8v3.8h-3.8ZM77.2,587.1h3.8v3.8h-3.8ZM85.0,587.1h3.8v3.8h-3.8ZM92.9,587.1h3.8v3.8h-3.8ZM100.7,587.1h3.8v3.8h-3.8ZM108.6,587.1h3.8v3.8h-3.8ZM116.5,587.1h3.8v3.8h-3.8ZM124.3,587.1h3.8v3.8h-3.8ZM132.2,587.1h3.8v3.8h-3.8ZM140.0,587.1h3.8v3.8h-3.8ZM147.9,587.1h3.8v3.8h-3.8ZM155.7,587.1h3.8v3.8h-3.8ZM163.6,587.1h3.8v3.8h-3.8ZM171.5,587.1h3.8v3.8h-3.8ZM179.3,587.1h3.8v3.8h-3.8ZM187.2,587.1h3.8v3.8h-3.8ZM195.0,587.1h3.8v3.8h-3.8ZM202.9,587.1h3.8v3.8h-3.8ZM210.7,587.1h3.8v3.8h-3.8ZM218.6,587.1h3.8v3.8h-3.8ZM226.5,587.1h3.8v3.8h-3.8ZM234.3,587.1h3.8v3.8h-3.8Z" fill="url(#g27)" opacity="0.95" filter="url(#bl3b)"/></g>
<rect x="28" y="596.0" width="220" height="10" fill="url(#g28)" opacity="0.45" filter="url(#bl3)"/>
<path d="M28.0,594.0L31.0,601.0L28.0,608.0L25.0,601.0ZM35.9,594.0L38.9,601.0L35.9,608.0L32.9,601.0ZM43.7,594.0L46.7,601.0L43.7,608.0L40.7,601.0ZM51.6,594.0L54.6,601.0L51.6,608.0L48.6,601.0ZM59.4,594.0L62.4,601.0L59.4,608.0L56.4,601.0ZM67.3,594.0L70.3,601.0L67.3,608.0L64.3,601.0ZM75.1,594.0L78.1,601.0L75.1,608.0L72.1,601.0ZM83.0,594.0L86.0,601.0L83.0,608.0L80.0,601.0ZM90.9,594.0L93.9,601.0L90.9,608.0L87.9,601.0ZM98.7,594.0L101.7,601.0L98.7,608.0L95.7,601.0ZM106.6,594.0L109.6,601.0L106.6,608.0L103.6,601.0ZM114.4,594.0L117.4,601.0L114.4,608.0L111.4,601.0ZM122.3,594.0L125.3,601.0L122.3,608.0L119.3,601.0ZM130.1,594.0L133.1,601.0L130.1,608.0L127.1,601.0ZM138.0,594.0L141.0,601.0L138.0,608.0L135.0,601.0ZM145.9,594.0L148.9,601.0L145.9,608.0L142.9,601.0ZM153.7,594.0L156.7,601.0L153.7,608.0L150.7,601.0ZM161.6,594.0L164.6,601.0L161.6,608.0L158.6,601.0ZM169.4,594.0L172.4,601.0L169.4,608.0L166.4,601.0ZM177.3,594.0L180.3,601.0L177.3,608.0L174.3,601.0ZM185.1,594.0L188.1,601.0L185.1,608.0L182.1,601.0ZM193.0,594.0L196.0,601.0L193.0,608.0L190.0,601.0ZM200.9,594.0L203.9,601.0L200.9,608.0L197.9,601.0ZM208.7,594.0L211.7,601.0L208.7,608.0L205.7,601.0ZM216.6,594.0L219.6,601.0L216.6,608.0L213.6,601.0ZM224.4,594.0L227.4,601.0L224.4,608.0L221.4,601.0ZM232.3,594.0L235.3,601.0L232.3,608.0L229.3,601.0ZM240.1,594.0L243.1,601.0L240.1,608.0L237.1,601.0ZM248.0,594.0L251.0,601.0L248.0,608.0L245.0,601.0Z" fill="url(#g28)" opacity="0.6" filter="url(#bl3c)"/>
<rect x="28" y="599.6" width="220" height="2.8" fill="url(#g28)" filter="url(#bl3b)"/>
</g>
<text x="20" y="387.2" font-family="Liberation Sans, sans-serif" font-weight="bold" font-size="17" text-anchor="end">2</text>
<text x="20" y="442.2" font-family="Liberation Sans, sans-serif" font-weight="bold" font-size="17" text-anchor="end">1</text>
<text x="20" y="497.2" font-family="Liberation Sans, sans-serif" font-weight="bold" font-size="17" text-anchor="end">0</text>
<text x="20" y="552.2" font-family="Liberation Sans, sans-serif" font-weight="bold" font-size="17" text-anchor="end">−1</text>
<text x="20" y="607.2" font-family="Liberation Sans, sans-serif" font-weight="bold" font-size="17" text-anchor="end">−2</text>
<text x="28.0" y="624.6" font-family="Liberation Sans, sans-serif" font-weight="bold" font-size="17" text-anchor="middle">−2</text>
<text x="83.0" y="624.6" font-family="Liberation Sans, sans-serif" font-weight="bold" font-size="17" text-anchor="middle">−1</text>
<text x="138.0" y="624.6" font-family="Liberation Sans, sans-serif" font-weight="bold" font-size="17" text-anchor="middle">0</text>
<text x="193.0" y="624.6" font-family="Liberation Sans, sans-serif" font-weight="bold" font-size="17" text-anchor="middle">1</text>
<text x="248.0" y="624.6" font-family="Liberation Sans, sans-serif" font-weight="bold" font-size="17" text-anchor="middle">2</text>
<defs><linearGradient id="cb3" x1="0" y1="0" x2="0" y2="1"><stop offset="0.000" stop-color="#db2122"/><stop offset="0.100" stop-color="#e93f28"/><stop offset="0.200" stop-color="#ef7833"/><stop offset="0.300" stop-color="#e0a43d"/><stop offset="0.400" stop-color="#bfb84c"/><stop offset="0.500" stop-color="#94b962"/><stop offset="0.600" stop-color="#69ad88"/><stop offset="0.700" stop-color="#4996b7"/><stop offset="0.800" stop-color="#3d72d4"/><stop offset="0.900" stop-color="#493ece"/><stop offset="1.000" stop-color="#781c86"/></linearGradient></defs>
<rect x="264" y="424" width="10" height="142.4" fill="url(#cb3)"/>
<text x="278" y="457.0" font-family="Liberation Sans, sans-serif" font-weight="bold" font-size="17.5">2.1</text>
<line x1="274" y1="450.6" x2="276.5" y2="450.6" stroke="#999" stroke-width="0.8"/>
<text x="278" y="486.2" font-family="Liberation Sans, sans-serif" font-weight="bold" font-size="17.5">2.0</text>
<line x1="274" y1="479.8" x2="276.5" y2="479.8" stroke="#999" stroke-width="0.8"/>
<text x="278" y="515.4" font-family="Liberation Sans, sans-serif" font-weight="bold" font-size="17.5">1.9</text>
<line x1="274" y1="509.0" x2="276.5" y2="509.0" stroke="#999" stroke-width="0.8"/>
<text x="278" y="544.6" font-family="Liberation Sans, sans-serif" font-weight="bold" font-size="17.5">1.8</text>
<line x1="274" y1="538.2" x2="276.5" y2="538.2" stroke="#999" stroke-width="0.8"/>
<text x="278" y="573.8" font-family="Liberation Sans, sans-serif" font-weight="bold" font-size="17.5">1.7</text>
<line x1="274" y1="567.4" x2="276.5" y2="567.4" stroke="#999" stroke-width="0.8"/>
<g stroke="#6e6e6e" fill="none">
<line x1="385" y1="602" x2="661" y2="602" stroke-width="2.6"/>
<line x1="523" y1="441.5" x2="523" y2="610" stroke-width="2.6"/>
</g>
<path d="M390.0,599.5V602M403.3,600.5V602M416.6,600.5V602M429.9,600.5V602M443.2,600.5V602M456.5,599.5V602M469.8,600.5V602M483.1,600.5V602M496.4,600.5V602M509.7,600.5V602M523.0,599.5V602M536.3,600.5V602M549.6,600.5V602M562.9,600.5V602M576.2,600.5V602M589.5,599.5V602M602.8,600.5V602M616.1,600.5V602M629.4,600.5V602M642.7,600.5V602M656.0,599.5V602M523,597.3H525.5M523,590.1H524.5M523,583.0H525.5M523,575.8H524.5M523,568.7H525.5M523,561.5H524.5M523,554.4H525.5M523,547.2H524.5M523,540.1H525.5M523,532.9H524.5M523,525.8H525.5M523,518.6H524.5M523,511.5H525.5M523,504.3H524.5M523,497.2H525.5M523,490.0H524.5M523,482.9H525.5M523,475.7H524.5M523,468.6H525.5M523,461.4H524.5" stroke="#6e6e6e" stroke-width="1" fill="none"/>
<line x1="390.30" y1="474.50" x2="391.63" y2="473.59" stroke="#f07c33" stroke-width="1.3" stroke-linecap="round"/>
<line x1="391.63" y1="473.59" x2="393.48" y2="472.31" stroke="#ef7833" stroke-width="1.3" stroke-linecap="round"/>
<line x1="393.48" y1="472.31" x2="395.67" y2="470.80" stroke="#ef7332" stroke-width="1.3" stroke-linecap="round"/>
<line x1="395.67" y1="470.80" x2="398.02" y2="469.20" stroke="#ee6d31" stroke-width="1.3" stroke-linecap="round"/>
<line x1="398.02" y1="469.20" x2="400.35" y2="467.66" stroke="#ee672f" stroke-width="1.3" stroke-linecap="round"/>
<line x1="400.35" y1="467.66" x2="402.50" y2="466.30" stroke="#ed612e" stroke-width="1.3" stroke-linecap="round"/>
<line x1="402.50" y1="466.30" x2="404.48" y2="465.11" stroke="#ed5c2e" stroke-width="1.3" stroke-linecap="round"/>
<line x1="404.48" y1="465.11" x2="406.44" y2="463.97" stroke="#ed582d" stroke-width="1.3" stroke-linecap="round"/>
<line x1="406.44" y1="463.97" x2="408.38" y2="462.88" stroke="#ec542c" stroke-width="1.3" stroke-linecap="round"/>
<line x1="408.38" y1="462.88" x2="410.32" y2="461.84" stroke="#ec502b" stroke-width="1.3" stroke-linecap="round"/>
<line x1="410.32" y1="461.84" x2="412.26" y2="460.85" stroke="#ec4c2b" stroke-width="1.3" stroke-linecap="round"/>
<line x1="412.26" y1="460.85" x2="414.20" y2="459.90" stroke="#eb482a" stroke-width="1.3" stroke-linecap="round"/>
<line x1="414.20" y1="459.90" x2="416.15" y2="459.00" stroke="#eb4529" stroke-width="1.3" stroke-linecap="round"/>
<line x1="416.15" y1="459.00" x2="418.10" y2="458.16" stroke="#eb4229" stroke-width="1.3" stroke-linecap="round"/>
<line x1="418.10" y1="458.16" x2="420.05" y2="457.37" stroke="#ea4029" stroke-width="1.3" stroke-linecap="round"/>
<line x1="420.05" y1="457.37" x2="422.00" y2="456.61" stroke="#e93f28" stroke-width="1.3" stroke-linecap="round"/>
<line x1="422.00" y1="456.61" x2="423.95" y2="455.89" stroke="#e83d28" stroke-width="1.3" stroke-linecap="round"/>
<line x1="423.95" y1="455.89" x2="425.90" y2="455.20" stroke="#e83c28" stroke-width="1.3" stroke-linecap="round"/>
<line x1="425.90" y1="455.20" x2="427.85" y2="454.53" stroke="#e73b27" stroke-width="1.3" stroke-linecap="round"/>
<line x1="427.85" y1="454.53" x2="429.80" y2="453.89" stroke="#e73a27" stroke-width="1.3" stroke-linecap="round"/>
<line x1="429.80" y1="453.89" x2="431.76" y2="453.29" stroke="#e63927" stroke-width="1.3" stroke-linecap="round"/>
<line x1="431.76" y1="453.29" x2="433.71" y2="452.72" stroke="#e53727" stroke-width="1.3" stroke-linecap="round"/>
<line x1="433.71" y1="452.72" x2="435.66" y2="452.19" stroke="#e53626" stroke-width="1.3" stroke-linecap="round"/>
<line x1="435.66" y1="452.19" x2="437.60" y2="451.70" stroke="#e53626" stroke-width="1.3" stroke-linecap="round"/>
<line x1="437.60" y1="451.70" x2="439.49" y2="451.25" stroke="#e43526" stroke-width="1.3" stroke-linecap="round"/>
<line x1="439.49" y1="451.25" x2="441.32" y2="450.85" stroke="#e43426" stroke-width="1.3" stroke-linecap="round"/>
<line x1="441.32" y1="450.85" x2="443.14" y2="450.48" stroke="#e33326" stroke-width="1.3" stroke-linecap="round"/>
<line x1="443.14" y1="450.48" x2="445.03" y2="450.15" stroke="#e33325" stroke-width="1.3" stroke-linecap="round"/>
<line x1="445.03" y1="450.15" x2="447.02" y2="449.86" stroke="#e33225" stroke-width="1.3" stroke-linecap="round"/>
<line x1="447.02" y1="449.86" x2="449.20" y2="449.60" stroke="#e33125" stroke-width="1.3" stroke-linecap="round"/>
<line x1="449.20" y1="449.60" x2="451.64" y2="449.37" stroke="#e23125" stroke-width="1.3" stroke-linecap="round"/>
<line x1="451.64" y1="449.37" x2="454.31" y2="449.18" stroke="#e23125" stroke-width="1.3" stroke-linecap="round"/>
<line x1="454.31" y1="449.18" x2="457.09" y2="449.02" stroke="#e23025" stroke-width="1.3" stroke-linecap="round"/>
<line x1="457.09" y1="449.02" x2="459.88" y2="448.90" stroke="#e23025" stroke-width="1.3" stroke-linecap="round"/>
<line x1="459.88" y1="448.90" x2="462.56" y2="448.83" stroke="#e23025" stroke-width="1.3" stroke-linecap="round"/>
<line x1="462.56" y1="448.83" x2="465.00" y2="448.80" stroke="#e23025" stroke-width="1.3" stroke-linecap="round"/>
<line x1="465.00" y1="448.80" x2="467.19" y2="448.83" stroke="#e23025" stroke-width="1.3" stroke-linecap="round"/>
<line x1="467.19" y1="448.83" x2="469.20" y2="448.90" stroke="#e23025" stroke-width="1.3" stroke-linecap="round"/>
<line x1="469.20" y1="448.90" x2="471.11" y2="449.02" stroke="#e23025" stroke-width="1.3" stroke-linecap="round"/>
<line x1="471.11" y1="449.02" x2="472.95" y2="449.18" stroke="#e23025" stroke-width="1.3" stroke-linecap="round"/>
<line x1="472.95" y1="449.18" x2="474.80" y2="449.37" stroke="#e23125" stroke-width="1.3" stroke-linecap="round"/>
<line x1="474.80" y1="449.37" x2="476.70" y2="449.60" stroke="#e23125" stroke-width="1.3" stroke-linecap="round"/>
<line x1="476.70" y1="449.60" x2="478.65" y2="449.86" stroke="#e33125" stroke-width="1.3" stroke-linecap="round"/>
<line x1="478.65" y1="449.86" x2="480.60" y2="450.15" stroke="#e33225" stroke-width="1.3" stroke-linecap="round"/>
<line x1="480.60" y1="450.15" x2="482.56" y2="450.48" stroke="#e33325" stroke-width="1.3" stroke-linecap="round"/>
<line x1="482.56" y1="450.48" x2="484.51" y2="450.85" stroke="#e33326" stroke-width="1.3" stroke-linecap="round"/>
<line x1="484.51" y1="450.85" x2="486.46" y2="451.25" stroke="#e43426" stroke-width="1.3" stroke-linecap="round"/>
<line x1="486.46" y1="451.25" x2="488.40" y2="451.70" stroke="#e43526" stroke-width="1.3" stroke-linecap="round"/>
<line x1="488.40" y1="451.70" x2="490.34" y2="452.19" stroke="#e53626" stroke-width="1.3" stroke-linecap="round"/>
<line x1="490.34" y1="452.19" x2="492.27" y2="452.73" stroke="#e53626" stroke-width="1.3" stroke-linecap="round"/>
<line x1="492.27" y1="452.73" x2="494.20" y2="453.31" stroke="#e63827" stroke-width="1.3" stroke-linecap="round"/>
<line x1="494.20" y1="453.31" x2="496.13" y2="453.91" stroke="#e63927" stroke-width="1.3" stroke-linecap="round"/>
<line x1="496.13" y1="453.91" x2="498.06" y2="454.55" stroke="#e73a27" stroke-width="1.3" stroke-linecap="round"/>
<line x1="498.06" y1="454.55" x2="500.00" y2="455.20" stroke="#e73b27" stroke-width="1.3" stroke-linecap="round"/>
<line x1="500.00" y1="455.20" x2="501.94" y2="455.88" stroke="#e83c28" stroke-width="1.3" stroke-linecap="round"/>
<line x1="501.94" y1="455.88" x2="503.89" y2="456.58" stroke="#e83d28" stroke-width="1.3" stroke-linecap="round"/>
<line x1="503.89" y1="456.58" x2="505.84" y2="457.31" stroke="#e93f28" stroke-width="1.3" stroke-linecap="round"/>
<line x1="505.84" y1="457.31" x2="507.80" y2="458.06" stroke="#ea4028" stroke-width="1.3" stroke-linecap="round"/>
<line x1="507.80" y1="458.06" x2="509.75" y2="458.83" stroke="#ea4129" stroke-width="1.3" stroke-linecap="round"/>
<line x1="509.75" y1="458.83" x2="511.70" y2="459.60" stroke="#eb4429" stroke-width="1.3" stroke-linecap="round"/>
<line x1="511.70" y1="459.60" x2="513.65" y2="460.37" stroke="#eb472a" stroke-width="1.3" stroke-linecap="round"/>
<line x1="513.65" y1="460.37" x2="515.60" y2="461.14" stroke="#eb4a2a" stroke-width="1.3" stroke-linecap="round"/>
<line x1="515.60" y1="461.14" x2="517.56" y2="461.92" stroke="#ec4d2b" stroke-width="1.3" stroke-linecap="round"/>
<line x1="517.56" y1="461.92" x2="519.51" y2="462.73" stroke="#ec502b" stroke-width="1.3" stroke-linecap="round"/>
<line x1="519.51" y1="462.73" x2="521.46" y2="463.58" stroke="#ec532c" stroke-width="1.3" stroke-linecap="round"/>
<line x1="521.46" y1="463.58" x2="523.40" y2="464.50" stroke="#ec562c" stroke-width="1.3" stroke-linecap="round"/>
<line x1="523.40" y1="464.50" x2="525.35" y2="465.48" stroke="#ed5a2d" stroke-width="1.3" stroke-linecap="round"/>
<line x1="525.35" y1="465.48" x2="527.30" y2="466.51" stroke="#ed5e2e" stroke-width="1.3" stroke-linecap="round"/>
<line x1="527.30" y1="466.51" x2="529.24" y2="467.59" stroke="#ed622f" stroke-width="1.3" stroke-linecap="round"/>
<line x1="529.24" y1="467.59" x2="531.18" y2="468.70" stroke="#ee662f" stroke-width="1.3" stroke-linecap="round"/>
<line x1="531.18" y1="468.70" x2="533.10" y2="469.84" stroke="#ee6a30" stroke-width="1.3" stroke-linecap="round"/>
<line x1="533.10" y1="469.84" x2="535.00" y2="471.00" stroke="#ee6e31" stroke-width="1.3" stroke-linecap="round"/>
<line x1="535.00" y1="471.00" x2="536.83" y2="472.16" stroke="#ef7332" stroke-width="1.3" stroke-linecap="round"/>
<line x1="536.83" y1="472.16" x2="538.60" y2="473.31" stroke="#ef7732" stroke-width="1.3" stroke-linecap="round"/>
<line x1="538.60" y1="473.31" x2="540.35" y2="474.50" stroke="#ef7c33" stroke-width="1.3" stroke-linecap="round"/>
<line x1="540.35" y1="474.50" x2="542.13" y2="475.74" stroke="#f08034" stroke-width="1.3" stroke-linecap="round"/>
<line x1="542.13" y1="475.74" x2="544.00" y2="477.06" stroke="#f08535" stroke-width="1.3" stroke-linecap="round"/>
<line x1="544.00" y1="477.06" x2="546.00" y2="478.50" stroke="#ef8936" stroke-width="1.3" stroke-linecap="round"/>
<line x1="546.00" y1="478.50" x2="548.16" y2="480.05" stroke="#ed8c37" stroke-width="1.3" stroke-linecap="round"/>
<line x1="548.16" y1="480.05" x2="550.44" y2="481.69" stroke="#eb9038" stroke-width="1.3" stroke-linecap="round"/>
<line x1="550.44" y1="481.69" x2="552.81" y2="483.41" stroke="#e99439" stroke-width="1.3" stroke-linecap="round"/>
<line x1="552.81" y1="483.41" x2="555.22" y2="485.20" stroke="#e6993a" stroke-width="1.3" stroke-linecap="round"/>
<line x1="555.22" y1="485.20" x2="557.63" y2="487.07" stroke="#e49d3b" stroke-width="1.3" stroke-linecap="round"/>
<line x1="557.63" y1="487.07" x2="560.00" y2="489.00" stroke="#e2a23c" stroke-width="1.3" stroke-linecap="round"/>
<line x1="560.00" y1="489.00" x2="562.34" y2="490.99" stroke="#dfa73e" stroke-width="1.3" stroke-linecap="round"/>
<line x1="562.34" y1="490.99" x2="564.69" y2="493.06" stroke="#ddac3f" stroke-width="1.3" stroke-linecap="round"/>
<line x1="564.69" y1="493.06" x2="567.03" y2="495.19" stroke="#dab140" stroke-width="1.3" stroke-linecap="round"/>
<line x1="567.03" y1="495.19" x2="569.37" y2="497.39" stroke="#d5b343" stroke-width="1.3" stroke-linecap="round"/>
<line x1="569.37" y1="497.39" x2="571.70" y2="499.66" stroke="#cfb445" stroke-width="1.3" stroke-linecap="round"/>
<line x1="571.70" y1="499.66" x2="574.00" y2="502.00" stroke="#cab647" stroke-width="1.3" stroke-linecap="round"/>
<line x1="574.00" y1="502.00" x2="576.28" y2="504.42" stroke="#c4b74a" stroke-width="1.3" stroke-linecap="round"/>
<line x1="576.28" y1="504.42" x2="578.54" y2="506.93" stroke="#beb94c" stroke-width="1.3" stroke-linecap="round"/>
<line x1="578.54" y1="506.93" x2="580.78" y2="509.51" stroke="#b7ba4f" stroke-width="1.3" stroke-linecap="round"/>
<line x1="580.78" y1="509.51" x2="583.02" y2="512.14" stroke="#b1bc52" stroke-width="1.3" stroke-linecap="round"/>
<line x1="583.02" y1="512.14" x2="585.26" y2="514.81" stroke="#aabc56" stroke-width="1.3" stroke-linecap="round"/>
<line x1="585.26" y1="514.81" x2="587.50" y2="517.50" stroke="#a2bb5a" stroke-width="1.3" stroke-linecap="round"/>
<line x1="587.50" y1="517.50" x2="589.75" y2="520.23" stroke="#9aba5f" stroke-width="1.3" stroke-linecap="round"/>
<line x1="589.75" y1="520.23" x2="592.00" y2="523.02" stroke="#92b963" stroke-width="1.3" stroke-linecap="round"/>
<line x1="592.00" y1="523.02" x2="594.25" y2="525.85" stroke="#8ab768" stroke-width="1.3" stroke-linecap="round"/>
<line x1="594.25" y1="525.85" x2="596.50" y2="528.70" stroke="#81b66d" stroke-width="1.3" stroke-linecap="round"/>
<line x1="596.50" y1="528.70" x2="598.75" y2="531.56" stroke="#79b572" stroke-width="1.3" stroke-linecap="round"/>
<line x1="598.75" y1="531.56" x2="601.00" y2="534.40" stroke="#72b17b" stroke-width="1.3" stroke-linecap="round"/>
<line x1="601.00" y1="534.40" x2="603.25" y2="537.23" stroke="#6cae85" stroke-width="1.3" stroke-linecap="round"/>
<line x1="603.25" y1="537.23" x2="605.50" y2="540.05" stroke="#65ab8e" stroke-width="1.3" stroke-linecap="round"/>
<line x1="605.50" y1="540.05" x2="607.75" y2="542.88" stroke="#5ea797" stroke-width="1.3" stroke-linecap="round"/>
<line x1="607.75" y1="542.88" x2="610.00" y2="545.73" stroke="#58a4a0" stroke-width="1.3" stroke-linecap="round"/>
<line x1="610.00" y1="545.73" x2="612.25" y2="548.60" stroke="#51a0a9" stroke-width="1.3" stroke-linecap="round"/>
<line x1="612.25" y1="548.60" x2="614.50" y2="551.50" stroke="#4d9bb0" stroke-width="1.3" stroke-linecap="round"/>
<line x1="614.50" y1="551.50" x2="616.76" y2="554.48" stroke="#4a96b7" stroke-width="1.3" stroke-linecap="round"/>
<line x1="616.76" y1="554.48" x2="619.02" y2="557.53" stroke="#4690be" stroke-width="1.3" stroke-linecap="round"/>
<line x1="619.02" y1="557.53" x2="621.28" y2="560.60" stroke="#428ac5" stroke-width="1.3" stroke-linecap="round"/>
<line x1="621.28" y1="560.60" x2="623.54" y2="563.65" stroke="#3f85cc" stroke-width="1.3" stroke-linecap="round"/>
<line x1="623.54" y1="563.65" x2="625.78" y2="566.63" stroke="#3b7fd3" stroke-width="1.3" stroke-linecap="round"/>
<line x1="625.78" y1="566.63" x2="628.00" y2="569.50" stroke="#3c75d4" stroke-width="1.3" stroke-linecap="round"/>
<line x1="628.00" y1="569.50" x2="630.20" y2="572.22" stroke="#3e6cd4" stroke-width="1.3" stroke-linecap="round"/>
<line x1="630.20" y1="572.22" x2="632.39" y2="574.83" stroke="#3f63d5" stroke-width="1.3" stroke-linecap="round"/>
<line x1="632.39" y1="574.83" x2="634.56" y2="577.38" stroke="#405ad5" stroke-width="1.3" stroke-linecap="round"/>
<line x1="634.56" y1="577.38" x2="636.72" y2="579.89" stroke="#4252d6" stroke-width="1.3" stroke-linecap="round"/>
<line x1="636.72" y1="579.89" x2="638.87" y2="582.42" stroke="#4349d6" stroke-width="1.3" stroke-linecap="round"/>
<line x1="638.87" y1="582.42" x2="641.00" y2="585.00" stroke="#4541d4" stroke-width="1.3" stroke-linecap="round"/>
<line x1="641.00" y1="585.00" x2="643.26" y2="587.82" stroke="#4d3bc8" stroke-width="1.3" stroke-linecap="round"/>
<line x1="643.26" y1="587.82" x2="645.67" y2="590.89" stroke="#5635bb" stroke-width="1.3" stroke-linecap="round"/>
<line x1="645.67" y1="590.89" x2="648.06" y2="593.97" stroke="#5f2ead" stroke-width="1.3" stroke-linecap="round"/>
<line x1="648.06" y1="593.97" x2="650.28" y2="596.83" stroke="#6828a0" stroke-width="1.3" stroke-linecap="round"/>
<line x1="650.28" y1="596.83" x2="652.15" y2="599.25" stroke="#702294" stroke-width="1.3" stroke-linecap="round"/>
<line x1="652.15" y1="599.25" x2="653.50" y2="601.00" stroke="#761e8a" stroke-width="1.3" stroke-linecap="round"/>
<text x="468.3" y="476.2" font-family="Liberation Sans, sans-serif" font-weight="bold" font-size="22" textLength="51.5" lengthAdjust="spacingAndGlyphs">1.712</text>
<text x="468.3" y="504.8" font-family="Liberation Sans, sans-serif" font-weight="bold" font-size="22" textLength="51.5" lengthAdjust="spacingAndGlyphs">1.710</text>
<text x="468.3" y="533.4" font-family="Liberation Sans, sans-serif" font-weight="bold" font-size="22" textLength="51.5" lengthAdjust="spacingAndGlyphs">1.708</text>
<text x="468.3" y="562.0" font-family="Liberation Sans, sans-serif" font-weight="bold" font-size="22" textLength="51.5" lengthAdjust="spacingAndGlyphs">1.706</text>
<text x="468.3" y="590.6" font-family="Liberation Sans, sans-serif" font-weight="bold" font-size="22" textLength="51.5" lengthAdjust="spacingAndGlyphs">1.704</text>
<text x="390.0" y="624.8" font-family="Liberation Sans, sans-serif" font-weight="bold" font-size="22" text-anchor="middle">−2</text>
<text x="456.5" y="624.8" font-family="Liberation Sans, sans-serif" font-weight="bold" font-size="22" text-anchor="middle">−1</text>
<text x="589.5" y="624.8" font-family="Liberation Sans, sans-serif" font-weight="bold" font-size="22" text-anchor="middle">1</text>
<text x="656.0" y="624.8" font-family="Liberation Sans, sans-serif" font-weight="bold" font-size="22" text-anchor="middle">2</text>
<text x="523" y="429" font-family="Liberation Sans, sans-serif" font-weight="bold" font-size="29" text-anchor="middle">t</text>
<text x="676" y="613" font-family="Liberation Sans, sans-serif" font-weight="bold" font-size="29" text-anchor="middle">x</text>
</g>
</svg></body></html>
